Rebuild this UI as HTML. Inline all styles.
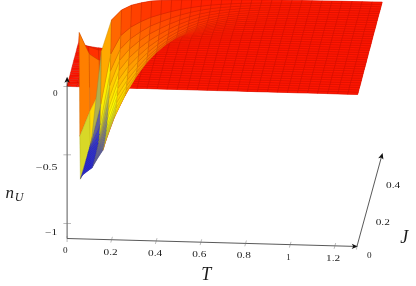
<!DOCTYPE html>
<html><head><meta charset="utf-8"><title>n_U(T,J) surface</title>
<style>
html,body{margin:0;padding:0;background:#fff;}
body{width:416px;height:286px;overflow:hidden;font-family:"Liberation Serif",serif;}
svg{display:block;}
text{font-family:"Liberation Serif",serif;}
</style></head><body>
<svg width="416" height="286" viewBox="0 0 416 286">
<rect width="416" height="286" fill="#fff"/>
<g stroke-width="0.42" stroke-linejoin="round">
<path d="M87.0 87.0L97.0 87.3L97.6 84.9L87.6 84.7ZM97.0 87.3L107.0 87.5L107.6 85.2L97.6 84.9ZM107.0 87.5L117.0 87.8L117.7 85.5L107.6 85.2ZM117.0 87.8L127.1 88.1L127.7 85.8L117.7 85.5ZM127.1 88.1L137.1 88.4L137.7 86.0L127.7 85.8ZM137.1 88.4L147.1 88.6L147.7 86.3L137.7 86.0ZM147.1 88.6L157.2 88.9L157.8 86.6L147.7 86.3ZM157.2 88.9L167.2 89.2L167.8 86.9L157.8 86.6ZM167.2 89.2L177.2 89.5L177.8 87.1L167.8 86.9ZM177.2 89.5L187.2 89.7L187.8 87.4L177.8 87.1ZM187.2 89.7L197.3 90.0L197.9 87.7L187.8 87.4ZM197.3 90.0L207.3 90.3L207.9 88.0L197.9 87.7ZM207.3 90.3L217.3 90.6L217.9 88.2L207.9 88.0ZM217.3 90.6L227.3 90.8L228.0 88.5L217.9 88.2ZM227.3 90.8L237.4 91.1L238.0 88.8L228.0 88.5ZM237.4 91.1L247.4 91.4L248.0 89.1L238.0 88.8ZM247.4 91.4L257.4 91.7L258.0 89.3L248.0 89.1ZM257.4 91.7L267.5 91.9L268.1 89.6L258.0 89.3ZM267.5 91.9L277.5 92.2L278.1 89.9L268.1 89.6ZM277.5 92.2L287.5 92.5L288.1 90.2L278.1 89.9ZM287.5 92.5L297.5 92.8L298.2 90.4L288.1 90.2ZM297.5 92.8L307.6 93.0L308.2 90.7L298.2 90.4ZM307.6 93.0L317.6 93.3L318.2 91.0L308.2 90.7ZM317.6 93.3L327.6 93.6L328.2 91.3L318.2 91.0ZM327.6 93.6L337.7 93.9L338.3 91.6L328.2 91.3ZM337.7 93.9L347.7 94.2L348.3 91.8L338.3 91.6ZM347.7 94.2L357.7 94.4L358.3 92.1L348.3 91.8ZM87.6 84.7L97.6 84.9L98.2 82.6L88.2 82.3ZM97.6 84.9L107.6 85.2L108.2 82.9L98.2 82.6ZM107.6 85.2L117.7 85.5L118.3 83.2L108.2 82.9ZM117.7 85.5L127.7 85.8L128.3 83.4L118.3 83.2ZM127.7 85.8L137.7 86.0L138.3 83.7L128.3 83.4ZM137.7 86.0L147.7 86.3L148.3 84.0L138.3 83.7ZM147.7 86.3L157.8 86.6L158.4 84.3L148.3 84.0ZM157.8 86.6L167.8 86.9L168.4 84.5L158.4 84.3ZM167.8 86.9L177.8 87.1L178.4 84.8L168.4 84.5ZM177.8 87.1L187.8 87.4L188.5 85.1L178.4 84.8ZM187.8 87.4L197.9 87.7L198.5 85.4L188.5 85.1ZM197.9 87.7L207.9 88.0L208.5 85.6L198.5 85.4ZM207.9 88.0L217.9 88.2L218.5 85.9L208.5 85.6ZM217.9 88.2L228.0 88.5L228.6 86.2L218.5 85.9ZM228.0 88.5L238.0 88.8L238.6 86.5L228.6 86.2ZM238.0 88.8L248.0 89.1L248.6 86.7L238.6 86.5ZM248.0 89.1L258.0 89.3L258.7 87.0L248.6 86.7ZM258.0 89.3L268.1 89.6L268.7 87.3L258.7 87.0ZM268.1 89.6L278.1 89.9L278.7 87.6L268.7 87.3ZM278.1 89.9L288.1 90.2L288.7 87.8L278.7 87.6ZM288.1 90.2L298.2 90.4L298.8 88.1L288.7 87.8ZM298.2 90.4L308.2 90.7L308.8 88.4L298.8 88.1ZM308.2 90.7L318.2 91.0L318.8 88.7L308.8 88.4ZM318.2 91.0L328.2 91.3L328.9 89.0L318.8 88.7ZM328.2 91.3L338.3 91.6L338.9 89.2L328.9 89.0ZM338.3 91.6L348.3 91.8L348.9 89.5L338.9 89.2ZM348.3 91.8L358.3 92.1L358.9 89.8L348.9 89.5ZM88.2 82.3L98.2 82.6L98.8 80.3L88.8 80.0ZM98.2 82.6L108.2 82.9L108.8 80.6L98.8 80.3ZM108.2 82.9L118.3 83.2L118.9 80.8L108.8 80.6ZM118.3 83.2L128.3 83.4L128.9 81.1L118.9 80.8ZM128.3 83.4L138.3 83.7L138.9 81.4L128.9 81.1ZM138.3 83.7L148.3 84.0L149.0 81.7L138.9 81.4ZM148.3 84.0L158.4 84.3L159.0 81.9L149.0 81.7ZM158.4 84.3L168.4 84.5L169.0 82.2L159.0 81.9ZM168.4 84.5L178.4 84.8L179.0 82.5L169.0 82.2ZM178.4 84.8L188.5 85.1L189.1 82.8L179.0 82.5ZM188.5 85.1L198.5 85.4L199.1 83.0L189.1 82.8ZM198.5 85.4L208.5 85.6L209.1 83.3L199.1 83.0ZM208.5 85.6L218.5 85.9L219.2 83.6L209.1 83.3ZM218.5 85.9L228.6 86.2L229.2 83.9L219.2 83.6ZM228.6 86.2L238.6 86.5L239.2 84.1L229.2 83.9ZM238.6 86.5L248.6 86.7L249.2 84.4L239.2 84.1ZM248.6 86.7L258.7 87.0L259.3 84.7L249.2 84.4ZM258.7 87.0L268.7 87.3L269.3 85.0L259.3 84.7ZM268.7 87.3L278.7 87.6L279.3 85.2L269.3 85.0ZM278.7 87.6L288.7 87.8L289.4 85.5L279.3 85.2ZM288.7 87.8L298.8 88.1L299.4 85.8L289.4 85.5ZM298.8 88.1L308.8 88.4L309.4 86.1L299.4 85.8ZM308.8 88.4L318.8 88.7L319.4 86.4L309.4 86.1ZM318.8 88.7L328.9 89.0L329.5 86.6L319.4 86.4ZM328.9 89.0L338.9 89.2L339.5 86.9L329.5 86.6ZM338.9 89.2L348.9 89.5L349.5 87.2L339.5 86.9ZM348.9 89.5L358.9 89.8L359.5 87.5L349.5 87.2ZM88.8 80.0L98.8 80.3L99.4 78.0L89.4 77.7ZM98.8 80.3L108.8 80.6L109.5 78.2L99.4 78.0ZM108.8 80.6L118.9 80.8L119.5 78.5L109.5 78.2ZM118.9 80.8L128.9 81.1L129.5 78.8L119.5 78.5ZM128.9 81.1L138.9 81.4L139.5 79.1L129.5 78.8ZM138.9 81.4L149.0 81.7L149.6 79.3L139.5 79.1ZM149.0 81.7L159.0 81.9L159.6 79.6L149.6 79.3ZM159.0 81.9L169.0 82.2L169.6 79.9L159.6 79.6ZM169.0 82.2L179.0 82.5L179.7 80.2L169.6 79.9ZM179.0 82.5L189.1 82.8L189.7 80.4L179.7 80.2ZM189.1 82.8L199.1 83.0L199.7 80.7L189.7 80.4ZM199.1 83.0L209.1 83.3L209.7 81.0L199.7 80.7ZM209.1 83.3L219.2 83.6L219.8 81.3L209.7 81.0ZM219.2 83.6L229.2 83.9L229.8 81.5L219.8 81.3ZM229.2 83.9L239.2 84.1L239.8 81.8L229.8 81.5ZM239.2 84.1L249.2 84.4L249.9 82.1L239.8 81.8ZM249.2 84.4L259.3 84.7L259.9 82.4L249.9 82.1ZM259.3 84.7L269.3 85.0L269.9 82.6L259.9 82.4ZM269.3 85.0L279.3 85.2L279.9 82.9L269.9 82.6ZM279.3 85.2L289.4 85.5L290.0 83.2L279.9 82.9ZM289.4 85.5L299.4 85.8L300.0 83.5L290.0 83.2ZM299.4 85.8L309.4 86.1L310.0 83.8L300.0 83.5ZM309.4 86.1L319.4 86.4L320.0 84.0L310.0 83.8ZM319.4 86.4L329.5 86.6L330.1 84.3L320.0 84.0ZM329.5 86.6L339.5 86.9L340.1 84.6L330.1 84.3ZM339.5 86.9L349.5 87.2L350.1 84.9L340.1 84.6ZM349.5 87.2L359.5 87.5L360.2 85.1L350.1 84.9ZM89.4 77.7L99.4 78.0L100.0 75.6L90.0 75.4ZM99.4 78.0L109.5 78.2L110.1 75.9L100.0 75.6ZM109.5 78.2L119.5 78.5L120.1 76.2L110.1 75.9ZM119.5 78.5L129.5 78.8L130.1 76.5L120.1 76.2ZM129.5 78.8L139.5 79.1L140.2 76.7L130.1 76.5ZM139.5 79.1L149.6 79.3L150.2 77.0L140.2 76.7ZM149.6 79.3L159.6 79.6L160.2 77.3L150.2 77.0ZM159.6 79.6L169.6 79.9L170.2 77.6L160.2 77.3ZM169.6 79.9L179.7 80.2L180.3 77.8L170.2 77.6ZM179.7 80.2L189.7 80.4L190.3 78.1L180.3 77.8ZM189.7 80.4L199.7 80.7L200.3 78.4L190.3 78.1ZM199.7 80.7L209.7 81.0L210.4 78.7L200.3 78.4ZM209.7 81.0L219.8 81.3L220.4 78.9L210.4 78.7ZM219.8 81.3L229.8 81.5L230.4 79.2L220.4 78.9ZM229.8 81.5L239.8 81.8L240.4 79.5L230.4 79.2ZM239.8 81.8L249.9 82.1L250.5 79.8L240.4 79.5ZM249.9 82.1L259.9 82.4L260.5 80.1L250.5 79.8ZM259.9 82.4L269.9 82.6L270.5 80.3L260.5 80.1ZM269.9 82.6L279.9 82.9L280.5 80.6L270.5 80.3ZM279.9 82.9L290.0 83.2L290.6 80.9L280.5 80.6ZM290.0 83.2L300.0 83.5L300.6 81.2L290.6 80.9ZM300.0 83.5L310.0 83.8L310.6 81.4L300.6 81.2ZM310.0 83.8L320.0 84.0L320.7 81.7L310.6 81.4ZM320.0 84.0L330.1 84.3L330.7 82.0L320.7 81.7ZM330.1 84.3L340.1 84.6L340.7 82.3L330.7 82.0ZM340.1 84.6L350.1 84.9L350.7 82.5L340.7 82.3ZM350.1 84.9L360.2 85.1L360.8 82.8L350.7 82.5ZM90.0 75.4L100.0 75.6L100.7 73.3L90.6 73.0ZM100.0 75.6L110.1 75.9L110.7 73.6L100.7 73.3ZM110.1 75.9L120.1 76.2L120.7 73.9L110.7 73.6ZM120.1 76.2L130.1 76.5L130.7 74.1L120.7 73.9ZM130.1 76.5L140.2 76.7L140.8 74.4L130.7 74.1ZM140.2 76.7L150.2 77.0L150.8 74.7L140.8 74.4ZM150.2 77.0L160.2 77.3L160.8 75.0L150.8 74.7ZM160.2 77.3L170.2 77.6L170.9 75.2L160.8 75.0ZM170.2 77.6L180.3 77.8L180.9 75.5L170.9 75.2ZM180.3 77.8L190.3 78.1L190.9 75.8L180.9 75.5ZM190.3 78.1L200.3 78.4L200.9 76.1L190.9 75.8ZM200.3 78.4L210.4 78.7L211.0 76.3L200.9 76.1ZM210.4 78.7L220.4 78.9L221.0 76.6L211.0 76.3ZM220.4 78.9L230.4 79.2L231.0 76.9L221.0 76.6ZM230.4 79.2L240.4 79.5L241.0 77.2L231.0 76.9ZM240.4 79.5L250.5 79.8L251.1 77.5L241.0 77.2ZM250.5 79.8L260.5 80.1L261.1 77.7L251.1 77.5ZM260.5 80.1L270.5 80.3L271.1 78.0L261.1 77.7ZM270.5 80.3L280.5 80.6L281.2 78.3L271.1 78.0ZM280.5 80.6L290.6 80.9L291.2 78.6L281.2 78.3ZM290.6 80.9L300.6 81.2L301.2 78.8L291.2 78.6ZM300.6 81.2L310.6 81.4L311.2 79.1L301.2 78.8ZM310.6 81.4L320.7 81.7L321.3 79.4L311.2 79.1ZM320.7 81.7L330.7 82.0L331.3 79.7L321.3 79.4ZM330.7 82.0L340.7 82.3L341.3 79.9L331.3 79.7ZM340.7 82.3L350.7 82.5L351.4 80.2L341.3 79.9ZM350.7 82.5L360.8 82.8L361.4 80.5L351.4 80.2ZM90.6 73.0L100.7 73.3L101.3 71.0L91.2 70.7ZM100.7 73.3L110.7 73.6L111.3 71.3L101.3 71.0ZM110.7 73.6L120.7 73.9L121.3 71.5L111.3 71.3ZM120.7 73.9L130.7 74.1L131.4 71.8L121.3 71.5ZM130.7 74.1L140.8 74.4L141.4 72.1L131.4 71.8ZM140.8 74.4L150.8 74.7L151.4 72.4L141.4 72.1ZM150.8 74.7L160.8 75.0L161.4 72.6L151.4 72.4ZM160.8 75.0L170.9 75.2L171.5 72.9L161.4 72.6ZM170.9 75.2L180.9 75.5L181.5 73.2L171.5 72.9ZM180.9 75.5L190.9 75.8L191.5 73.5L181.5 73.2ZM190.9 75.8L200.9 76.1L201.6 73.8L191.5 73.5ZM200.9 76.1L211.0 76.3L211.6 74.0L201.6 73.8ZM211.0 76.3L221.0 76.6L221.6 74.3L211.6 74.0ZM221.0 76.6L231.0 76.9L231.6 74.6L221.6 74.3ZM231.0 76.9L241.0 77.2L241.7 74.9L231.6 74.6ZM241.0 77.2L251.1 77.5L251.7 75.1L241.7 74.9ZM251.1 77.5L261.1 77.7L261.7 75.4L251.7 75.1ZM261.1 77.7L271.1 78.0L271.7 75.7L261.7 75.4ZM271.1 78.0L281.2 78.3L281.8 76.0L271.7 75.7ZM281.2 78.3L291.2 78.6L291.8 76.2L281.8 76.0ZM291.2 78.6L301.2 78.8L301.8 76.5L291.8 76.2ZM301.2 78.8L311.2 79.1L311.9 76.8L301.8 76.5ZM311.2 79.1L321.3 79.4L321.9 77.1L311.9 76.8ZM321.3 79.4L331.3 79.7L331.9 77.3L321.9 77.1ZM331.3 79.7L341.3 79.9L341.9 77.6L331.9 77.3ZM341.3 79.9L351.4 80.2L352.0 77.9L341.9 77.6ZM351.4 80.2L361.4 80.5L362.0 78.2L352.0 77.9ZM91.2 70.7L101.3 71.0L101.9 68.7L91.9 68.4ZM101.3 71.0L111.3 71.3L111.9 68.9L101.9 68.7ZM111.3 71.3L121.3 71.5L121.9 69.2L111.9 68.9ZM121.3 71.5L131.4 71.8L132.0 69.5L121.9 69.2ZM131.4 71.8L141.4 72.1L142.0 69.8L132.0 69.5ZM141.4 72.1L151.4 72.4L152.0 70.1L142.0 69.8ZM151.4 72.4L161.4 72.6L162.1 70.3L152.0 70.1ZM161.4 72.6L171.5 72.9L172.1 70.6L162.1 70.3ZM171.5 72.9L181.5 73.2L182.1 70.9L172.1 70.6ZM181.5 73.2L191.5 73.5L192.1 71.2L182.1 70.9ZM191.5 73.5L201.6 73.8L202.2 71.4L192.1 71.2ZM201.6 73.8L211.6 74.0L212.2 71.7L202.2 71.4ZM211.6 74.0L221.6 74.3L222.2 72.0L212.2 71.7ZM221.6 74.3L231.6 74.6L232.2 72.3L222.2 72.0ZM231.6 74.6L241.7 74.9L242.3 72.5L232.2 72.3ZM241.7 74.9L251.7 75.1L252.3 72.8L242.3 72.5ZM251.7 75.1L261.7 75.4L262.3 73.1L252.3 72.8ZM261.7 75.4L271.7 75.7L272.4 73.4L262.3 73.1ZM271.7 75.7L281.8 76.0L282.4 73.6L272.4 73.4ZM281.8 76.0L291.8 76.2L292.4 73.9L282.4 73.6ZM291.8 76.2L301.8 76.5L302.4 74.2L292.4 73.9ZM301.8 76.5L311.9 76.8L312.5 74.5L302.4 74.2ZM311.9 76.8L321.9 77.1L322.5 74.7L312.5 74.5ZM321.9 77.1L331.9 77.3L332.5 75.0L322.5 74.7ZM331.9 77.3L341.9 77.6L342.6 75.3L332.5 75.0ZM341.9 77.6L352.0 77.9L352.6 75.6L342.6 75.3ZM352.0 77.9L362.0 78.2L362.6 75.8L352.6 75.6ZM91.9 68.4L101.9 68.7L102.5 66.3L92.5 66.1ZM101.9 68.7L111.9 68.9L112.5 66.6L102.5 66.3ZM111.9 68.9L121.9 69.2L122.6 66.9L112.5 66.6ZM121.9 69.2L132.0 69.5L132.6 67.2L122.6 66.9ZM132.0 69.5L142.0 69.8L142.6 67.5L132.6 67.2ZM142.0 69.8L152.0 70.1L152.6 67.7L142.6 67.5ZM152.0 70.1L162.1 70.3L162.7 68.0L152.6 67.7ZM162.1 70.3L172.1 70.6L172.7 68.3L162.7 68.0ZM172.1 70.6L182.1 70.9L182.7 68.6L172.7 68.3ZM182.1 70.9L192.1 71.2L192.7 68.8L182.7 68.6ZM192.1 71.2L202.2 71.4L202.8 69.1L192.7 68.8ZM202.2 71.4L212.2 71.7L212.8 69.4L202.8 69.1ZM212.2 71.7L222.2 72.0L222.8 69.7L212.8 69.4ZM222.2 72.0L232.2 72.3L232.9 69.9L222.8 69.7ZM232.2 72.3L242.3 72.5L242.9 70.2L232.9 69.9ZM242.3 72.5L252.3 72.8L252.9 70.5L242.9 70.2ZM252.3 72.8L262.3 73.1L262.9 70.8L252.9 70.5ZM262.3 73.1L272.4 73.4L273.0 71.0L262.9 70.8ZM272.4 73.4L282.4 73.6L283.0 71.3L273.0 71.0ZM282.4 73.6L292.4 73.9L293.0 71.6L283.0 71.3ZM292.4 73.9L302.4 74.2L303.1 71.9L293.0 71.6ZM302.4 74.2L312.5 74.5L313.1 72.1L303.1 71.9ZM312.5 74.5L322.5 74.7L323.1 72.4L313.1 72.1ZM322.5 74.7L332.5 75.0L333.1 72.7L323.1 72.4ZM332.5 75.0L342.6 75.3L343.2 73.0L333.1 72.7ZM342.6 75.3L352.6 75.6L353.2 73.2L343.2 73.0ZM352.6 75.6L362.6 75.8L363.2 73.5L353.2 73.2ZM92.5 66.1L102.5 66.3L103.1 64.0L93.1 63.7ZM102.5 66.3L112.5 66.6L113.1 64.3L103.1 64.0ZM112.5 66.6L122.6 66.9L123.2 64.6L113.1 64.3ZM122.6 66.9L132.6 67.2L133.2 64.9L123.2 64.6ZM132.6 67.2L142.6 67.5L143.2 65.1L133.2 64.9ZM142.6 67.5L152.6 67.7L153.2 65.4L143.2 65.1ZM152.6 67.7L162.7 68.0L163.3 65.7L153.2 65.4ZM162.7 68.0L172.7 68.3L173.3 66.0L163.3 65.7ZM172.7 68.3L182.7 68.6L183.3 66.2L173.3 66.0ZM182.7 68.6L192.7 68.8L193.4 66.5L183.3 66.2ZM192.7 68.8L202.8 69.1L203.4 66.8L193.4 66.5ZM202.8 69.1L212.8 69.4L213.4 67.1L203.4 66.8ZM212.8 69.4L222.8 69.7L223.4 67.3L213.4 67.1ZM222.8 69.7L232.9 69.9L233.5 67.6L223.4 67.3ZM232.9 69.9L242.9 70.2L243.5 67.9L233.5 67.6ZM242.9 70.2L252.9 70.5L253.5 68.2L243.5 67.9ZM252.9 70.5L262.9 70.8L263.6 68.4L253.5 68.2ZM262.9 70.8L273.0 71.0L273.6 68.7L263.6 68.4ZM273.0 71.0L283.0 71.3L283.6 69.0L273.6 68.7ZM283.0 71.3L293.0 71.6L293.6 69.3L283.6 69.0ZM293.0 71.6L303.1 71.9L303.7 69.5L293.6 69.3ZM303.1 71.9L313.1 72.1L313.7 69.8L303.7 69.5ZM313.1 72.1L323.1 72.4L323.7 70.1L313.7 69.8ZM323.1 72.4L333.1 72.7L333.8 70.4L323.7 70.1ZM333.1 72.7L343.2 73.0L343.8 70.6L333.8 70.4ZM343.2 73.0L353.2 73.2L353.8 70.9L343.8 70.6ZM353.2 73.2L363.2 73.5L363.8 71.2L353.8 70.9ZM93.1 63.7L103.1 64.0L103.7 61.7L93.7 61.4ZM103.1 64.0L113.1 64.3L113.7 62.0L103.7 61.7ZM113.1 64.3L123.2 64.6L123.8 62.3L113.7 62.0ZM123.2 64.6L133.2 64.9L133.8 62.6L123.8 62.3ZM133.2 64.9L143.2 65.1L143.8 62.8L133.8 62.6ZM143.2 65.1L153.2 65.4L153.9 63.1L143.8 62.8ZM153.2 65.4L163.3 65.7L163.9 63.4L153.9 63.1ZM163.3 65.7L173.3 66.0L173.9 63.7L163.9 63.4ZM173.3 66.0L183.3 66.2L183.9 63.9L173.9 63.7ZM183.3 66.2L193.4 66.5L194.0 64.2L183.9 63.9ZM193.4 66.5L203.4 66.8L204.0 64.5L194.0 64.2ZM203.4 66.8L213.4 67.1L214.0 64.8L204.0 64.5ZM213.4 67.1L223.4 67.3L224.1 65.0L214.0 64.8ZM223.4 67.3L233.5 67.6L234.1 65.3L224.1 65.0ZM233.5 67.6L243.5 67.9L244.1 65.6L234.1 65.3ZM243.5 67.9L253.5 68.2L254.1 65.8L244.1 65.6ZM253.5 68.2L263.6 68.4L264.2 66.1L254.1 65.8ZM263.6 68.4L273.6 68.7L274.2 66.4L264.2 66.1ZM273.6 68.7L283.6 69.0L284.2 66.7L274.2 66.4ZM283.6 69.0L293.6 69.3L294.3 66.9L284.2 66.7ZM293.6 69.3L303.7 69.5L304.3 67.2L294.3 66.9ZM303.7 69.5L313.7 69.8L314.3 67.5L304.3 67.2ZM313.7 69.8L323.7 70.1L324.3 67.8L314.3 67.5ZM323.7 70.1L333.8 70.4L334.4 68.0L324.3 67.8ZM333.8 70.4L343.8 70.6L344.4 68.3L334.4 68.0ZM343.8 70.6L353.8 70.9L354.4 68.6L344.4 68.3ZM353.8 70.9L363.8 71.2L364.4 68.9L354.4 68.6ZM93.7 61.4L103.7 61.7L104.3 59.4L94.3 59.1ZM103.7 61.7L113.7 62.0L114.4 59.7L104.3 59.4ZM113.7 62.0L123.8 62.3L124.4 60.0L114.4 59.7ZM123.8 62.3L133.8 62.6L134.4 60.3L124.4 60.0ZM133.8 62.6L143.8 62.8L144.4 60.6L134.4 60.3ZM143.8 62.8L153.9 63.1L154.5 60.8L144.4 60.6ZM153.9 63.1L163.9 63.4L164.5 61.1L154.5 60.8ZM163.9 63.4L173.9 63.7L174.5 61.4L164.5 61.1ZM173.9 63.7L183.9 63.9L184.6 61.6L174.5 61.4ZM183.9 63.9L194.0 64.2L194.6 61.9L184.6 61.6ZM194.0 64.2L204.0 64.5L204.6 62.2L194.6 61.9ZM204.0 64.5L214.0 64.8L214.6 62.4L204.6 62.2ZM214.0 64.8L224.1 65.0L224.7 62.7L214.6 62.4ZM224.1 65.0L234.1 65.3L234.7 63.0L224.7 62.7ZM234.1 65.3L244.1 65.6L244.7 63.3L234.7 63.0ZM244.1 65.6L254.1 65.8L254.8 63.5L244.7 63.3ZM254.1 65.8L264.2 66.1L264.8 63.8L254.8 63.5ZM264.2 66.1L274.2 66.4L274.8 64.1L264.8 63.8ZM274.2 66.4L284.2 66.7L284.8 64.3L274.8 64.1ZM284.2 66.7L294.3 66.9L294.9 64.6L284.8 64.3ZM294.3 66.9L304.3 67.2L304.9 64.9L294.9 64.6ZM304.3 67.2L314.3 67.5L314.9 65.2L304.9 64.9ZM314.3 67.5L324.3 67.8L324.9 65.4L314.9 65.2ZM324.3 67.8L334.4 68.0L335.0 65.7L324.9 65.4ZM334.4 68.0L344.4 68.3L345.0 66.0L335.0 65.7ZM344.4 68.3L354.4 68.6L355.0 66.3L345.0 66.0ZM354.4 68.6L364.4 68.9L365.1 66.5L355.0 66.3ZM94.3 59.1L104.3 59.4L104.9 57.2L94.9 56.8ZM104.3 59.4L114.4 59.7L115.0 57.5L104.9 57.2ZM114.4 59.7L124.4 60.0L125.0 57.8L115.0 57.5ZM124.4 60.0L134.4 60.3L135.0 58.0L125.0 57.8ZM134.4 60.3L144.4 60.6L145.1 58.3L135.0 58.0ZM144.4 60.6L154.5 60.8L155.1 58.5L145.1 58.3ZM154.5 60.8L164.5 61.1L165.1 58.8L155.1 58.5ZM164.5 61.1L174.5 61.4L175.1 59.1L165.1 58.8ZM174.5 61.4L184.6 61.6L185.2 59.3L175.1 59.1ZM184.6 61.6L194.6 61.9L195.2 59.6L185.2 59.3ZM194.6 61.9L204.6 62.2L205.2 59.9L195.2 59.6ZM204.6 62.2L214.6 62.4L215.3 60.1L205.2 59.9ZM214.6 62.4L224.7 62.7L225.3 60.4L215.3 60.1ZM224.7 62.7L234.7 63.0L235.3 60.7L225.3 60.4ZM234.7 63.0L244.7 63.3L245.3 60.9L235.3 60.7ZM244.7 63.3L254.8 63.5L255.4 61.2L245.3 60.9ZM254.8 63.5L264.8 63.8L265.4 61.5L255.4 61.2ZM264.8 63.8L274.8 64.1L275.4 61.8L265.4 61.5ZM274.8 64.1L284.8 64.3L285.4 62.0L275.4 61.8ZM284.8 64.3L294.9 64.6L295.5 62.3L285.4 62.0ZM294.9 64.6L304.9 64.9L305.5 62.6L295.5 62.3ZM304.9 64.9L314.9 65.2L315.5 62.8L305.5 62.6ZM314.9 65.2L324.9 65.4L325.6 63.1L315.5 62.8ZM324.9 65.4L335.0 65.7L335.6 63.4L325.6 63.1ZM335.0 65.7L345.0 66.0L345.6 63.7L335.6 63.4ZM345.0 66.0L355.0 66.3L355.6 63.9L345.6 63.7ZM355.0 66.3L365.1 66.5L365.7 64.2L355.6 63.9ZM94.9 56.8L104.9 57.2L105.6 55.0L95.5 54.4ZM104.9 57.2L115.0 57.5L115.6 55.3L105.6 55.0ZM115.0 57.5L125.0 57.8L125.6 55.5L115.6 55.3ZM125.0 57.8L135.0 58.0L135.6 55.8L125.6 55.5ZM135.0 58.0L145.1 58.3L145.7 56.0L135.6 55.8ZM145.1 58.3L155.1 58.5L155.7 56.3L145.7 56.0ZM155.1 58.5L165.1 58.8L165.7 56.5L155.7 56.3ZM165.1 58.8L175.1 59.1L175.8 56.8L165.7 56.5ZM175.1 59.1L185.2 59.3L185.8 57.0L175.8 56.8ZM185.2 59.3L195.2 59.6L195.8 57.3L185.8 57.0ZM195.2 59.6L205.2 59.9L205.8 57.6L195.8 57.3ZM205.2 59.9L215.3 60.1L215.9 57.8L205.8 57.6ZM215.3 60.1L225.3 60.4L225.9 58.1L215.9 57.8ZM225.3 60.4L235.3 60.7L235.9 58.4L225.9 58.1ZM235.3 60.7L245.3 60.9L245.9 58.6L235.9 58.4ZM245.3 60.9L255.4 61.2L256.0 58.9L245.9 58.6ZM255.4 61.2L265.4 61.5L266.0 59.2L256.0 58.9ZM265.4 61.5L275.4 61.8L276.0 59.4L266.0 59.2ZM275.4 61.8L285.4 62.0L286.1 59.7L276.0 59.4ZM285.4 62.0L295.5 62.3L296.1 60.0L286.1 59.7ZM295.5 62.3L305.5 62.6L306.1 60.3L296.1 60.0ZM305.5 62.6L315.5 62.8L316.1 60.5L306.1 60.3ZM315.5 62.8L325.6 63.1L326.2 60.8L316.1 60.5ZM325.6 63.1L335.6 63.4L336.2 61.1L326.2 60.8ZM335.6 63.4L345.6 63.7L346.2 61.3L336.2 61.1ZM345.6 63.7L355.6 63.9L356.3 61.6L346.2 61.3ZM355.6 63.9L365.7 64.2L366.3 61.9L356.3 61.6ZM95.5 54.4L105.6 55.0L106.2 53.0L96.1 52.1ZM105.6 55.0L115.6 55.3L116.2 53.2L106.2 53.0ZM115.6 55.3L125.6 55.5L126.2 53.4L116.2 53.2ZM125.6 55.5L135.6 55.8L136.3 53.6L126.2 53.4ZM135.6 55.8L145.7 56.0L146.3 53.8L136.3 53.6ZM145.7 56.0L155.7 56.3L156.3 54.1L146.3 53.8ZM155.7 56.3L165.7 56.5L166.3 54.3L156.3 54.1ZM165.7 56.5L175.8 56.8L176.4 54.5L166.3 54.3ZM175.8 56.8L185.8 57.0L186.4 54.8L176.4 54.5ZM185.8 57.0L195.8 57.3L196.4 55.0L186.4 54.8ZM195.8 57.3L205.8 57.6L206.5 55.3L196.4 55.0ZM205.8 57.6L215.9 57.8L216.5 55.5L206.5 55.3ZM215.9 57.8L225.9 58.1L226.5 55.8L216.5 55.5ZM225.9 58.1L235.9 58.4L236.5 56.1L226.5 55.8ZM235.9 58.4L245.9 58.6L246.6 56.3L236.5 56.1ZM245.9 58.6L256.0 58.9L256.6 56.6L246.6 56.3ZM256.0 58.9L266.0 59.2L266.6 56.9L256.6 56.6ZM266.0 59.2L276.0 59.4L276.6 57.1L266.6 56.9ZM276.0 59.4L286.1 59.7L286.7 57.4L276.6 57.1ZM286.1 59.7L296.1 60.0L296.7 57.7L286.7 57.4ZM296.1 60.0L306.1 60.3L306.7 57.9L296.7 57.7ZM306.1 60.3L316.1 60.5L316.8 58.2L306.7 57.9ZM316.1 60.5L326.2 60.8L326.8 58.5L316.8 58.2ZM326.2 60.8L336.2 61.1L336.8 58.8L326.8 58.5ZM336.2 61.1L346.2 61.3L346.8 59.0L336.8 58.8ZM346.2 61.3L356.3 61.6L356.9 59.3L346.8 59.0ZM356.3 61.6L366.3 61.9L366.9 59.6L356.9 59.3ZM96.1 52.1L106.2 53.0L106.8 51.2L96.8 50.3ZM106.2 53.0L116.2 53.2L116.8 51.3L106.8 51.2ZM116.2 53.2L126.2 53.4L126.8 51.4L116.8 51.3ZM126.2 53.4L136.3 53.6L136.9 51.5L126.8 51.4ZM136.3 53.6L146.3 53.8L146.9 51.7L136.9 51.5ZM146.3 53.8L156.3 54.1L156.9 51.9L146.9 51.7ZM156.3 54.1L166.3 54.3L167.0 52.1L156.9 51.9ZM166.3 54.3L176.4 54.5L177.0 52.3L167.0 52.1ZM176.4 54.5L186.4 54.8L187.0 52.5L177.0 52.3ZM186.4 54.8L196.4 55.0L197.0 52.8L187.0 52.5ZM196.4 55.0L206.5 55.3L207.1 53.0L197.0 52.8ZM206.5 55.3L216.5 55.5L217.1 53.3L207.1 53.0ZM216.5 55.5L226.5 55.8L227.1 53.5L217.1 53.3ZM226.5 55.8L236.5 56.1L237.1 53.8L227.1 53.5ZM236.5 56.1L246.6 56.3L247.2 54.0L237.1 53.8ZM246.6 56.3L256.6 56.6L257.2 54.3L247.2 54.0ZM256.6 56.6L266.6 56.9L267.2 54.5L257.2 54.3ZM266.6 56.9L276.6 57.1L277.3 54.8L267.2 54.5ZM276.6 57.1L286.7 57.4L287.3 55.1L277.3 54.8ZM286.7 57.4L296.7 57.7L297.3 55.3L287.3 55.1ZM296.7 57.7L306.7 57.9L307.3 55.6L297.3 55.3ZM306.7 57.9L316.8 58.2L317.4 55.9L307.3 55.6ZM316.8 58.2L326.8 58.5L327.4 56.2L317.4 55.9ZM326.8 58.5L336.8 58.8L337.4 56.4L327.4 56.2ZM336.8 58.8L346.8 59.0L347.5 56.7L337.4 56.4ZM346.8 59.0L356.9 59.3L357.5 57.0L347.5 56.7ZM356.9 59.3L366.9 59.6L367.5 57.3L357.5 57.0ZM96.8 50.3L106.8 51.2L107.4 49.9L97.4 48.8ZM106.8 51.2L116.8 51.3L117.4 49.7L107.4 49.9ZM116.8 51.3L126.8 51.4L127.5 49.6L117.4 49.7ZM126.8 51.4L136.9 51.5L137.5 49.6L127.5 49.6ZM136.9 51.5L146.9 51.7L147.5 49.7L137.5 49.6ZM146.9 51.7L156.9 51.9L157.5 49.8L147.5 49.7ZM156.9 51.9L167.0 52.1L167.6 49.9L157.5 49.8ZM167.0 52.1L177.0 52.3L177.6 50.1L167.6 49.9ZM177.0 52.3L187.0 52.5L187.6 50.3L177.6 50.1ZM187.0 52.5L197.0 52.8L197.6 50.5L187.6 50.3ZM197.0 52.8L207.1 53.0L207.7 50.7L197.6 50.5ZM207.1 53.0L217.1 53.3L217.7 51.0L207.7 50.7ZM217.1 53.3L227.1 53.5L227.7 51.2L217.7 51.0ZM227.1 53.5L237.1 53.8L237.8 51.5L227.7 51.2ZM237.1 53.8L247.2 54.0L247.8 51.7L237.8 51.5ZM247.2 54.0L257.2 54.3L257.8 52.0L247.8 51.7ZM257.2 54.3L267.2 54.5L267.8 52.2L257.8 52.0ZM267.2 54.5L277.3 54.8L277.9 52.5L267.8 52.2ZM277.3 54.8L287.3 55.1L287.9 52.8L277.9 52.5ZM287.3 55.1L297.3 55.3L297.9 53.0L287.9 52.8ZM297.3 55.3L307.3 55.6L308.0 53.3L297.9 53.0ZM307.3 55.6L317.4 55.9L318.0 53.6L308.0 53.3ZM317.4 55.9L327.4 56.2L328.0 53.8L318.0 53.6ZM327.4 56.2L337.4 56.4L338.0 54.1L328.0 53.8ZM337.4 56.4L347.5 56.7L348.1 54.4L338.0 54.1ZM347.5 56.7L357.5 57.0L358.1 54.7L348.1 54.4ZM357.5 57.0L367.5 57.3L368.1 54.9L358.1 54.7ZM97.4 48.8L107.4 49.9L108.0 49.3L98.0 47.9ZM107.4 49.9L117.4 49.7L118.0 48.6L108.0 49.3ZM117.4 49.7L127.5 49.6L128.1 48.2L118.0 48.6ZM127.5 49.6L137.5 49.6L138.1 47.9L128.1 48.2ZM137.5 49.6L147.5 49.7L148.1 47.8L138.1 47.9ZM147.5 49.7L157.5 49.8L158.1 47.8L148.1 47.8ZM157.5 49.8L167.6 49.9L168.2 47.8L158.1 47.8ZM167.6 49.9L177.6 50.1L178.2 48.0L168.2 47.8ZM177.6 50.1L187.6 50.3L188.2 48.1L178.2 48.0ZM187.6 50.3L197.6 50.5L198.3 48.3L188.2 48.1ZM197.6 50.5L207.7 50.7L208.3 48.5L198.3 48.3ZM207.7 50.7L217.7 51.0L218.3 48.7L208.3 48.5ZM217.7 51.0L227.7 51.2L228.3 49.0L218.3 48.7ZM227.7 51.2L237.8 51.5L238.4 49.2L228.3 49.0ZM237.8 51.5L247.8 51.7L248.4 49.4L238.4 49.2ZM247.8 51.7L257.8 52.0L258.4 49.7L248.4 49.4ZM257.8 52.0L267.8 52.2L268.5 49.9L258.4 49.7ZM267.8 52.2L277.9 52.5L278.5 50.2L268.5 49.9ZM277.9 52.5L287.9 52.8L288.5 50.5L278.5 50.2ZM287.9 52.8L297.9 53.0L298.5 50.7L288.5 50.5ZM297.9 53.0L308.0 53.3L308.6 51.0L298.5 50.7ZM308.0 53.3L318.0 53.6L318.6 51.3L308.6 51.0ZM318.0 53.6L328.0 53.8L328.6 51.5L318.6 51.3ZM328.0 53.8L338.0 54.1L338.7 51.8L328.6 51.5ZM338.0 54.1L348.1 54.4L348.7 52.1L338.7 51.8ZM348.1 54.4L358.1 54.7L358.7 52.3L348.7 52.1ZM358.1 54.7L368.1 54.9L368.7 52.6L358.7 52.3ZM98.0 47.9L108.0 49.3L108.6 50.2L98.6 50.1ZM108.0 49.3L118.0 48.6L118.6 48.4L108.6 50.2ZM118.0 48.6L128.1 48.2L128.7 47.2L118.6 48.4ZM128.1 48.2L138.1 47.9L138.7 46.5L128.7 47.2ZM138.1 47.9L148.1 47.8L148.7 46.1L138.7 46.5ZM148.1 47.8L158.1 47.8L158.8 45.9L148.7 46.1ZM158.1 47.8L168.2 47.8L168.8 45.8L158.8 45.9ZM168.2 47.8L178.2 48.0L178.8 45.9L168.8 45.8ZM178.2 48.0L188.2 48.1L188.8 46.0L178.8 45.9ZM188.2 48.1L198.3 48.3L198.9 46.1L188.8 46.0ZM198.3 48.3L208.3 48.5L208.9 46.3L198.9 46.1ZM208.3 48.5L218.3 48.7L218.9 46.5L208.9 46.3ZM218.3 48.7L228.3 49.0L229.0 46.7L218.9 46.5ZM228.3 49.0L238.4 49.2L239.0 46.9L229.0 46.7ZM238.4 49.2L248.4 49.4L249.0 47.1L239.0 46.9ZM248.4 49.4L258.4 49.7L259.0 47.4L249.0 47.1ZM258.4 49.7L268.5 49.9L269.1 47.6L259.0 47.4ZM268.5 49.9L278.5 50.2L279.1 47.9L269.1 47.6ZM278.5 50.2L288.5 50.5L289.1 48.2L279.1 47.9ZM288.5 50.5L298.5 50.7L299.2 48.4L289.1 48.2ZM298.5 50.7L308.6 51.0L309.2 48.7L299.2 48.4ZM308.6 51.0L318.6 51.3L319.2 48.9L309.2 48.7ZM318.6 51.3L328.6 51.5L329.2 49.2L319.2 48.9ZM328.6 51.5L338.7 51.8L339.3 49.5L329.2 49.2ZM338.7 51.8L348.7 52.1L349.3 49.8L339.3 49.5ZM348.7 52.1L358.7 52.3L359.3 50.0L349.3 49.8ZM358.7 52.3L368.7 52.6L369.3 50.3L359.3 50.0ZM98.6 50.1L108.6 50.2L109.2 53.5L99.2 60.5ZM108.6 50.2L118.6 48.4L119.3 49.6L109.2 53.5ZM118.6 48.4L128.7 47.2L129.3 47.1L119.3 49.6ZM128.7 47.2L138.7 46.5L139.3 45.6L129.3 47.1ZM138.7 46.5L148.7 46.1L149.3 44.7L139.3 45.6ZM148.7 46.1L158.8 45.9L159.4 44.3L149.3 44.7ZM158.8 45.9L168.8 45.8L169.4 44.0L159.4 44.3ZM168.8 45.8L178.8 45.9L179.4 43.9L169.4 44.0ZM178.8 45.9L188.8 46.0L189.5 43.9L179.4 43.9ZM188.8 46.0L198.9 46.1L199.5 44.0L189.5 43.9ZM198.9 46.1L208.9 46.3L209.5 44.1L199.5 44.0ZM208.9 46.3L218.9 46.5L219.5 44.3L209.5 44.1ZM218.9 46.5L229.0 46.7L229.6 44.5L219.5 44.3ZM229.0 46.7L239.0 46.9L239.6 44.7L229.6 44.5ZM239.0 46.9L249.0 47.1L249.6 44.9L239.6 44.7ZM249.0 47.1L259.0 47.4L259.7 45.1L249.6 44.9ZM259.0 47.4L269.1 47.6L269.7 45.3L259.7 45.1ZM269.1 47.6L279.1 47.9L279.7 45.6L269.7 45.3ZM279.1 47.9L289.1 48.2L289.7 45.8L279.7 45.6ZM289.1 48.2L299.2 48.4L299.8 46.1L289.7 45.8ZM299.2 48.4L309.2 48.7L309.8 46.4L299.8 46.1ZM309.2 48.7L319.2 48.9L319.8 46.6L309.8 46.4ZM319.2 48.9L329.2 49.2L329.8 46.9L319.8 46.6ZM329.2 49.2L339.3 49.5L339.9 47.2L329.8 46.9ZM339.3 49.5L349.3 49.8L349.9 47.4L339.9 47.2ZM349.3 49.8L359.3 50.0L359.9 47.7L349.9 47.4ZM359.3 50.0L369.3 50.3L370.0 48.0L359.9 47.7ZM99.2 60.5L109.2 53.5L109.8 60.0L99.8 91.6ZM109.2 53.5L119.3 49.6L119.9 52.7L109.8 60.0ZM119.3 49.6L129.3 47.1L129.9 48.2L119.9 52.7ZM129.3 47.1L139.3 45.6L139.9 45.5L129.9 48.2ZM139.3 45.6L149.3 44.7L150.0 43.8L139.9 45.5ZM149.3 44.7L159.4 44.3L160.0 42.9L150.0 43.8ZM159.4 44.3L169.4 44.0L170.0 42.3L160.0 42.9ZM169.4 44.0L179.4 43.9L180.0 42.1L170.0 42.3ZM179.4 43.9L189.5 43.9L190.1 41.9L180.0 42.1ZM189.5 43.9L199.5 44.0L200.1 41.9L190.1 41.9ZM199.5 44.0L209.5 44.1L210.1 42.0L200.1 41.9ZM209.5 44.1L219.5 44.3L220.2 42.1L210.1 42.0ZM219.5 44.3L229.6 44.5L230.2 42.2L220.2 42.1ZM229.6 44.5L239.6 44.7L240.2 42.4L230.2 42.2ZM239.6 44.7L249.6 44.9L250.2 42.6L240.2 42.4ZM249.6 44.9L259.7 45.1L260.3 42.8L250.2 42.6ZM259.7 45.1L269.7 45.3L270.3 43.1L260.3 42.8ZM269.7 45.3L279.7 45.6L280.3 43.3L270.3 43.1ZM279.7 45.6L289.7 45.8L290.3 43.5L280.3 43.3ZM289.7 45.8L299.8 46.1L300.4 43.8L290.3 43.5ZM299.8 46.1L309.8 46.4L310.4 44.1L300.4 43.8ZM309.8 46.4L319.8 46.6L320.4 44.3L310.4 44.1ZM319.8 46.6L329.8 46.9L330.5 44.6L320.4 44.3ZM329.8 46.9L339.9 47.2L340.5 44.9L330.5 44.6ZM339.9 47.2L349.9 47.4L350.5 45.1L340.5 44.9ZM349.9 47.4L359.9 47.7L360.5 45.4L350.5 45.1ZM359.9 47.7L370.0 48.0L370.6 45.7L360.5 45.4ZM99.8 91.6L109.8 60.0L110.5 70.4L100.4 130.4ZM109.8 60.0L119.9 52.7L120.5 58.2L110.5 70.4ZM119.9 52.7L129.9 48.2L130.5 50.7L120.5 58.2ZM129.9 48.2L139.9 45.5L140.5 46.2L130.5 50.7ZM139.9 45.5L150.0 43.8L150.6 43.5L140.5 46.2ZM150.0 43.8L160.0 42.9L160.6 41.9L150.6 43.5ZM160.0 42.9L170.0 42.3L170.6 40.9L160.6 41.9ZM170.0 42.3L180.0 42.1L180.7 40.4L170.6 40.9ZM180.0 42.1L190.1 41.9L190.7 40.1L180.7 40.4ZM190.1 41.9L200.1 41.9L200.7 39.9L190.7 40.1ZM200.1 41.9L210.1 42.0L210.7 39.9L200.7 39.9ZM210.1 42.0L220.2 42.1L220.8 40.0L210.7 39.9ZM220.2 42.1L230.2 42.2L230.8 40.1L220.8 40.0ZM230.2 42.2L240.2 42.4L240.8 40.2L230.8 40.1ZM240.2 42.4L250.2 42.6L250.8 40.4L240.8 40.2ZM250.2 42.6L260.3 42.8L260.9 40.6L250.8 40.4ZM260.3 42.8L270.3 43.1L270.9 40.8L260.9 40.6ZM270.3 43.1L280.3 43.3L280.9 41.0L270.9 40.8ZM280.3 43.3L290.3 43.5L291.0 41.3L280.9 41.0ZM290.3 43.5L300.4 43.8L301.0 41.5L291.0 41.3ZM300.4 43.8L310.4 44.1L311.0 41.8L301.0 41.5ZM310.4 44.1L320.4 44.3L321.0 42.0L311.0 41.8ZM320.4 44.3L330.5 44.6L331.1 42.3L321.0 42.0ZM330.5 44.6L340.5 44.9L341.1 42.5L331.1 42.3ZM340.5 44.9L350.5 45.1L351.1 42.8L341.1 42.5ZM350.5 45.1L360.5 45.4L361.2 43.1L351.1 42.8ZM360.5 45.4L370.6 45.7L371.2 43.4L361.2 43.1ZM100.4 130.4L110.5 70.4L111.1 83.7L101.0 143.1ZM110.5 70.4L120.5 58.2L121.1 66.2L111.1 83.7ZM120.5 58.2L130.5 50.7L131.1 54.9L121.1 66.2ZM130.5 50.7L140.5 46.2L141.2 48.0L131.1 54.9ZM140.5 46.2L150.6 43.5L151.2 43.9L141.2 48.0ZM150.6 43.5L160.6 41.9L161.2 41.4L151.2 43.9ZM160.6 41.9L170.6 40.9L171.2 39.8L161.2 41.4ZM170.6 40.9L180.7 40.4L181.3 38.9L171.2 39.8ZM180.7 40.4L190.7 40.1L191.3 38.4L181.3 38.9ZM190.7 40.1L200.7 39.9L201.3 38.1L191.3 38.4ZM200.7 39.9L210.7 39.9L211.4 37.9L201.3 38.1ZM210.7 39.9L220.8 40.0L221.4 37.9L211.4 37.9ZM220.8 40.0L230.8 40.1L231.4 37.9L221.4 37.9ZM230.8 40.1L240.8 40.2L241.4 38.0L231.4 37.9ZM240.8 40.2L250.8 40.4L251.5 38.1L241.4 38.0ZM250.8 40.4L260.9 40.6L261.5 38.3L251.5 38.1ZM260.9 40.6L270.9 40.8L271.5 38.5L261.5 38.3ZM270.9 40.8L280.9 41.0L281.5 38.7L271.5 38.5ZM280.9 41.0L291.0 41.3L291.6 39.0L281.5 38.7ZM291.0 41.3L301.0 41.5L301.6 39.2L291.6 39.0ZM301.0 41.5L311.0 41.8L311.6 39.5L301.6 39.2ZM311.0 41.8L321.0 42.0L321.7 39.7L311.6 39.5ZM321.0 42.0L331.1 42.3L331.7 40.0L321.7 39.7ZM331.1 42.3L341.1 42.5L341.7 40.2L331.7 40.0ZM341.1 42.5L351.1 42.8L351.7 40.5L341.7 40.2ZM351.1 42.8L361.2 43.1L361.8 40.8L351.7 40.5ZM361.2 43.1L371.2 43.4L371.8 41.0L361.8 40.8ZM101.0 143.1L111.1 83.7L111.7 97.2L101.7 149.0ZM111.1 83.7L121.1 66.2L121.7 75.4L111.7 97.2ZM121.1 66.2L131.1 54.9L131.7 60.5L121.7 75.4ZM131.1 54.9L141.2 48.0L141.8 50.9L131.7 60.5ZM141.2 48.0L151.2 43.9L151.8 45.0L141.8 50.9ZM151.2 43.9L161.2 41.4L161.8 41.3L151.8 45.0ZM161.2 41.4L171.2 39.8L171.9 39.1L161.8 41.3ZM171.2 39.8L181.3 38.9L181.9 37.7L171.9 39.1ZM181.3 38.9L191.3 38.4L191.9 36.8L181.9 37.7ZM191.3 38.4L201.3 38.1L201.9 36.3L191.9 36.8ZM201.3 38.1L211.4 37.9L212.0 36.0L201.9 36.3ZM211.4 37.9L221.4 37.9L222.0 35.8L212.0 36.0ZM221.4 37.9L231.4 37.9L232.0 35.8L222.0 35.8ZM231.4 37.9L241.4 38.0L242.0 35.8L232.0 35.8ZM241.4 38.0L251.5 38.1L252.1 35.9L242.0 35.8ZM251.5 38.1L261.5 38.3L262.1 36.1L252.1 35.9ZM261.5 38.3L271.5 38.5L272.1 36.3L262.1 36.1ZM271.5 38.5L281.5 38.7L282.2 36.5L272.1 36.3ZM281.5 38.7L291.6 39.0L292.2 36.7L282.2 36.5ZM291.6 39.0L301.6 39.2L302.2 36.9L292.2 36.7ZM301.6 39.2L311.6 39.5L312.2 37.2L302.2 36.9ZM311.6 39.5L321.7 39.7L322.3 37.4L312.2 37.2ZM321.7 39.7L331.7 40.0L332.3 37.7L322.3 37.4ZM331.7 40.0L341.7 40.2L342.3 37.9L332.3 37.7ZM341.7 40.2L351.7 40.5L352.4 38.2L342.3 37.9ZM351.7 40.5L361.8 40.8L362.4 38.5L352.4 38.2ZM361.8 40.8L371.8 41.0L372.4 38.7L362.4 38.5ZM101.7 149.0L111.7 97.2L112.3 108.0L102.3 150.1ZM111.7 97.2L121.7 75.4L122.3 84.3L112.3 108.0ZM121.7 75.4L131.7 60.5L132.4 66.6L122.3 84.3ZM131.7 60.5L141.8 50.9L142.4 54.6L132.4 66.6ZM141.8 50.9L151.8 45.0L152.4 46.8L142.4 54.6ZM151.8 45.0L161.8 41.3L162.4 41.8L152.4 46.8ZM161.8 41.3L171.9 39.1L172.5 38.7L162.4 41.8ZM171.9 39.1L181.9 37.7L182.5 36.7L172.5 38.7ZM181.9 37.7L191.9 36.8L192.5 35.4L182.5 36.7ZM191.9 36.8L201.9 36.3L202.5 34.6L192.5 35.4ZM201.9 36.3L212.0 36.0L212.6 34.1L202.5 34.6ZM212.0 36.0L222.0 35.8L222.6 33.8L212.6 34.1ZM222.0 35.8L232.0 35.8L232.6 33.7L222.6 33.8ZM232.0 35.8L242.0 35.8L242.7 33.7L232.6 33.7ZM242.0 35.8L252.1 35.9L252.7 33.7L242.7 33.7ZM252.1 35.9L262.1 36.1L262.7 33.8L252.7 33.7ZM262.1 36.1L272.1 36.3L272.7 34.0L262.7 33.8ZM272.1 36.3L282.2 36.5L282.8 34.2L272.7 34.0ZM282.2 36.5L292.2 36.7L292.8 34.4L282.8 34.2ZM292.2 36.7L302.2 36.9L302.8 34.6L292.8 34.4ZM302.2 36.9L312.2 37.2L312.9 34.9L302.8 34.6ZM312.2 37.2L322.3 37.4L322.9 35.1L312.9 34.9ZM322.3 37.4L332.3 37.7L332.9 35.4L322.9 35.1ZM332.3 37.7L342.3 37.9L342.9 35.6L332.9 35.4ZM342.3 37.9L352.4 38.2L353.0 35.9L342.9 35.6ZM352.4 38.2L362.4 38.5L363.0 36.2L353.0 35.9ZM362.4 38.5L372.4 38.7L373.0 36.4L363.0 36.2ZM102.3 150.1L112.3 108.0L112.9 114.8L102.9 150.3ZM112.3 108.0L122.3 84.3L122.9 91.1L112.9 114.8ZM122.3 84.3L132.4 66.6L133.0 72.1L122.9 91.1ZM132.4 66.6L142.4 54.6L143.0 58.3L133.0 72.1ZM142.4 54.6L152.4 46.8L153.0 48.9L143.0 58.3ZM152.4 46.8L162.4 41.8L163.0 42.7L153.0 48.9ZM162.4 41.8L172.5 38.7L173.1 38.6L163.0 42.7ZM172.5 38.7L182.5 36.7L183.1 36.0L173.1 38.6ZM182.5 36.7L192.5 35.4L193.1 34.2L183.1 36.0ZM192.5 35.4L202.5 34.6L203.2 33.1L193.1 34.2ZM202.5 34.6L212.6 34.1L213.2 32.4L203.2 33.1ZM212.6 34.1L222.6 33.8L223.2 31.9L213.2 32.4ZM222.6 33.8L232.6 33.7L233.2 31.7L223.2 31.9ZM232.6 33.7L242.7 33.7L243.3 31.5L233.2 31.7ZM242.7 33.7L252.7 33.7L253.3 31.6L243.3 31.5ZM252.7 33.7L262.7 33.8L263.3 31.6L253.3 31.6ZM262.7 33.8L272.7 34.0L273.4 31.8L263.3 31.6ZM272.7 34.0L282.8 34.2L283.4 31.9L273.4 31.8ZM282.8 34.2L292.8 34.4L293.4 32.1L283.4 31.9ZM292.8 34.4L302.8 34.6L303.4 32.4L293.4 32.1ZM302.8 34.6L312.9 34.9L313.5 32.6L303.4 32.4ZM312.9 34.9L322.9 35.1L323.5 32.8L313.5 32.6ZM322.9 35.1L332.9 35.4L333.5 33.1L323.5 32.8ZM332.9 35.4L342.9 35.6L343.6 33.3L333.5 33.1ZM342.9 35.6L353.0 35.9L353.6 33.6L343.6 33.3ZM353.0 35.9L363.0 36.2L363.6 33.9L353.6 33.6ZM363.0 36.2L373.0 36.4L373.6 34.1L363.6 33.9ZM102.9 150.3L112.9 114.8L113.5 117.8L103.5 147.7ZM112.9 114.8L122.9 91.1L123.5 95.2L113.5 117.8ZM122.9 91.1L133.0 72.1L133.6 76.2L123.5 95.2ZM133.0 72.1L143.0 58.3L143.6 61.5L133.6 76.2ZM143.0 58.3L153.0 48.9L153.6 51.0L143.6 61.5ZM153.0 48.9L163.0 42.7L163.7 43.7L153.6 51.0ZM163.0 42.7L173.1 38.6L173.7 38.7L163.7 43.7ZM173.1 38.6L183.1 36.0L183.7 35.4L173.7 38.7ZM183.1 36.0L193.1 34.2L193.7 33.2L183.7 35.4ZM193.1 34.2L203.2 33.1L203.8 31.7L193.7 33.2ZM203.2 33.1L213.2 32.4L213.8 30.7L203.8 31.7ZM213.2 32.4L223.2 31.9L223.8 30.0L213.8 30.7ZM223.2 31.9L233.2 31.7L233.9 29.6L223.8 30.0ZM233.2 31.7L243.3 31.5L243.9 29.5L233.9 29.6ZM243.3 31.5L253.3 31.6L253.9 29.4L243.9 29.5ZM253.3 31.6L263.3 31.6L263.9 29.4L253.9 29.4ZM263.3 31.6L273.4 31.8L274.0 29.6L263.9 29.4ZM273.4 31.8L283.4 31.9L284.0 29.7L274.0 29.6ZM283.4 31.9L293.4 32.1L294.0 29.9L284.0 29.7ZM293.4 32.1L303.4 32.4L304.1 30.1L294.0 29.9ZM303.4 32.4L313.5 32.6L314.1 30.3L304.1 30.1ZM313.5 32.6L323.5 32.8L324.1 30.5L314.1 30.3ZM323.5 32.8L333.5 33.1L334.1 30.8L324.1 30.5ZM333.5 33.1L343.6 33.3L344.2 31.0L334.1 30.8ZM343.6 33.3L353.6 33.6L354.2 31.3L344.2 31.0ZM353.6 33.6L363.6 33.9L364.2 31.5L354.2 31.3ZM363.6 33.9L373.6 34.1L374.2 31.8L364.2 31.5ZM103.5 147.7L113.5 117.8L114.1 118.0L104.1 144.9ZM113.5 117.8L123.5 95.2L124.2 96.7L114.1 118.0ZM123.5 95.2L133.6 76.2L134.2 78.4L124.2 96.7ZM133.6 76.2L143.6 61.5L144.2 63.7L134.2 78.4ZM143.6 61.5L153.6 51.0L154.2 52.6L144.2 63.7ZM153.6 51.0L163.7 43.7L164.3 44.5L154.2 52.6ZM163.7 43.7L173.7 38.7L174.3 38.9L164.3 44.5ZM173.7 38.7L183.7 35.4L184.3 35.0L174.3 38.9ZM183.7 35.4L193.7 33.2L194.4 32.2L184.3 35.0ZM193.7 33.2L203.8 31.7L204.4 30.3L194.4 32.2ZM203.8 31.7L213.8 30.7L214.4 29.1L204.4 30.3ZM213.8 30.7L223.8 30.0L224.4 28.2L214.4 29.1ZM223.8 30.0L233.9 29.6L234.5 27.7L224.4 28.2ZM233.9 29.6L243.9 29.5L244.5 27.4L234.5 27.7ZM243.9 29.5L253.9 29.4L254.5 27.3L244.5 27.4ZM253.9 29.4L263.9 29.4L264.6 27.3L254.5 27.3ZM263.9 29.4L274.0 29.6L274.6 27.3L264.6 27.3ZM274.0 29.6L284.0 29.7L284.6 27.5L274.6 27.3ZM284.0 29.7L294.0 29.9L294.6 27.6L284.6 27.5ZM294.0 29.9L304.1 30.1L304.7 27.8L294.6 27.6ZM304.1 30.1L314.1 30.3L314.7 28.0L304.7 27.8ZM314.1 30.3L324.1 30.5L324.7 28.3L314.7 28.0ZM324.1 30.5L334.1 30.8L334.7 28.5L324.7 28.3ZM334.1 30.8L344.2 31.0L344.8 28.7L334.7 28.5ZM344.2 31.0L354.2 31.3L354.8 29.0L344.8 28.7ZM354.2 31.3L364.2 31.5L364.8 29.3L354.8 29.0ZM364.2 31.5L374.2 31.8L374.9 29.5L364.8 29.3ZM104.1 144.9L114.1 118.0L114.7 116.1L104.7 141.9ZM114.1 118.0L124.2 96.7L124.8 96.1L114.7 116.1ZM124.2 96.7L134.2 78.4L134.8 78.9L124.8 96.1ZM134.2 78.4L144.2 63.7L144.8 64.6L134.8 78.9ZM144.2 63.7L154.2 52.6L154.9 53.4L144.8 64.6ZM154.2 52.6L164.3 44.5L164.9 45.0L154.9 53.4ZM164.3 44.5L174.3 38.9L174.9 38.9L164.9 45.0ZM174.3 38.9L184.3 35.0L184.9 34.5L174.9 38.9ZM184.3 35.0L194.4 32.2L195.0 31.3L184.9 34.5ZM194.4 32.2L204.4 30.3L205.0 29.0L195.0 31.3ZM204.4 30.3L214.4 29.1L215.0 27.4L205.0 29.0ZM214.4 29.1L224.4 28.2L225.1 26.4L215.0 27.4ZM224.4 28.2L234.5 27.7L235.1 25.7L225.1 26.4ZM234.5 27.7L244.5 27.4L245.1 25.3L235.1 25.7ZM244.5 27.4L254.5 27.3L255.1 25.2L245.1 25.3ZM254.5 27.3L264.6 27.3L265.2 25.1L255.1 25.2ZM264.6 27.3L274.6 27.3L275.2 25.1L265.2 25.1ZM274.6 27.3L284.6 27.5L285.2 25.3L275.2 25.1ZM284.6 27.5L294.6 27.6L295.2 25.4L285.2 25.3ZM294.6 27.6L304.7 27.8L305.3 25.6L295.2 25.4ZM304.7 27.8L314.7 28.0L315.3 25.8L305.3 25.6ZM314.7 28.0L324.7 28.3L325.3 26.0L315.3 25.8ZM324.7 28.3L334.7 28.5L335.4 26.2L325.3 26.0ZM334.7 28.5L344.8 28.7L345.4 26.5L335.4 26.2ZM344.8 28.7L354.8 29.0L355.4 26.7L345.4 26.5ZM354.8 29.0L364.8 29.3L365.4 27.0L355.4 26.7ZM364.8 29.3L374.9 29.5L375.5 27.2L365.4 27.0ZM104.7 141.9L114.7 116.1L115.4 112.7L105.3 138.6ZM114.7 116.1L124.8 96.1L125.4 93.9L115.4 112.7ZM124.8 96.1L134.8 78.9L135.4 77.8L125.4 93.9ZM134.8 78.9L144.8 64.6L145.4 64.2L135.4 77.8ZM144.8 64.6L154.9 53.4L155.5 53.4L145.4 64.2ZM154.9 53.4L164.9 45.0L165.5 44.9L155.5 53.4ZM164.9 45.0L174.9 38.9L175.5 38.5L165.5 44.9ZM174.9 38.9L184.9 34.5L185.6 33.8L175.5 38.5ZM184.9 34.5L195.0 31.3L195.6 30.2L185.6 33.8ZM195.0 31.3L205.0 29.0L205.6 27.6L195.6 30.2ZM205.0 29.0L215.0 27.4L215.6 25.8L205.6 27.6ZM215.0 27.4L225.1 26.4L225.7 24.6L215.6 25.8ZM225.1 26.4L235.1 25.7L235.7 23.8L225.7 24.6ZM235.1 25.7L245.1 25.3L245.7 23.3L235.7 23.8ZM245.1 25.3L255.1 25.2L255.7 23.1L245.7 23.3ZM255.1 25.2L265.2 25.1L265.8 23.0L255.7 23.1ZM265.2 25.1L275.2 25.1L275.8 23.0L265.8 23.0ZM275.2 25.1L285.2 25.3L285.8 23.0L275.8 23.0ZM285.2 25.3L295.2 25.4L295.9 23.2L285.8 23.0ZM295.2 25.4L305.3 25.6L305.9 23.3L295.9 23.2ZM305.3 25.6L315.3 25.8L315.9 23.5L305.9 23.3ZM315.3 25.8L325.3 26.0L325.9 23.7L315.9 23.5ZM325.3 26.0L335.4 26.2L336.0 23.9L325.9 23.7ZM335.4 26.2L345.4 26.5L346.0 24.2L336.0 23.9ZM345.4 26.5L355.4 26.7L356.0 24.4L346.0 24.2ZM355.4 26.7L365.4 27.0L366.1 24.7L356.0 24.4ZM365.4 27.0L375.5 27.2L376.1 24.9L366.1 24.7ZM105.3 138.6L115.4 112.7L116.0 108.2L105.9 134.8ZM115.4 112.7L125.4 93.9L126.0 90.4L116.0 108.2ZM125.4 93.9L135.4 77.8L136.0 75.5L126.0 90.4ZM135.4 77.8L145.4 64.2L146.1 62.8L136.0 75.5ZM145.4 64.2L155.5 53.4L156.1 52.4L146.1 62.8ZM155.5 53.4L165.5 44.9L166.1 44.2L156.1 52.4ZM165.5 44.9L175.5 38.5L176.1 37.7L166.1 44.2ZM175.5 38.5L185.6 33.8L186.2 32.7L176.1 37.7ZM185.6 33.8L195.6 30.2L196.2 29.0L186.2 32.7ZM195.6 30.2L205.6 27.6L206.2 26.1L196.2 29.0ZM205.6 27.6L215.6 25.8L216.3 24.1L206.2 26.1ZM215.6 25.8L225.7 24.6L226.3 22.7L216.3 24.1ZM225.7 24.6L235.7 23.8L236.3 21.8L226.3 22.7ZM235.7 23.8L245.7 23.3L246.3 21.3L236.3 21.8ZM245.7 23.3L255.7 23.1L256.4 21.0L246.3 21.3ZM255.7 23.1L265.8 23.0L266.4 20.8L256.4 21.0ZM265.8 23.0L275.8 23.0L276.4 20.8L266.4 20.8ZM275.8 23.0L285.8 23.0L286.4 20.8L276.4 20.8ZM285.8 23.0L295.9 23.2L296.5 20.9L286.4 20.8ZM295.9 23.2L305.9 23.3L306.5 21.1L296.5 20.9ZM305.9 23.3L315.9 23.5L316.5 21.3L306.5 21.1ZM315.9 23.5L325.9 23.7L326.6 21.5L316.5 21.3ZM325.9 23.7L336.0 23.9L336.6 21.7L326.6 21.5ZM336.0 23.9L346.0 24.2L346.6 21.9L336.6 21.7ZM346.0 24.2L356.0 24.4L356.6 22.1L346.6 21.9ZM356.0 24.4L366.1 24.7L366.7 22.4L356.6 22.1ZM366.1 24.7L376.1 24.9L376.7 22.6L366.7 22.4ZM105.9 134.8L116.0 108.2L116.6 102.6L106.6 130.3ZM116.0 108.2L126.0 90.4L126.6 85.7L116.6 102.6ZM126.0 90.4L136.0 75.5L136.6 72.0L126.6 85.7ZM136.0 75.5L146.1 62.8L146.7 60.3L136.6 72.0ZM146.1 62.8L156.1 52.4L156.7 50.6L146.7 60.3ZM156.1 52.4L166.1 44.2L166.7 42.7L156.7 50.6ZM166.1 44.2L176.1 37.7L176.8 36.3L166.7 42.7ZM176.1 37.7L186.2 32.7L186.8 31.3L176.8 36.3ZM186.2 32.7L196.2 29.0L196.8 27.4L186.8 31.3ZM196.2 29.0L206.2 26.1L206.8 24.4L196.8 27.4ZM206.2 26.1L216.3 24.1L216.9 22.3L206.8 24.4ZM216.3 24.1L226.3 22.7L226.9 20.8L216.9 22.3ZM226.3 22.7L236.3 21.8L236.9 19.8L226.9 20.8ZM236.3 21.8L246.3 21.3L246.9 19.2L236.9 19.8ZM246.3 21.3L256.4 21.0L257.0 18.9L246.9 19.2ZM256.4 21.0L266.4 20.8L267.0 18.7L257.0 18.9ZM266.4 20.8L276.4 20.8L277.0 18.6L267.0 18.7ZM276.4 20.8L286.4 20.8L287.1 18.6L277.0 18.6ZM286.4 20.8L296.5 20.9L297.1 18.7L287.1 18.6ZM296.5 20.9L306.5 21.1L307.1 18.9L297.1 18.7ZM306.5 21.1L316.5 21.3L317.1 19.0L307.1 18.9ZM316.5 21.3L326.6 21.5L327.2 19.2L317.1 19.0ZM326.6 21.5L336.6 21.7L337.2 19.4L327.2 19.2ZM336.6 21.7L346.6 21.9L347.2 19.6L337.2 19.4ZM346.6 21.9L356.6 22.1L357.3 19.9L347.2 19.6ZM356.6 22.1L366.7 22.4L367.3 20.1L357.3 19.9ZM366.7 22.4L376.7 22.6L377.3 20.3L367.3 20.1ZM106.6 130.3L116.6 102.6L117.2 95.9L107.2 124.7ZM116.6 102.6L126.6 85.7L127.2 80.0L117.2 95.9ZM126.6 85.7L136.6 72.0L137.3 67.5L127.2 80.0ZM136.6 72.0L146.7 60.3L147.3 56.7L137.3 67.5ZM146.7 60.3L156.7 50.6L157.3 47.9L147.3 56.7ZM156.7 50.6L166.7 42.7L167.3 40.4L157.3 47.9ZM166.7 42.7L176.8 36.3L177.4 34.2L167.3 40.4ZM176.8 36.3L186.8 31.3L187.4 29.3L177.4 34.2ZM186.8 31.3L196.8 27.4L197.4 25.4L187.4 29.3ZM196.8 27.4L206.8 24.4L207.4 22.4L197.4 25.4ZM206.8 24.4L216.9 22.3L217.5 20.3L207.4 22.4ZM216.9 22.3L226.9 20.8L227.5 18.8L217.5 20.3ZM226.9 20.8L236.9 19.8L237.5 17.8L227.5 18.8ZM236.9 19.8L246.9 19.2L247.6 17.1L237.5 17.8ZM246.9 19.2L257.0 18.9L257.6 16.7L247.6 17.1ZM257.0 18.9L267.0 18.7L267.6 16.5L257.6 16.7ZM267.0 18.7L277.0 18.6L277.6 16.4L267.6 16.5ZM277.0 18.6L287.1 18.6L287.7 16.4L277.6 16.4ZM287.1 18.6L297.1 18.7L297.7 16.5L287.7 16.4ZM297.1 18.7L307.1 18.9L307.7 16.6L297.7 16.5ZM307.1 18.9L317.1 19.0L317.8 16.8L307.7 16.6ZM317.1 19.0L327.2 19.2L327.8 17.0L317.8 16.8ZM327.2 19.2L337.2 19.4L337.8 17.1L327.8 17.0ZM337.2 19.4L347.2 19.6L347.8 17.4L337.8 17.1ZM347.2 19.6L357.3 19.9L357.9 17.6L347.8 17.4ZM357.3 19.9L367.3 20.1L367.9 17.8L357.9 17.6ZM367.3 20.1L377.3 20.3L377.9 18.0L367.9 17.8ZM107.2 124.7L117.2 95.9L117.8 88.3L107.8 117.6ZM117.2 95.9L127.2 80.0L127.8 73.4L117.8 88.3ZM127.2 80.0L137.3 67.5L137.9 62.0L127.8 73.4ZM137.3 67.5L147.3 56.7L147.9 52.3L137.9 62.0ZM147.3 56.7L157.3 47.9L157.9 44.3L147.9 52.3ZM157.3 47.9L167.3 40.4L167.9 37.3L157.9 44.3ZM167.3 40.4L177.4 34.2L178.0 31.5L167.9 37.3ZM177.4 34.2L187.4 29.3L188.0 26.8L178.0 31.5ZM187.4 29.3L197.4 25.4L198.0 23.0L188.0 26.8ZM197.4 25.4L207.4 22.4L208.1 20.2L198.0 23.0ZM207.4 22.4L217.5 20.3L218.1 18.1L208.1 20.2ZM217.5 20.3L227.5 18.8L228.1 16.6L218.1 18.1ZM227.5 18.8L237.5 17.8L238.1 15.6L228.1 16.6ZM237.5 17.8L247.6 17.1L248.2 15.0L238.1 15.6ZM247.6 17.1L257.6 16.7L258.2 14.6L248.2 15.0ZM257.6 16.7L267.6 16.5L268.2 14.4L258.2 14.6ZM267.6 16.5L277.6 16.4L278.3 14.3L268.2 14.4ZM277.6 16.4L287.7 16.4L288.3 14.2L278.3 14.3ZM287.7 16.4L297.7 16.5L298.3 14.3L288.3 14.2ZM297.7 16.5L307.7 16.6L308.3 14.4L298.3 14.3ZM307.7 16.6L317.8 16.8L318.4 14.5L308.3 14.4ZM317.8 16.8L327.8 17.0L328.4 14.7L318.4 14.5ZM327.8 17.0L337.8 17.1L338.4 14.9L328.4 14.7ZM337.8 17.1L347.8 17.4L348.5 15.1L338.4 14.9ZM347.8 17.4L357.9 17.6L358.5 15.3L348.5 15.1ZM357.9 17.6L367.9 17.8L368.5 15.5L358.5 15.3ZM367.9 17.8L377.9 18.0L378.5 15.8L368.5 15.5ZM107.8 117.6L117.8 88.3L118.4 79.8L108.4 108.9ZM117.8 88.3L127.8 73.4L128.4 66.0L118.4 79.8ZM127.8 73.4L137.9 62.0L138.5 55.7L128.4 66.0ZM137.9 62.0L147.9 52.3L148.5 46.9L138.5 55.7ZM147.9 52.3L157.9 44.3L158.5 39.8L148.5 46.9ZM157.9 44.3L167.9 37.3L168.6 33.5L158.5 39.8ZM167.9 37.3L178.0 31.5L178.6 28.2L168.6 33.5ZM178.0 31.5L188.0 26.8L188.6 23.8L178.6 28.2ZM188.0 26.8L198.0 23.0L198.6 20.3L188.6 23.8ZM198.0 23.0L208.1 20.2L208.7 17.7L198.6 20.3ZM208.1 20.2L218.1 18.1L218.7 15.7L208.7 17.7ZM218.1 18.1L228.1 16.6L228.7 14.4L218.7 15.7ZM228.1 16.6L238.1 15.6L238.8 13.4L228.7 14.4ZM238.1 15.6L248.2 15.0L248.8 12.8L238.8 13.4ZM248.2 15.0L258.2 14.6L258.8 12.4L248.8 12.8ZM258.2 14.6L268.2 14.4L268.8 12.2L258.8 12.4ZM268.2 14.4L278.3 14.3L278.9 12.1L268.8 12.2ZM278.3 14.3L288.3 14.2L288.9 12.0L278.9 12.1ZM288.3 14.2L298.3 14.3L298.9 12.1L288.9 12.0ZM298.3 14.3L308.3 14.4L309.0 12.2L298.9 12.1ZM308.3 14.4L318.4 14.5L319.0 12.3L309.0 12.2ZM318.4 14.5L328.4 14.7L329.0 12.5L319.0 12.3ZM328.4 14.7L338.4 14.9L339.0 12.6L329.0 12.5ZM338.4 14.9L348.5 15.1L349.1 12.8L339.0 12.6ZM348.5 15.1L358.5 15.3L359.1 13.0L349.1 12.8ZM358.5 15.3L368.5 15.5L369.1 13.3L359.1 13.0ZM368.5 15.5L378.5 15.8L379.1 13.5L369.1 13.3ZM108.4 108.9L118.4 79.8L119.0 70.5L109.0 98.3ZM118.4 79.8L128.4 66.0L129.1 57.8L119.0 70.5ZM128.4 66.0L138.5 55.7L139.1 48.5L129.1 57.8ZM138.5 55.7L148.5 46.9L149.1 40.7L139.1 48.5ZM148.5 46.9L158.5 39.8L159.1 34.5L149.1 40.7ZM158.5 39.8L168.6 33.5L169.2 29.0L159.1 34.5ZM168.6 33.5L178.6 28.2L179.2 24.3L169.2 29.0ZM178.6 28.2L188.6 23.8L189.2 20.4L179.2 24.3ZM188.6 23.8L198.6 20.3L199.3 17.3L189.2 20.4ZM198.6 20.3L208.7 17.7L209.3 14.9L199.3 17.3ZM208.7 17.7L218.7 15.7L219.3 13.2L209.3 14.9ZM218.7 15.7L228.7 14.4L229.3 11.9L219.3 13.2ZM228.7 14.4L238.8 13.4L239.4 11.1L229.3 11.9ZM238.8 13.4L248.8 12.8L249.4 10.5L239.4 11.1ZM248.8 12.8L258.8 12.4L259.4 10.1L249.4 10.5ZM258.8 12.4L268.8 12.2L269.5 9.9L259.4 10.1ZM268.8 12.2L278.9 12.1L279.5 9.8L269.5 9.9ZM278.9 12.1L288.9 12.0L289.5 9.8L279.5 9.8ZM288.9 12.0L298.9 12.1L299.5 9.8L289.5 9.8ZM298.9 12.1L309.0 12.2L309.6 9.9L299.5 9.8ZM309.0 12.2L319.0 12.3L319.6 10.1L309.6 9.9ZM319.0 12.3L329.0 12.5L329.6 10.2L319.6 10.1ZM329.0 12.5L339.0 12.6L339.6 10.4L329.6 10.2ZM339.0 12.6L349.1 12.8L349.7 10.6L339.6 10.4ZM349.1 12.8L359.1 13.0L359.7 10.8L349.7 10.6ZM359.1 13.0L369.1 13.3L369.7 11.0L359.7 10.8ZM369.1 13.3L379.1 13.5L379.8 11.2L369.7 11.0ZM109.0 98.3L119.0 70.5L119.6 60.3L109.6 85.8ZM119.0 70.5L129.1 57.8L129.7 48.8L119.6 60.3ZM129.1 57.8L139.1 48.5L139.7 40.6L129.7 48.8ZM139.1 48.5L149.1 40.7L149.7 33.8L139.7 40.6ZM149.1 40.7L159.1 34.5L159.8 28.6L149.7 33.8ZM159.1 34.5L169.2 29.0L169.8 23.9L159.8 28.6ZM169.2 29.0L179.2 24.3L179.8 19.9L169.8 23.9ZM179.2 24.3L189.2 20.4L189.8 16.6L179.8 19.9ZM189.2 20.4L199.3 17.3L199.9 13.9L189.8 16.6ZM199.3 17.3L209.3 14.9L209.9 11.9L199.9 13.9ZM209.3 14.9L219.3 13.2L219.9 10.4L209.9 11.9ZM219.3 13.2L229.3 11.9L230.0 9.4L219.9 10.4ZM229.3 11.9L239.4 11.1L240.0 8.6L230.0 9.4ZM239.4 11.1L249.4 10.5L250.0 8.2L240.0 8.6ZM249.4 10.5L259.4 10.1L260.0 7.8L250.0 8.2ZM259.4 10.1L269.5 9.9L270.1 7.7L260.0 7.8ZM269.5 9.9L279.5 9.8L280.1 7.6L270.1 7.7ZM279.5 9.8L289.5 9.8L290.1 7.6L280.1 7.6ZM289.5 9.8L299.5 9.8L300.1 7.6L290.1 7.6ZM299.5 9.8L309.6 9.9L310.2 7.7L300.1 7.6ZM309.6 9.9L319.6 10.1L320.2 7.8L310.2 7.7ZM319.6 10.1L329.6 10.2L330.2 8.0L320.2 7.8ZM329.6 10.2L339.6 10.4L340.3 8.1L330.2 8.0ZM339.6 10.4L349.7 10.6L350.3 8.3L340.3 8.1ZM349.7 10.6L359.7 10.8L360.3 8.5L350.3 8.3ZM359.7 10.8L369.7 11.0L370.3 8.7L360.3 8.5ZM369.7 11.0L379.8 11.2L380.4 8.9L370.3 8.7ZM109.6 85.8L119.6 60.3L120.3 48.9L110.2 71.4ZM119.6 60.3L129.7 48.8L130.3 38.8L120.3 48.9ZM129.7 48.8L139.7 40.6L140.3 31.9L130.3 38.8ZM139.7 40.6L149.7 33.8L150.3 26.1L140.3 31.9ZM149.7 33.8L159.8 28.6L160.4 21.9L150.3 26.1ZM159.8 28.6L169.8 23.9L170.4 18.2L160.4 21.9ZM169.8 23.9L179.8 19.9L180.4 15.0L170.4 18.2ZM179.8 19.9L189.8 16.6L190.5 12.3L180.4 15.0ZM189.8 16.6L199.9 13.9L200.5 10.2L190.5 12.3ZM199.9 13.9L209.9 11.9L210.5 8.6L200.5 10.2ZM209.9 11.9L219.9 10.4L220.5 7.5L210.5 8.6ZM219.9 10.4L230.0 9.4L230.6 6.7L220.5 7.5ZM230.0 9.4L240.0 8.6L240.6 6.1L230.6 6.7ZM240.0 8.6L250.0 8.2L250.6 5.7L240.6 6.1ZM250.0 8.2L260.0 7.8L260.6 5.5L250.6 5.7ZM260.0 7.8L270.1 7.7L270.7 5.3L260.6 5.5ZM270.1 7.7L280.1 7.6L280.7 5.3L270.7 5.3ZM280.1 7.6L290.1 7.6L290.7 5.3L280.7 5.3ZM290.1 7.6L300.1 7.6L300.8 5.3L290.7 5.3ZM300.1 7.6L310.2 7.7L310.8 5.4L300.8 5.3ZM310.2 7.7L320.2 7.8L320.8 5.6L310.8 5.4ZM320.2 7.8L330.2 8.0L330.8 5.7L320.8 5.6ZM330.2 8.0L340.3 8.1L340.9 5.9L330.8 5.7ZM340.3 8.1L350.3 8.3L350.9 6.0L340.9 5.9ZM350.3 8.3L360.3 8.5L360.9 6.2L350.9 6.0ZM360.3 8.5L370.3 8.7L371.0 6.4L360.9 6.2ZM370.3 8.7L380.4 8.9L381.0 6.7L371.0 6.4ZM110.2 71.4L120.3 48.9L120.9 35.4L110.8 53.9ZM120.3 48.9L130.3 38.8L130.9 27.0L120.9 35.4ZM130.3 38.8L140.3 31.9L140.9 21.6L130.9 27.0ZM140.3 31.9L150.3 26.1L151.0 17.2L140.9 21.6ZM150.3 26.1L160.4 21.9L161.0 14.2L151.0 17.2ZM160.4 21.9L170.4 18.2L171.0 11.5L161.0 14.2ZM170.4 18.2L180.4 15.0L181.0 9.3L171.0 11.5ZM180.4 15.0L190.5 12.3L191.1 7.5L181.0 9.3ZM190.5 12.3L200.5 10.2L201.1 6.1L191.1 7.5ZM200.5 10.2L210.5 8.6L211.1 5.0L201.1 6.1ZM210.5 8.6L220.5 7.5L221.2 4.3L211.1 5.0ZM220.5 7.5L230.6 6.7L231.2 3.7L221.2 4.3ZM230.6 6.7L240.6 6.1L241.2 3.4L231.2 3.7ZM240.6 6.1L250.6 5.7L251.2 3.1L241.2 3.4ZM250.6 5.7L260.6 5.5L261.3 3.0L251.2 3.1ZM260.6 5.5L270.7 5.3L271.3 2.9L261.3 3.0ZM270.7 5.3L280.7 5.3L281.3 2.9L271.3 2.9ZM280.7 5.3L290.7 5.3L291.3 3.0L281.3 2.9ZM290.7 5.3L300.8 5.3L301.4 3.0L291.3 3.0ZM300.8 5.3L310.8 5.4L311.4 3.1L301.4 3.0ZM310.8 5.4L320.8 5.6L321.4 3.3L311.4 3.1ZM320.8 5.6L330.8 5.7L331.5 3.4L321.4 3.3ZM330.8 5.7L340.9 5.9L341.5 3.6L331.5 3.4ZM340.9 5.9L350.9 6.0L351.5 3.8L341.5 3.6ZM350.9 6.0L360.9 6.2L361.5 4.0L351.5 3.8ZM360.9 6.2L371.0 6.4L371.6 4.2L361.5 4.0ZM371.0 6.4L381.0 6.7L381.6 4.4L371.6 4.2ZM110.8 53.9L120.9 35.4L121.5 10.0L111.5 20.0ZM120.9 35.4L130.9 27.0L131.5 5.2L121.5 10.0ZM130.9 27.0L140.9 21.6L141.5 2.8L131.5 5.2ZM140.9 21.6L151.0 17.2L151.6 1.0L141.5 2.8ZM151.0 17.2L161.0 14.2L161.6 0.5L151.6 1.0ZM161.0 14.2L171.0 11.5L171.6 0.2L161.6 0.5ZM171.0 11.5L181.0 9.3L181.7 -0.0L171.6 0.2ZM181.0 9.3L191.1 7.5L191.7 -0.1L181.7 -0.0ZM191.1 7.5L201.1 6.1L201.7 -0.2L191.7 -0.1ZM201.1 6.1L211.1 5.0L211.7 -0.2L201.7 -0.2ZM211.1 5.0L221.2 4.3L221.8 -0.2L211.7 -0.2ZM221.2 4.3L231.2 3.7L231.8 -0.1L221.8 -0.2ZM231.2 3.7L241.2 3.4L241.8 -0.1L231.8 -0.1ZM241.2 3.4L251.2 3.1L251.8 0.0L241.8 -0.1ZM251.2 3.1L261.3 3.0L261.9 0.1L251.8 0.0ZM261.3 3.0L271.3 2.9L271.9 0.2L261.9 0.1ZM271.3 2.9L281.3 2.9L281.9 0.3L271.9 0.2ZM281.3 2.9L291.3 3.0L292.0 0.5L281.9 0.3ZM291.3 3.0L301.4 3.0L302.0 0.6L292.0 0.5ZM301.4 3.0L311.4 3.1L312.0 0.8L302.0 0.6ZM311.4 3.1L321.4 3.3L322.0 0.9L312.0 0.8ZM321.4 3.3L331.5 3.4L332.1 1.1L322.0 0.9ZM331.5 3.4L341.5 3.6L342.1 1.3L332.1 1.1ZM341.5 3.6L351.5 3.8L352.1 1.5L342.1 1.3ZM351.5 3.8L361.5 4.0L362.2 1.7L352.1 1.5ZM361.5 4.0L371.6 4.2L372.2 1.9L362.2 1.7ZM371.6 4.2L381.6 4.4L382.2 2.1L372.2 1.9Z" fill="#ff1500" stroke="#ff1500" stroke-width="0.3"/>
<path d="M66.9 86.4L76.9 86.7L77.5 84.4L67.5 84.1Z" fill="#ff1500" stroke="#c71100"/>
<path d="M76.9 86.7L87.0 87.0L87.6 84.7L77.5 84.4Z" fill="#ff1500" stroke="#c71100"/>
<path d="M87.0 87.0L97.0 87.3L97.6 84.9L87.6 84.7Z" fill="#ff1500" stroke="#c71100"/>
<path d="M97.0 87.3L107.0 87.5L107.6 85.2L97.6 84.9Z" fill="#ff1500" stroke="#c71100"/>
<path d="M107.0 87.5L117.0 87.8L117.7 85.5L107.6 85.2Z" fill="#ff1500" stroke="#c71100"/>
<path d="M117.0 87.8L127.1 88.1L127.7 85.8L117.7 85.5Z" fill="#ff1500" stroke="#c71100"/>
<path d="M127.1 88.1L137.1 88.4L137.7 86.0L127.7 85.8Z" fill="#ff1500" stroke="#c71100"/>
<path d="M137.1 88.4L147.1 88.6L147.7 86.3L137.7 86.0Z" fill="#ff1500" stroke="#c71100"/>
<path d="M147.1 88.6L157.2 88.9L157.8 86.6L147.7 86.3Z" fill="#ff1500" stroke="#c71100"/>
<path d="M157.2 88.9L167.2 89.2L167.8 86.9L157.8 86.6Z" fill="#ff1500" stroke="#c71100"/>
<path d="M167.2 89.2L177.2 89.5L177.8 87.1L167.8 86.9Z" fill="#ff1500" stroke="#c71100"/>
<path d="M177.2 89.5L187.2 89.7L187.8 87.4L177.8 87.1Z" fill="#ff1500" stroke="#c71100"/>
<path d="M187.2 89.7L197.3 90.0L197.9 87.7L187.8 87.4Z" fill="#ff1500" stroke="#c71100"/>
<path d="M197.3 90.0L207.3 90.3L207.9 88.0L197.9 87.7Z" fill="#ff1500" stroke="#c71100"/>
<path d="M207.3 90.3L217.3 90.6L217.9 88.2L207.9 88.0Z" fill="#ff1500" stroke="#c71100"/>
<path d="M217.3 90.6L227.3 90.8L228.0 88.5L217.9 88.2Z" fill="#ff1500" stroke="#c71100"/>
<path d="M227.3 90.8L237.4 91.1L238.0 88.8L228.0 88.5Z" fill="#ff1500" stroke="#c71100"/>
<path d="M237.4 91.1L247.4 91.4L248.0 89.1L238.0 88.8Z" fill="#ff1500" stroke="#c71100"/>
<path d="M247.4 91.4L257.4 91.7L258.0 89.3L248.0 89.1Z" fill="#ff1500" stroke="#c71100"/>
<path d="M257.4 91.7L267.5 91.9L268.1 89.6L258.0 89.3Z" fill="#ff1500" stroke="#c71100"/>
<path d="M267.5 91.9L277.5 92.2L278.1 89.9L268.1 89.6Z" fill="#ff1500" stroke="#c71100"/>
<path d="M277.5 92.2L287.5 92.5L288.1 90.2L278.1 89.9Z" fill="#ff1500" stroke="#c71100"/>
<path d="M287.5 92.5L297.5 92.8L298.2 90.4L288.1 90.2Z" fill="#ff1500" stroke="#c71100"/>
<path d="M297.5 92.8L307.6 93.0L308.2 90.7L298.2 90.4Z" fill="#ff1500" stroke="#c71100"/>
<path d="M307.6 93.0L317.6 93.3L318.2 91.0L308.2 90.7Z" fill="#ff1500" stroke="#c71100"/>
<path d="M317.6 93.3L327.6 93.6L328.2 91.3L318.2 91.0Z" fill="#ff1500" stroke="#c71100"/>
<path d="M327.6 93.6L337.7 93.9L338.3 91.6L328.2 91.3Z" fill="#ff1500" stroke="#c71100"/>
<path d="M337.7 93.9L347.7 94.2L348.3 91.8L338.3 91.6Z" fill="#ff1500" stroke="#c71100"/>
<path d="M347.7 94.2L357.7 94.4L358.3 92.1L348.3 91.8Z" fill="#ff1500" stroke="#c71100"/>
<path d="M67.5 84.1L77.5 84.4L78.2 82.1L68.1 81.8Z" fill="#ff1500" stroke="#c71100"/>
<path d="M77.5 84.4L87.6 84.7L88.2 82.3L78.2 82.1Z" fill="#ff1500" stroke="#c71100"/>
<path d="M87.6 84.7L97.6 84.9L98.2 82.6L88.2 82.3Z" fill="#ff1500" stroke="#c71100"/>
<path d="M97.6 84.9L107.6 85.2L108.2 82.9L98.2 82.6Z" fill="#ff1500" stroke="#c71100"/>
<path d="M107.6 85.2L117.7 85.5L118.3 83.2L108.2 82.9Z" fill="#ff1500" stroke="#c71100"/>
<path d="M117.7 85.5L127.7 85.8L128.3 83.4L118.3 83.2Z" fill="#ff1500" stroke="#c71100"/>
<path d="M127.7 85.8L137.7 86.0L138.3 83.7L128.3 83.4Z" fill="#ff1500" stroke="#c71100"/>
<path d="M137.7 86.0L147.7 86.3L148.3 84.0L138.3 83.7Z" fill="#ff1500" stroke="#c71100"/>
<path d="M147.7 86.3L157.8 86.6L158.4 84.3L148.3 84.0Z" fill="#ff1500" stroke="#c71100"/>
<path d="M157.8 86.6L167.8 86.9L168.4 84.5L158.4 84.3Z" fill="#ff1500" stroke="#c71100"/>
<path d="M167.8 86.9L177.8 87.1L178.4 84.8L168.4 84.5Z" fill="#ff1500" stroke="#c71100"/>
<path d="M177.8 87.1L187.8 87.4L188.5 85.1L178.4 84.8Z" fill="#ff1500" stroke="#c71100"/>
<path d="M187.8 87.4L197.9 87.7L198.5 85.4L188.5 85.1Z" fill="#ff1500" stroke="#c71100"/>
<path d="M197.9 87.7L207.9 88.0L208.5 85.6L198.5 85.4Z" fill="#ff1500" stroke="#c71100"/>
<path d="M207.9 88.0L217.9 88.2L218.5 85.9L208.5 85.6Z" fill="#ff1500" stroke="#c71100"/>
<path d="M217.9 88.2L228.0 88.5L228.6 86.2L218.5 85.9Z" fill="#ff1500" stroke="#c71100"/>
<path d="M228.0 88.5L238.0 88.8L238.6 86.5L228.6 86.2Z" fill="#ff1500" stroke="#c71100"/>
<path d="M238.0 88.8L248.0 89.1L248.6 86.7L238.6 86.5Z" fill="#ff1500" stroke="#c71100"/>
<path d="M248.0 89.1L258.0 89.3L258.7 87.0L248.6 86.7Z" fill="#ff1500" stroke="#c71100"/>
<path d="M258.0 89.3L268.1 89.6L268.7 87.3L258.7 87.0Z" fill="#ff1500" stroke="#c71100"/>
<path d="M268.1 89.6L278.1 89.9L278.7 87.6L268.7 87.3Z" fill="#ff1500" stroke="#c71100"/>
<path d="M278.1 89.9L288.1 90.2L288.7 87.8L278.7 87.6Z" fill="#ff1500" stroke="#c71100"/>
<path d="M288.1 90.2L298.2 90.4L298.8 88.1L288.7 87.8Z" fill="#ff1500" stroke="#c71100"/>
<path d="M298.2 90.4L308.2 90.7L308.8 88.4L298.8 88.1Z" fill="#ff1500" stroke="#c71100"/>
<path d="M308.2 90.7L318.2 91.0L318.8 88.7L308.8 88.4Z" fill="#ff1500" stroke="#c71100"/>
<path d="M318.2 91.0L328.2 91.3L328.9 89.0L318.8 88.7Z" fill="#ff1500" stroke="#c71100"/>
<path d="M328.2 91.3L338.3 91.6L338.9 89.2L328.9 89.0Z" fill="#ff1500" stroke="#c71100"/>
<path d="M338.3 91.6L348.3 91.8L348.9 89.5L338.9 89.2Z" fill="#ff1500" stroke="#c71100"/>
<path d="M348.3 91.8L358.3 92.1L358.9 89.8L348.9 89.5Z" fill="#ff1500" stroke="#c71100"/>
<path d="M68.1 81.8L78.2 82.1L78.8 79.7L68.7 79.5Z" fill="#ff1500" stroke="#c71100"/>
<path d="M78.2 82.1L88.2 82.3L88.8 80.0L78.8 79.7Z" fill="#ff1500" stroke="#c71100"/>
<path d="M88.2 82.3L98.2 82.6L98.8 80.3L88.8 80.0Z" fill="#ff1500" stroke="#c71100"/>
<path d="M98.2 82.6L108.2 82.9L108.8 80.6L98.8 80.3Z" fill="#ff1500" stroke="#c71100"/>
<path d="M108.2 82.9L118.3 83.2L118.9 80.8L108.8 80.6Z" fill="#ff1500" stroke="#c71100"/>
<path d="M118.3 83.2L128.3 83.4L128.9 81.1L118.9 80.8Z" fill="#ff1500" stroke="#c71100"/>
<path d="M128.3 83.4L138.3 83.7L138.9 81.4L128.9 81.1Z" fill="#ff1500" stroke="#c71100"/>
<path d="M138.3 83.7L148.3 84.0L149.0 81.7L138.9 81.4Z" fill="#ff1500" stroke="#c71100"/>
<path d="M148.3 84.0L158.4 84.3L159.0 81.9L149.0 81.7Z" fill="#ff1500" stroke="#c71100"/>
<path d="M158.4 84.3L168.4 84.5L169.0 82.2L159.0 81.9Z" fill="#ff1500" stroke="#c71100"/>
<path d="M168.4 84.5L178.4 84.8L179.0 82.5L169.0 82.2Z" fill="#ff1500" stroke="#c71100"/>
<path d="M178.4 84.8L188.5 85.1L189.1 82.8L179.0 82.5Z" fill="#ff1500" stroke="#c71100"/>
<path d="M188.5 85.1L198.5 85.4L199.1 83.0L189.1 82.8Z" fill="#ff1500" stroke="#c71100"/>
<path d="M198.5 85.4L208.5 85.6L209.1 83.3L199.1 83.0Z" fill="#ff1500" stroke="#c71100"/>
<path d="M208.5 85.6L218.5 85.9L219.2 83.6L209.1 83.3Z" fill="#ff1500" stroke="#c71100"/>
<path d="M218.5 85.9L228.6 86.2L229.2 83.9L219.2 83.6Z" fill="#ff1500" stroke="#c71100"/>
<path d="M228.6 86.2L238.6 86.5L239.2 84.1L229.2 83.9Z" fill="#ff1500" stroke="#c71100"/>
<path d="M238.6 86.5L248.6 86.7L249.2 84.4L239.2 84.1Z" fill="#ff1500" stroke="#c71100"/>
<path d="M248.6 86.7L258.7 87.0L259.3 84.7L249.2 84.4Z" fill="#ff1500" stroke="#c71100"/>
<path d="M258.7 87.0L268.7 87.3L269.3 85.0L259.3 84.7Z" fill="#ff1500" stroke="#c71100"/>
<path d="M268.7 87.3L278.7 87.6L279.3 85.2L269.3 85.0Z" fill="#ff1500" stroke="#c71100"/>
<path d="M278.7 87.6L288.7 87.8L289.4 85.5L279.3 85.2Z" fill="#ff1500" stroke="#c71100"/>
<path d="M288.7 87.8L298.8 88.1L299.4 85.8L289.4 85.5Z" fill="#ff1500" stroke="#c71100"/>
<path d="M298.8 88.1L308.8 88.4L309.4 86.1L299.4 85.8Z" fill="#ff1500" stroke="#c71100"/>
<path d="M308.8 88.4L318.8 88.7L319.4 86.4L309.4 86.1Z" fill="#ff1500" stroke="#c71100"/>
<path d="M318.8 88.7L328.9 89.0L329.5 86.6L319.4 86.4Z" fill="#ff1500" stroke="#c71100"/>
<path d="M328.9 89.0L338.9 89.2L339.5 86.9L329.5 86.6Z" fill="#ff1500" stroke="#c71100"/>
<path d="M338.9 89.2L348.9 89.5L349.5 87.2L339.5 86.9Z" fill="#ff1500" stroke="#c71100"/>
<path d="M348.9 89.5L358.9 89.8L359.5 87.5L349.5 87.2Z" fill="#ff1500" stroke="#c71100"/>
<path d="M68.7 79.5L78.8 79.7L79.4 77.4L69.4 77.1Z" fill="#ff1500" stroke="#c71100"/>
<path d="M78.8 79.7L88.8 80.0L89.4 77.7L79.4 77.4Z" fill="#ff1500" stroke="#c71100"/>
<path d="M88.8 80.0L98.8 80.3L99.4 78.0L89.4 77.7Z" fill="#ff1500" stroke="#c71100"/>
<path d="M98.8 80.3L108.8 80.6L109.5 78.2L99.4 78.0Z" fill="#ff1500" stroke="#c71100"/>
<path d="M108.8 80.6L118.9 80.8L119.5 78.5L109.5 78.2Z" fill="#ff1500" stroke="#c71100"/>
<path d="M118.9 80.8L128.9 81.1L129.5 78.8L119.5 78.5Z" fill="#ff1500" stroke="#c71100"/>
<path d="M128.9 81.1L138.9 81.4L139.5 79.1L129.5 78.8Z" fill="#ff1500" stroke="#c71100"/>
<path d="M138.9 81.4L149.0 81.7L149.6 79.3L139.5 79.1Z" fill="#ff1500" stroke="#c71100"/>
<path d="M149.0 81.7L159.0 81.9L159.6 79.6L149.6 79.3Z" fill="#ff1500" stroke="#c71100"/>
<path d="M159.0 81.9L169.0 82.2L169.6 79.9L159.6 79.6Z" fill="#ff1500" stroke="#c71100"/>
<path d="M169.0 82.2L179.0 82.5L179.7 80.2L169.6 79.9Z" fill="#ff1500" stroke="#c71100"/>
<path d="M179.0 82.5L189.1 82.8L189.7 80.4L179.7 80.2Z" fill="#ff1500" stroke="#c71100"/>
<path d="M189.1 82.8L199.1 83.0L199.7 80.7L189.7 80.4Z" fill="#ff1500" stroke="#c71100"/>
<path d="M199.1 83.0L209.1 83.3L209.7 81.0L199.7 80.7Z" fill="#ff1500" stroke="#c71100"/>
<path d="M209.1 83.3L219.2 83.6L219.8 81.3L209.7 81.0Z" fill="#ff1500" stroke="#c71100"/>
<path d="M219.2 83.6L229.2 83.9L229.8 81.5L219.8 81.3Z" fill="#ff1500" stroke="#c71100"/>
<path d="M229.2 83.9L239.2 84.1L239.8 81.8L229.8 81.5Z" fill="#ff1500" stroke="#c71100"/>
<path d="M239.2 84.1L249.2 84.4L249.9 82.1L239.8 81.8Z" fill="#ff1500" stroke="#c71100"/>
<path d="M249.2 84.4L259.3 84.7L259.9 82.4L249.9 82.1Z" fill="#ff1500" stroke="#c71100"/>
<path d="M259.3 84.7L269.3 85.0L269.9 82.6L259.9 82.4Z" fill="#ff1500" stroke="#c71100"/>
<path d="M269.3 85.0L279.3 85.2L279.9 82.9L269.9 82.6Z" fill="#ff1500" stroke="#c71100"/>
<path d="M279.3 85.2L289.4 85.5L290.0 83.2L279.9 82.9Z" fill="#ff1500" stroke="#c71100"/>
<path d="M289.4 85.5L299.4 85.8L300.0 83.5L290.0 83.2Z" fill="#ff1500" stroke="#c71100"/>
<path d="M299.4 85.8L309.4 86.1L310.0 83.8L300.0 83.5Z" fill="#ff1500" stroke="#c71100"/>
<path d="M309.4 86.1L319.4 86.4L320.0 84.0L310.0 83.8Z" fill="#ff1500" stroke="#c71100"/>
<path d="M319.4 86.4L329.5 86.6L330.1 84.3L320.0 84.0Z" fill="#ff1500" stroke="#c71100"/>
<path d="M329.5 86.6L339.5 86.9L340.1 84.6L330.1 84.3Z" fill="#ff1500" stroke="#c71100"/>
<path d="M339.5 86.9L349.5 87.2L350.1 84.9L340.1 84.6Z" fill="#ff1500" stroke="#c71100"/>
<path d="M349.5 87.2L359.5 87.5L360.2 85.1L350.1 84.9Z" fill="#ff1500" stroke="#c71100"/>
<path d="M69.4 77.1L79.4 77.4L80.0 75.1L70.0 74.8Z" fill="#ff1500" stroke="#c71100"/>
<path d="M79.4 77.4L89.4 77.7L90.0 75.4L80.0 75.1Z" fill="#ff1500" stroke="#c71100"/>
<path d="M89.4 77.7L99.4 78.0L100.0 75.6L90.0 75.4Z" fill="#ff1500" stroke="#c71100"/>
<path d="M99.4 78.0L109.5 78.2L110.1 75.9L100.0 75.6Z" fill="#ff1500" stroke="#c71100"/>
<path d="M109.5 78.2L119.5 78.5L120.1 76.2L110.1 75.9Z" fill="#ff1500" stroke="#c71100"/>
<path d="M119.5 78.5L129.5 78.8L130.1 76.5L120.1 76.2Z" fill="#ff1500" stroke="#c71100"/>
<path d="M129.5 78.8L139.5 79.1L140.2 76.7L130.1 76.5Z" fill="#ff1500" stroke="#c71100"/>
<path d="M139.5 79.1L149.6 79.3L150.2 77.0L140.2 76.7Z" fill="#ff1500" stroke="#c71100"/>
<path d="M149.6 79.3L159.6 79.6L160.2 77.3L150.2 77.0Z" fill="#ff1500" stroke="#c71100"/>
<path d="M159.6 79.6L169.6 79.9L170.2 77.6L160.2 77.3Z" fill="#ff1500" stroke="#c71100"/>
<path d="M169.6 79.9L179.7 80.2L180.3 77.8L170.2 77.6Z" fill="#ff1500" stroke="#c71100"/>
<path d="M179.7 80.2L189.7 80.4L190.3 78.1L180.3 77.8Z" fill="#ff1500" stroke="#c71100"/>
<path d="M189.7 80.4L199.7 80.7L200.3 78.4L190.3 78.1Z" fill="#ff1500" stroke="#c71100"/>
<path d="M199.7 80.7L209.7 81.0L210.4 78.7L200.3 78.4Z" fill="#ff1500" stroke="#c71100"/>
<path d="M209.7 81.0L219.8 81.3L220.4 78.9L210.4 78.7Z" fill="#ff1500" stroke="#c71100"/>
<path d="M219.8 81.3L229.8 81.5L230.4 79.2L220.4 78.9Z" fill="#ff1500" stroke="#c71100"/>
<path d="M229.8 81.5L239.8 81.8L240.4 79.5L230.4 79.2Z" fill="#ff1500" stroke="#c71100"/>
<path d="M239.8 81.8L249.9 82.1L250.5 79.8L240.4 79.5Z" fill="#ff1500" stroke="#c71100"/>
<path d="M249.9 82.1L259.9 82.4L260.5 80.1L250.5 79.8Z" fill="#ff1500" stroke="#c71100"/>
<path d="M259.9 82.4L269.9 82.6L270.5 80.3L260.5 80.1Z" fill="#ff1500" stroke="#c71100"/>
<path d="M269.9 82.6L279.9 82.9L280.5 80.6L270.5 80.3Z" fill="#ff1500" stroke="#c71100"/>
<path d="M279.9 82.9L290.0 83.2L290.6 80.9L280.5 80.6Z" fill="#ff1500" stroke="#c71100"/>
<path d="M290.0 83.2L300.0 83.5L300.6 81.2L290.6 80.9Z" fill="#ff1500" stroke="#c71100"/>
<path d="M300.0 83.5L310.0 83.8L310.6 81.4L300.6 81.2Z" fill="#ff1500" stroke="#c71100"/>
<path d="M310.0 83.8L320.0 84.0L320.7 81.7L310.6 81.4Z" fill="#ff1500" stroke="#c71100"/>
<path d="M320.0 84.0L330.1 84.3L330.7 82.0L320.7 81.7Z" fill="#ff1500" stroke="#c71100"/>
<path d="M330.1 84.3L340.1 84.6L340.7 82.3L330.7 82.0Z" fill="#ff1500" stroke="#c71100"/>
<path d="M340.1 84.6L350.1 84.9L350.7 82.5L340.7 82.3Z" fill="#ff1500" stroke="#c71100"/>
<path d="M350.1 84.9L360.2 85.1L360.8 82.8L350.7 82.5Z" fill="#ff1500" stroke="#c71100"/>
<path d="M70.0 74.8L80.0 75.1L80.6 72.8L70.6 72.5Z" fill="#ff1500" stroke="#c71100"/>
<path d="M80.0 75.1L90.0 75.4L90.6 73.0L80.6 72.8Z" fill="#ff1500" stroke="#c71100"/>
<path d="M90.0 75.4L100.0 75.6L100.7 73.3L90.6 73.0Z" fill="#ff1500" stroke="#c71100"/>
<path d="M100.0 75.6L110.1 75.9L110.7 73.6L100.7 73.3Z" fill="#ff1500" stroke="#c71100"/>
<path d="M110.1 75.9L120.1 76.2L120.7 73.9L110.7 73.6Z" fill="#ff1500" stroke="#c71100"/>
<path d="M120.1 76.2L130.1 76.5L130.7 74.1L120.7 73.9Z" fill="#ff1500" stroke="#c71100"/>
<path d="M130.1 76.5L140.2 76.7L140.8 74.4L130.7 74.1Z" fill="#ff1500" stroke="#c71100"/>
<path d="M140.2 76.7L150.2 77.0L150.8 74.7L140.8 74.4Z" fill="#ff1500" stroke="#c71100"/>
<path d="M150.2 77.0L160.2 77.3L160.8 75.0L150.8 74.7Z" fill="#ff1500" stroke="#c71100"/>
<path d="M160.2 77.3L170.2 77.6L170.9 75.2L160.8 75.0Z" fill="#ff1500" stroke="#c71100"/>
<path d="M170.2 77.6L180.3 77.8L180.9 75.5L170.9 75.2Z" fill="#ff1500" stroke="#c71100"/>
<path d="M180.3 77.8L190.3 78.1L190.9 75.8L180.9 75.5Z" fill="#ff1500" stroke="#c71100"/>
<path d="M190.3 78.1L200.3 78.4L200.9 76.1L190.9 75.8Z" fill="#ff1500" stroke="#c71100"/>
<path d="M200.3 78.4L210.4 78.7L211.0 76.3L200.9 76.1Z" fill="#ff1500" stroke="#c71100"/>
<path d="M210.4 78.7L220.4 78.9L221.0 76.6L211.0 76.3Z" fill="#ff1500" stroke="#c71100"/>
<path d="M220.4 78.9L230.4 79.2L231.0 76.9L221.0 76.6Z" fill="#ff1500" stroke="#c71100"/>
<path d="M230.4 79.2L240.4 79.5L241.0 77.2L231.0 76.9Z" fill="#ff1500" stroke="#c71100"/>
<path d="M240.4 79.5L250.5 79.8L251.1 77.5L241.0 77.2Z" fill="#ff1500" stroke="#c71100"/>
<path d="M250.5 79.8L260.5 80.1L261.1 77.7L251.1 77.5Z" fill="#ff1500" stroke="#c71100"/>
<path d="M260.5 80.1L270.5 80.3L271.1 78.0L261.1 77.7Z" fill="#ff1500" stroke="#c71100"/>
<path d="M270.5 80.3L280.5 80.6L281.2 78.3L271.1 78.0Z" fill="#ff1500" stroke="#c71100"/>
<path d="M280.5 80.6L290.6 80.9L291.2 78.6L281.2 78.3Z" fill="#ff1500" stroke="#c71100"/>
<path d="M290.6 80.9L300.6 81.2L301.2 78.8L291.2 78.6Z" fill="#ff1500" stroke="#c71100"/>
<path d="M300.6 81.2L310.6 81.4L311.2 79.1L301.2 78.8Z" fill="#ff1500" stroke="#c71100"/>
<path d="M310.6 81.4L320.7 81.7L321.3 79.4L311.2 79.1Z" fill="#ff1500" stroke="#c71100"/>
<path d="M320.7 81.7L330.7 82.0L331.3 79.7L321.3 79.4Z" fill="#ff1500" stroke="#c71100"/>
<path d="M330.7 82.0L340.7 82.3L341.3 79.9L331.3 79.7Z" fill="#ff1500" stroke="#c71100"/>
<path d="M340.7 82.3L350.7 82.5L351.4 80.2L341.3 79.9Z" fill="#ff1500" stroke="#c71100"/>
<path d="M350.7 82.5L360.8 82.8L361.4 80.5L351.4 80.2Z" fill="#ff1500" stroke="#c71100"/>
<path d="M70.6 72.5L80.6 72.8L81.2 70.4L71.2 70.2Z" fill="#ff1500" stroke="#c71100"/>
<path d="M80.6 72.8L90.6 73.0L91.2 70.7L81.2 70.4Z" fill="#ff1500" stroke="#c71100"/>
<path d="M90.6 73.0L100.7 73.3L101.3 71.0L91.2 70.7Z" fill="#ff1500" stroke="#c71100"/>
<path d="M100.7 73.3L110.7 73.6L111.3 71.3L101.3 71.0Z" fill="#ff1500" stroke="#c71100"/>
<path d="M110.7 73.6L120.7 73.9L121.3 71.5L111.3 71.3Z" fill="#ff1500" stroke="#c71100"/>
<path d="M120.7 73.9L130.7 74.1L131.4 71.8L121.3 71.5Z" fill="#ff1500" stroke="#c71100"/>
<path d="M130.7 74.1L140.8 74.4L141.4 72.1L131.4 71.8Z" fill="#ff1500" stroke="#c71100"/>
<path d="M140.8 74.4L150.8 74.7L151.4 72.4L141.4 72.1Z" fill="#ff1500" stroke="#c71100"/>
<path d="M150.8 74.7L160.8 75.0L161.4 72.6L151.4 72.4Z" fill="#ff1500" stroke="#c71100"/>
<path d="M160.8 75.0L170.9 75.2L171.5 72.9L161.4 72.6Z" fill="#ff1500" stroke="#c71100"/>
<path d="M170.9 75.2L180.9 75.5L181.5 73.2L171.5 72.9Z" fill="#ff1500" stroke="#c71100"/>
<path d="M180.9 75.5L190.9 75.8L191.5 73.5L181.5 73.2Z" fill="#ff1500" stroke="#c71100"/>
<path d="M190.9 75.8L200.9 76.1L201.6 73.8L191.5 73.5Z" fill="#ff1500" stroke="#c71100"/>
<path d="M200.9 76.1L211.0 76.3L211.6 74.0L201.6 73.8Z" fill="#ff1500" stroke="#c71100"/>
<path d="M211.0 76.3L221.0 76.6L221.6 74.3L211.6 74.0Z" fill="#ff1500" stroke="#c71100"/>
<path d="M221.0 76.6L231.0 76.9L231.6 74.6L221.6 74.3Z" fill="#ff1500" stroke="#c71100"/>
<path d="M231.0 76.9L241.0 77.2L241.7 74.9L231.6 74.6Z" fill="#ff1500" stroke="#c71100"/>
<path d="M241.0 77.2L251.1 77.5L251.7 75.1L241.7 74.9Z" fill="#ff1500" stroke="#c71100"/>
<path d="M251.1 77.5L261.1 77.7L261.7 75.4L251.7 75.1Z" fill="#ff1500" stroke="#c71100"/>
<path d="M261.1 77.7L271.1 78.0L271.7 75.7L261.7 75.4Z" fill="#ff1500" stroke="#c71100"/>
<path d="M271.1 78.0L281.2 78.3L281.8 76.0L271.7 75.7Z" fill="#ff1500" stroke="#c71100"/>
<path d="M281.2 78.3L291.2 78.6L291.8 76.2L281.8 76.0Z" fill="#ff1500" stroke="#c71100"/>
<path d="M291.2 78.6L301.2 78.8L301.8 76.5L291.8 76.2Z" fill="#ff1500" stroke="#c71100"/>
<path d="M301.2 78.8L311.2 79.1L311.9 76.8L301.8 76.5Z" fill="#ff1500" stroke="#c71100"/>
<path d="M311.2 79.1L321.3 79.4L321.9 77.1L311.9 76.8Z" fill="#ff1500" stroke="#c71100"/>
<path d="M321.3 79.4L331.3 79.7L331.9 77.3L321.9 77.1Z" fill="#ff1500" stroke="#c71100"/>
<path d="M331.3 79.7L341.3 79.9L341.9 77.6L331.9 77.3Z" fill="#ff1500" stroke="#c71100"/>
<path d="M341.3 79.9L351.4 80.2L352.0 77.9L341.9 77.6Z" fill="#ff1500" stroke="#c71100"/>
<path d="M351.4 80.2L361.4 80.5L362.0 78.2L352.0 77.9Z" fill="#ff1500" stroke="#c71100"/>
<path d="M71.2 70.2L81.2 70.4L81.8 68.1L71.8 67.8Z" fill="#ff1500" stroke="#c71100"/>
<path d="M81.2 70.4L91.2 70.7L91.9 68.4L81.8 68.1Z" fill="#ff1500" stroke="#c71100"/>
<path d="M91.2 70.7L101.3 71.0L101.9 68.7L91.9 68.4Z" fill="#ff1500" stroke="#c71100"/>
<path d="M101.3 71.0L111.3 71.3L111.9 68.9L101.9 68.7Z" fill="#ff1500" stroke="#c71100"/>
<path d="M111.3 71.3L121.3 71.5L121.9 69.2L111.9 68.9Z" fill="#ff1500" stroke="#c71100"/>
<path d="M121.3 71.5L131.4 71.8L132.0 69.5L121.9 69.2Z" fill="#ff1500" stroke="#c71100"/>
<path d="M131.4 71.8L141.4 72.1L142.0 69.8L132.0 69.5Z" fill="#ff1500" stroke="#c71100"/>
<path d="M141.4 72.1L151.4 72.4L152.0 70.1L142.0 69.8Z" fill="#ff1500" stroke="#c71100"/>
<path d="M151.4 72.4L161.4 72.6L162.1 70.3L152.0 70.1Z" fill="#ff1500" stroke="#c71100"/>
<path d="M161.4 72.6L171.5 72.9L172.1 70.6L162.1 70.3Z" fill="#ff1500" stroke="#c71100"/>
<path d="M171.5 72.9L181.5 73.2L182.1 70.9L172.1 70.6Z" fill="#ff1500" stroke="#c71100"/>
<path d="M181.5 73.2L191.5 73.5L192.1 71.2L182.1 70.9Z" fill="#ff1500" stroke="#c71100"/>
<path d="M191.5 73.5L201.6 73.8L202.2 71.4L192.1 71.2Z" fill="#ff1500" stroke="#c71100"/>
<path d="M201.6 73.8L211.6 74.0L212.2 71.7L202.2 71.4Z" fill="#ff1500" stroke="#c71100"/>
<path d="M211.6 74.0L221.6 74.3L222.2 72.0L212.2 71.7Z" fill="#ff1500" stroke="#c71100"/>
<path d="M221.6 74.3L231.6 74.6L232.2 72.3L222.2 72.0Z" fill="#ff1500" stroke="#c71100"/>
<path d="M231.6 74.6L241.7 74.9L242.3 72.5L232.2 72.3Z" fill="#ff1500" stroke="#c71100"/>
<path d="M241.7 74.9L251.7 75.1L252.3 72.8L242.3 72.5Z" fill="#ff1500" stroke="#c71100"/>
<path d="M251.7 75.1L261.7 75.4L262.3 73.1L252.3 72.8Z" fill="#ff1500" stroke="#c71100"/>
<path d="M261.7 75.4L271.7 75.7L272.4 73.4L262.3 73.1Z" fill="#ff1500" stroke="#c71100"/>
<path d="M271.7 75.7L281.8 76.0L282.4 73.6L272.4 73.4Z" fill="#ff1500" stroke="#c71100"/>
<path d="M281.8 76.0L291.8 76.2L292.4 73.9L282.4 73.6Z" fill="#ff1500" stroke="#c71100"/>
<path d="M291.8 76.2L301.8 76.5L302.4 74.2L292.4 73.9Z" fill="#ff1500" stroke="#c71100"/>
<path d="M301.8 76.5L311.9 76.8L312.5 74.5L302.4 74.2Z" fill="#ff1500" stroke="#c71100"/>
<path d="M311.9 76.8L321.9 77.1L322.5 74.7L312.5 74.5Z" fill="#ff1500" stroke="#c71100"/>
<path d="M321.9 77.1L331.9 77.3L332.5 75.0L322.5 74.7Z" fill="#ff1500" stroke="#c71100"/>
<path d="M331.9 77.3L341.9 77.6L342.6 75.3L332.5 75.0Z" fill="#ff1500" stroke="#c71100"/>
<path d="M341.9 77.6L352.0 77.9L352.6 75.6L342.6 75.3Z" fill="#ff1500" stroke="#c71100"/>
<path d="M352.0 77.9L362.0 78.2L362.6 75.8L352.6 75.6Z" fill="#ff1500" stroke="#c71100"/>
<path d="M71.8 67.8L81.8 68.1L82.4 65.8L72.4 65.5Z" fill="#ff1500" stroke="#c71100"/>
<path d="M81.8 68.1L91.9 68.4L92.5 66.1L82.4 65.8Z" fill="#ff1500" stroke="#c71100"/>
<path d="M91.9 68.4L101.9 68.7L102.5 66.3L92.5 66.1Z" fill="#ff1500" stroke="#c71100"/>
<path d="M101.9 68.7L111.9 68.9L112.5 66.6L102.5 66.3Z" fill="#ff1500" stroke="#c71100"/>
<path d="M111.9 68.9L121.9 69.2L122.6 66.9L112.5 66.6Z" fill="#ff1500" stroke="#c71100"/>
<path d="M121.9 69.2L132.0 69.5L132.6 67.2L122.6 66.9Z" fill="#ff1500" stroke="#c71100"/>
<path d="M132.0 69.5L142.0 69.8L142.6 67.5L132.6 67.2Z" fill="#ff1500" stroke="#c71100"/>
<path d="M142.0 69.8L152.0 70.1L152.6 67.7L142.6 67.5Z" fill="#ff1500" stroke="#c71100"/>
<path d="M152.0 70.1L162.1 70.3L162.7 68.0L152.6 67.7Z" fill="#ff1500" stroke="#c71100"/>
<path d="M162.1 70.3L172.1 70.6L172.7 68.3L162.7 68.0Z" fill="#ff1500" stroke="#c71100"/>
<path d="M172.1 70.6L182.1 70.9L182.7 68.6L172.7 68.3Z" fill="#ff1500" stroke="#c71100"/>
<path d="M182.1 70.9L192.1 71.2L192.7 68.8L182.7 68.6Z" fill="#ff1500" stroke="#c71100"/>
<path d="M192.1 71.2L202.2 71.4L202.8 69.1L192.7 68.8Z" fill="#ff1500" stroke="#c71100"/>
<path d="M202.2 71.4L212.2 71.7L212.8 69.4L202.8 69.1Z" fill="#ff1500" stroke="#c71100"/>
<path d="M212.2 71.7L222.2 72.0L222.8 69.7L212.8 69.4Z" fill="#ff1500" stroke="#c71100"/>
<path d="M222.2 72.0L232.2 72.3L232.9 69.9L222.8 69.7Z" fill="#ff1500" stroke="#c71100"/>
<path d="M232.2 72.3L242.3 72.5L242.9 70.2L232.9 69.9Z" fill="#ff1500" stroke="#c71100"/>
<path d="M242.3 72.5L252.3 72.8L252.9 70.5L242.9 70.2Z" fill="#ff1500" stroke="#c71100"/>
<path d="M252.3 72.8L262.3 73.1L262.9 70.8L252.9 70.5Z" fill="#ff1500" stroke="#c71100"/>
<path d="M262.3 73.1L272.4 73.4L273.0 71.0L262.9 70.8Z" fill="#ff1500" stroke="#c71100"/>
<path d="M272.4 73.4L282.4 73.6L283.0 71.3L273.0 71.0Z" fill="#ff1500" stroke="#c71100"/>
<path d="M282.4 73.6L292.4 73.9L293.0 71.6L283.0 71.3Z" fill="#ff1500" stroke="#c71100"/>
<path d="M292.4 73.9L302.4 74.2L303.1 71.9L293.0 71.6Z" fill="#ff1500" stroke="#c71100"/>
<path d="M302.4 74.2L312.5 74.5L313.1 72.1L303.1 71.9Z" fill="#ff1500" stroke="#c71100"/>
<path d="M312.5 74.5L322.5 74.7L323.1 72.4L313.1 72.1Z" fill="#ff1500" stroke="#c71100"/>
<path d="M322.5 74.7L332.5 75.0L333.1 72.7L323.1 72.4Z" fill="#ff1500" stroke="#c71100"/>
<path d="M332.5 75.0L342.6 75.3L343.2 73.0L333.1 72.7Z" fill="#ff1500" stroke="#c71100"/>
<path d="M342.6 75.3L352.6 75.6L353.2 73.2L343.2 73.0Z" fill="#ff1500" stroke="#c71100"/>
<path d="M352.6 75.6L362.6 75.8L363.2 73.5L353.2 73.2Z" fill="#ff1500" stroke="#c71100"/>
<path d="M72.4 65.5L82.4 65.8L83.1 63.5L73.0 63.2Z" fill="#ff1500" stroke="#c71100"/>
<path d="M82.4 65.8L92.5 66.1L93.1 63.7L83.1 63.5Z" fill="#ff1500" stroke="#c71100"/>
<path d="M92.5 66.1L102.5 66.3L103.1 64.0L93.1 63.7Z" fill="#ff1500" stroke="#c71100"/>
<path d="M102.5 66.3L112.5 66.6L113.1 64.3L103.1 64.0Z" fill="#ff1500" stroke="#c71100"/>
<path d="M112.5 66.6L122.6 66.9L123.2 64.6L113.1 64.3Z" fill="#ff1500" stroke="#c71100"/>
<path d="M122.6 66.9L132.6 67.2L133.2 64.9L123.2 64.6Z" fill="#ff1500" stroke="#c71100"/>
<path d="M132.6 67.2L142.6 67.5L143.2 65.1L133.2 64.9Z" fill="#ff1500" stroke="#c71100"/>
<path d="M142.6 67.5L152.6 67.7L153.2 65.4L143.2 65.1Z" fill="#ff1500" stroke="#c71100"/>
<path d="M152.6 67.7L162.7 68.0L163.3 65.7L153.2 65.4Z" fill="#ff1500" stroke="#c71100"/>
<path d="M162.7 68.0L172.7 68.3L173.3 66.0L163.3 65.7Z" fill="#ff1500" stroke="#c71100"/>
<path d="M172.7 68.3L182.7 68.6L183.3 66.2L173.3 66.0Z" fill="#ff1500" stroke="#c71100"/>
<path d="M182.7 68.6L192.7 68.8L193.4 66.5L183.3 66.2Z" fill="#ff1500" stroke="#c71100"/>
<path d="M192.7 68.8L202.8 69.1L203.4 66.8L193.4 66.5Z" fill="#ff1500" stroke="#c71100"/>
<path d="M202.8 69.1L212.8 69.4L213.4 67.1L203.4 66.8Z" fill="#ff1500" stroke="#c71100"/>
<path d="M212.8 69.4L222.8 69.7L223.4 67.3L213.4 67.1Z" fill="#ff1500" stroke="#c71100"/>
<path d="M222.8 69.7L232.9 69.9L233.5 67.6L223.4 67.3Z" fill="#ff1500" stroke="#c71100"/>
<path d="M232.9 69.9L242.9 70.2L243.5 67.9L233.5 67.6Z" fill="#ff1500" stroke="#c71100"/>
<path d="M242.9 70.2L252.9 70.5L253.5 68.2L243.5 67.9Z" fill="#ff1500" stroke="#c71100"/>
<path d="M252.9 70.5L262.9 70.8L263.6 68.4L253.5 68.2Z" fill="#ff1500" stroke="#c71100"/>
<path d="M262.9 70.8L273.0 71.0L273.6 68.7L263.6 68.4Z" fill="#ff1500" stroke="#c71100"/>
<path d="M273.0 71.0L283.0 71.3L283.6 69.0L273.6 68.7Z" fill="#ff1500" stroke="#c71100"/>
<path d="M283.0 71.3L293.0 71.6L293.6 69.3L283.6 69.0Z" fill="#ff1500" stroke="#c71100"/>
<path d="M293.0 71.6L303.1 71.9L303.7 69.5L293.6 69.3Z" fill="#ff1500" stroke="#c71100"/>
<path d="M303.1 71.9L313.1 72.1L313.7 69.8L303.7 69.5Z" fill="#ff1500" stroke="#c71100"/>
<path d="M313.1 72.1L323.1 72.4L323.7 70.1L313.7 69.8Z" fill="#ff1500" stroke="#c71100"/>
<path d="M323.1 72.4L333.1 72.7L333.8 70.4L323.7 70.1Z" fill="#ff1500" stroke="#c71100"/>
<path d="M333.1 72.7L343.2 73.0L343.8 70.6L333.8 70.4Z" fill="#ff1500" stroke="#c71100"/>
<path d="M343.2 73.0L353.2 73.2L353.8 70.9L343.8 70.6Z" fill="#ff1500" stroke="#c71100"/>
<path d="M353.2 73.2L363.2 73.5L363.8 71.2L353.8 70.9Z" fill="#ff1500" stroke="#c71100"/>
<path d="M73.0 63.2L83.1 63.5L83.7 61.1L73.6 60.9Z" fill="#ff1500" stroke="#c71100"/>
<path d="M83.1 63.5L93.1 63.7L93.7 61.4L83.7 61.1Z" fill="#ff1500" stroke="#c71100"/>
<path d="M93.1 63.7L103.1 64.0L103.7 61.7L93.7 61.4Z" fill="#ff1500" stroke="#c71100"/>
<path d="M103.1 64.0L113.1 64.3L113.7 62.0L103.7 61.7Z" fill="#ff1500" stroke="#c71100"/>
<path d="M113.1 64.3L123.2 64.6L123.8 62.3L113.7 62.0Z" fill="#ff1500" stroke="#c71100"/>
<path d="M123.2 64.6L133.2 64.9L133.8 62.6L123.8 62.3Z" fill="#ff1500" stroke="#c71100"/>
<path d="M133.2 64.9L143.2 65.1L143.8 62.8L133.8 62.6Z" fill="#ff1500" stroke="#c71100"/>
<path d="M143.2 65.1L153.2 65.4L153.9 63.1L143.8 62.8Z" fill="#ff1500" stroke="#c71100"/>
<path d="M153.2 65.4L163.3 65.7L163.9 63.4L153.9 63.1Z" fill="#ff1500" stroke="#c71100"/>
<path d="M163.3 65.7L173.3 66.0L173.9 63.7L163.9 63.4Z" fill="#ff1500" stroke="#c71100"/>
<path d="M173.3 66.0L183.3 66.2L183.9 63.9L173.9 63.7Z" fill="#ff1500" stroke="#c71100"/>
<path d="M183.3 66.2L193.4 66.5L194.0 64.2L183.9 63.9Z" fill="#ff1500" stroke="#c71100"/>
<path d="M193.4 66.5L203.4 66.8L204.0 64.5L194.0 64.2Z" fill="#ff1500" stroke="#c71100"/>
<path d="M203.4 66.8L213.4 67.1L214.0 64.8L204.0 64.5Z" fill="#ff1500" stroke="#c71100"/>
<path d="M213.4 67.1L223.4 67.3L224.1 65.0L214.0 64.8Z" fill="#ff1500" stroke="#c71100"/>
<path d="M223.4 67.3L233.5 67.6L234.1 65.3L224.1 65.0Z" fill="#ff1500" stroke="#c71100"/>
<path d="M233.5 67.6L243.5 67.9L244.1 65.6L234.1 65.3Z" fill="#ff1500" stroke="#c71100"/>
<path d="M243.5 67.9L253.5 68.2L254.1 65.8L244.1 65.6Z" fill="#ff1500" stroke="#c71100"/>
<path d="M253.5 68.2L263.6 68.4L264.2 66.1L254.1 65.8Z" fill="#ff1500" stroke="#c71100"/>
<path d="M263.6 68.4L273.6 68.7L274.2 66.4L264.2 66.1Z" fill="#ff1500" stroke="#c71100"/>
<path d="M273.6 68.7L283.6 69.0L284.2 66.7L274.2 66.4Z" fill="#ff1500" stroke="#c71100"/>
<path d="M283.6 69.0L293.6 69.3L294.3 66.9L284.2 66.7Z" fill="#ff1500" stroke="#c71100"/>
<path d="M293.6 69.3L303.7 69.5L304.3 67.2L294.3 66.9Z" fill="#ff1500" stroke="#c71100"/>
<path d="M303.7 69.5L313.7 69.8L314.3 67.5L304.3 67.2Z" fill="#ff1500" stroke="#c71100"/>
<path d="M313.7 69.8L323.7 70.1L324.3 67.8L314.3 67.5Z" fill="#ff1500" stroke="#c71100"/>
<path d="M323.7 70.1L333.8 70.4L334.4 68.0L324.3 67.8Z" fill="#ff1500" stroke="#c71100"/>
<path d="M333.8 70.4L343.8 70.6L344.4 68.3L334.4 68.0Z" fill="#ff1500" stroke="#c71100"/>
<path d="M343.8 70.6L353.8 70.9L354.4 68.6L344.4 68.3Z" fill="#ff1500" stroke="#c71100"/>
<path d="M353.8 70.9L363.8 71.2L364.4 68.9L354.4 68.6Z" fill="#ff1500" stroke="#c71100"/>
<path d="M73.6 60.9L83.7 61.1L84.3 58.8L74.2 58.5Z" fill="#ff1500" stroke="#c71100"/>
<path d="M83.7 61.1L93.7 61.4L94.3 59.1L84.3 58.8Z" fill="#ff1500" stroke="#c71100"/>
<path d="M93.7 61.4L103.7 61.7L104.3 59.4L94.3 59.1Z" fill="#ff1500" stroke="#c71100"/>
<path d="M103.7 61.7L113.7 62.0L114.4 59.7L104.3 59.4Z" fill="#ff1500" stroke="#c71100"/>
<path d="M113.7 62.0L123.8 62.3L124.4 60.0L114.4 59.7Z" fill="#ff1500" stroke="#c71100"/>
<path d="M123.8 62.3L133.8 62.6L134.4 60.3L124.4 60.0Z" fill="#ff1500" stroke="#c71100"/>
<path d="M133.8 62.6L143.8 62.8L144.4 60.6L134.4 60.3Z" fill="#ff1500" stroke="#c71100"/>
<path d="M143.8 62.8L153.9 63.1L154.5 60.8L144.4 60.6Z" fill="#ff1500" stroke="#c71100"/>
<path d="M153.9 63.1L163.9 63.4L164.5 61.1L154.5 60.8Z" fill="#ff1500" stroke="#c71100"/>
<path d="M163.9 63.4L173.9 63.7L174.5 61.4L164.5 61.1Z" fill="#ff1500" stroke="#c71100"/>
<path d="M173.9 63.7L183.9 63.9L184.6 61.6L174.5 61.4Z" fill="#ff1500" stroke="#c71100"/>
<path d="M183.9 63.9L194.0 64.2L194.6 61.9L184.6 61.6Z" fill="#ff1500" stroke="#c71100"/>
<path d="M194.0 64.2L204.0 64.5L204.6 62.2L194.6 61.9Z" fill="#ff1500" stroke="#c71100"/>
<path d="M204.0 64.5L214.0 64.8L214.6 62.4L204.6 62.2Z" fill="#ff1500" stroke="#c71100"/>
<path d="M214.0 64.8L224.1 65.0L224.7 62.7L214.6 62.4Z" fill="#ff1500" stroke="#c71100"/>
<path d="M224.1 65.0L234.1 65.3L234.7 63.0L224.7 62.7Z" fill="#ff1500" stroke="#c71100"/>
<path d="M234.1 65.3L244.1 65.6L244.7 63.3L234.7 63.0Z" fill="#ff1500" stroke="#c71100"/>
<path d="M244.1 65.6L254.1 65.8L254.8 63.5L244.7 63.3Z" fill="#ff1500" stroke="#c71100"/>
<path d="M254.1 65.8L264.2 66.1L264.8 63.8L254.8 63.5Z" fill="#ff1500" stroke="#c71100"/>
<path d="M264.2 66.1L274.2 66.4L274.8 64.1L264.8 63.8Z" fill="#ff1500" stroke="#c71100"/>
<path d="M274.2 66.4L284.2 66.7L284.8 64.3L274.8 64.1Z" fill="#ff1500" stroke="#c71100"/>
<path d="M284.2 66.7L294.3 66.9L294.9 64.6L284.8 64.3Z" fill="#ff1500" stroke="#c71100"/>
<path d="M294.3 66.9L304.3 67.2L304.9 64.9L294.9 64.6Z" fill="#ff1500" stroke="#c71100"/>
<path d="M304.3 67.2L314.3 67.5L314.9 65.2L304.9 64.9Z" fill="#ff1500" stroke="#c71100"/>
<path d="M314.3 67.5L324.3 67.8L324.9 65.4L314.9 65.2Z" fill="#ff1500" stroke="#c71100"/>
<path d="M324.3 67.8L334.4 68.0L335.0 65.7L324.9 65.4Z" fill="#ff1500" stroke="#c71100"/>
<path d="M334.4 68.0L344.4 68.3L345.0 66.0L335.0 65.7Z" fill="#ff1500" stroke="#c71100"/>
<path d="M344.4 68.3L354.4 68.6L355.0 66.3L345.0 66.0Z" fill="#ff1500" stroke="#c71100"/>
<path d="M354.4 68.6L364.4 68.9L365.1 66.5L355.0 66.3Z" fill="#ff1500" stroke="#c71100"/>
<path d="M74.2 58.5L84.3 58.8L84.9 56.5L74.9 56.2Z" fill="#ff1500" stroke="#c71100"/>
<path d="M84.3 58.8L94.3 59.1L94.9 56.8L84.9 56.5Z" fill="#ff1500" stroke="#c71100"/>
<path d="M94.3 59.1L104.3 59.4L104.9 57.2L94.9 56.8Z" fill="#ff1500" stroke="#c71100"/>
<path d="M104.3 59.4L114.4 59.7L115.0 57.5L104.9 57.2Z" fill="#ff1500" stroke="#c71100"/>
<path d="M114.4 59.7L124.4 60.0L125.0 57.8L115.0 57.5Z" fill="#ff1500" stroke="#c71100"/>
<path d="M124.4 60.0L134.4 60.3L135.0 58.0L125.0 57.8Z" fill="#ff1500" stroke="#c71100"/>
<path d="M134.4 60.3L144.4 60.6L145.1 58.3L135.0 58.0Z" fill="#ff1500" stroke="#c71100"/>
<path d="M144.4 60.6L154.5 60.8L155.1 58.5L145.1 58.3Z" fill="#ff1500" stroke="#c71100"/>
<path d="M154.5 60.8L164.5 61.1L165.1 58.8L155.1 58.5Z" fill="#ff1500" stroke="#c71100"/>
<path d="M164.5 61.1L174.5 61.4L175.1 59.1L165.1 58.8Z" fill="#ff1500" stroke="#c71100"/>
<path d="M174.5 61.4L184.6 61.6L185.2 59.3L175.1 59.1Z" fill="#ff1500" stroke="#c71100"/>
<path d="M184.6 61.6L194.6 61.9L195.2 59.6L185.2 59.3Z" fill="#ff1500" stroke="#c71100"/>
<path d="M194.6 61.9L204.6 62.2L205.2 59.9L195.2 59.6Z" fill="#ff1500" stroke="#c71100"/>
<path d="M204.6 62.2L214.6 62.4L215.3 60.1L205.2 59.9Z" fill="#ff1500" stroke="#c71100"/>
<path d="M214.6 62.4L224.7 62.7L225.3 60.4L215.3 60.1Z" fill="#ff1500" stroke="#c71100"/>
<path d="M224.7 62.7L234.7 63.0L235.3 60.7L225.3 60.4Z" fill="#ff1500" stroke="#c71100"/>
<path d="M234.7 63.0L244.7 63.3L245.3 60.9L235.3 60.7Z" fill="#ff1500" stroke="#c71100"/>
<path d="M244.7 63.3L254.8 63.5L255.4 61.2L245.3 60.9Z" fill="#ff1500" stroke="#c71100"/>
<path d="M254.8 63.5L264.8 63.8L265.4 61.5L255.4 61.2Z" fill="#ff1500" stroke="#c71100"/>
<path d="M264.8 63.8L274.8 64.1L275.4 61.8L265.4 61.5Z" fill="#ff1500" stroke="#c71100"/>
<path d="M274.8 64.1L284.8 64.3L285.4 62.0L275.4 61.8Z" fill="#ff1500" stroke="#c71100"/>
<path d="M284.8 64.3L294.9 64.6L295.5 62.3L285.4 62.0Z" fill="#ff1500" stroke="#c71100"/>
<path d="M294.9 64.6L304.9 64.9L305.5 62.6L295.5 62.3Z" fill="#ff1500" stroke="#c71100"/>
<path d="M304.9 64.9L314.9 65.2L315.5 62.8L305.5 62.6Z" fill="#ff1500" stroke="#c71100"/>
<path d="M314.9 65.2L324.9 65.4L325.6 63.1L315.5 62.8Z" fill="#ff1500" stroke="#c71100"/>
<path d="M324.9 65.4L335.0 65.7L335.6 63.4L325.6 63.1Z" fill="#ff1500" stroke="#c71100"/>
<path d="M335.0 65.7L345.0 66.0L345.6 63.7L335.6 63.4Z" fill="#ff1500" stroke="#c71100"/>
<path d="M345.0 66.0L355.0 66.3L355.6 63.9L345.6 63.7Z" fill="#ff1500" stroke="#c71100"/>
<path d="M355.0 66.3L365.1 66.5L365.7 64.2L355.6 63.9Z" fill="#ff1500" stroke="#c71100"/>
<path d="M74.9 56.2L84.9 56.5L85.5 54.2L75.5 53.9Z" fill="#ff1500" stroke="#c71100"/>
<path d="M84.9 56.5L94.9 56.8L95.5 54.4L85.5 54.2Z" fill="#ff1500" stroke="#c71100"/>
<path d="M94.9 56.8L104.9 57.2L105.6 55.0L95.5 54.4Z" fill="#ff1500" stroke="#c71100"/>
<path d="M104.9 57.2L115.0 57.5L115.6 55.3L105.6 55.0Z" fill="#ff1600" stroke="#c71100"/>
<path d="M115.0 57.5L125.0 57.8L125.6 55.5L115.6 55.3Z" fill="#ff1600" stroke="#c71100"/>
<path d="M125.0 57.8L135.0 58.0L135.6 55.8L125.6 55.5Z" fill="#ff1600" stroke="#c71100"/>
<path d="M135.0 58.0L145.1 58.3L145.7 56.0L135.6 55.8Z" fill="#ff1600" stroke="#c71100"/>
<path d="M145.1 58.3L155.1 58.5L155.7 56.3L145.7 56.0Z" fill="#ff1600" stroke="#c71100"/>
<path d="M155.1 58.5L165.1 58.8L165.7 56.5L155.7 56.3Z" fill="#ff1600" stroke="#c71100"/>
<path d="M165.1 58.8L175.1 59.1L175.8 56.8L165.7 56.5Z" fill="#ff1500" stroke="#c71100"/>
<path d="M175.1 59.1L185.2 59.3L185.8 57.0L175.8 56.8Z" fill="#ff1500" stroke="#c71100"/>
<path d="M185.2 59.3L195.2 59.6L195.8 57.3L185.8 57.0Z" fill="#ff1500" stroke="#c71100"/>
<path d="M195.2 59.6L205.2 59.9L205.8 57.6L195.8 57.3Z" fill="#ff1500" stroke="#c71100"/>
<path d="M205.2 59.9L215.3 60.1L215.9 57.8L205.8 57.6Z" fill="#ff1500" stroke="#c71100"/>
<path d="M215.3 60.1L225.3 60.4L225.9 58.1L215.9 57.8Z" fill="#ff1500" stroke="#c71100"/>
<path d="M225.3 60.4L235.3 60.7L235.9 58.4L225.9 58.1Z" fill="#ff1500" stroke="#c71100"/>
<path d="M235.3 60.7L245.3 60.9L245.9 58.6L235.9 58.4Z" fill="#ff1500" stroke="#c71100"/>
<path d="M245.3 60.9L255.4 61.2L256.0 58.9L245.9 58.6Z" fill="#ff1500" stroke="#c71100"/>
<path d="M255.4 61.2L265.4 61.5L266.0 59.2L256.0 58.9Z" fill="#ff1500" stroke="#c71100"/>
<path d="M265.4 61.5L275.4 61.8L276.0 59.4L266.0 59.2Z" fill="#ff1500" stroke="#c71100"/>
<path d="M275.4 61.8L285.4 62.0L286.1 59.7L276.0 59.4Z" fill="#ff1500" stroke="#c71100"/>
<path d="M285.4 62.0L295.5 62.3L296.1 60.0L286.1 59.7Z" fill="#ff1500" stroke="#c71100"/>
<path d="M295.5 62.3L305.5 62.6L306.1 60.3L296.1 60.0Z" fill="#ff1500" stroke="#c71100"/>
<path d="M305.5 62.6L315.5 62.8L316.1 60.5L306.1 60.3Z" fill="#ff1500" stroke="#c71100"/>
<path d="M315.5 62.8L325.6 63.1L326.2 60.8L316.1 60.5Z" fill="#ff1500" stroke="#c71100"/>
<path d="M325.6 63.1L335.6 63.4L336.2 61.1L326.2 60.8Z" fill="#ff1500" stroke="#c71100"/>
<path d="M335.6 63.4L345.6 63.7L346.2 61.3L336.2 61.1Z" fill="#ff1500" stroke="#c71100"/>
<path d="M345.6 63.7L355.6 63.9L356.3 61.6L346.2 61.3Z" fill="#ff1500" stroke="#c71100"/>
<path d="M355.6 63.9L365.7 64.2L366.3 61.9L356.3 61.6Z" fill="#ff1500" stroke="#c71100"/>
<path d="M75.5 53.9L85.5 54.2L86.1 51.8L76.1 51.6Z" fill="#ff1500" stroke="#c71100"/>
<path d="M85.5 54.2L95.5 54.4L96.1 52.1L86.1 51.8Z" fill="#ff1500" stroke="#c71100"/>
<path d="M95.5 54.4L105.6 55.0L106.2 53.0L96.1 52.1Z" fill="#ff1600" stroke="#c71100"/>
<path d="M105.6 55.0L115.6 55.3L116.2 53.2L106.2 53.0Z" fill="#ff1600" stroke="#c71100"/>
<path d="M115.6 55.3L125.6 55.5L126.2 53.4L116.2 53.2Z" fill="#ff1600" stroke="#c71100"/>
<path d="M125.6 55.5L135.6 55.8L136.3 53.6L126.2 53.4Z" fill="#ff1600" stroke="#c71100"/>
<path d="M135.6 55.8L145.7 56.0L146.3 53.8L136.3 53.6Z" fill="#ff1600" stroke="#c71100"/>
<path d="M145.7 56.0L155.7 56.3L156.3 54.1L146.3 53.8Z" fill="#ff1600" stroke="#c71100"/>
<path d="M155.7 56.3L165.7 56.5L166.3 54.3L156.3 54.1Z" fill="#ff1600" stroke="#c71100"/>
<path d="M165.7 56.5L175.8 56.8L176.4 54.5L166.3 54.3Z" fill="#ff1600" stroke="#c71100"/>
<path d="M175.8 56.8L185.8 57.0L186.4 54.8L176.4 54.5Z" fill="#ff1600" stroke="#c71100"/>
<path d="M185.8 57.0L195.8 57.3L196.4 55.0L186.4 54.8Z" fill="#ff1600" stroke="#c71100"/>
<path d="M195.8 57.3L205.8 57.6L206.5 55.3L196.4 55.0Z" fill="#ff1500" stroke="#c71100"/>
<path d="M205.8 57.6L215.9 57.8L216.5 55.5L206.5 55.3Z" fill="#ff1500" stroke="#c71100"/>
<path d="M215.9 57.8L225.9 58.1L226.5 55.8L216.5 55.5Z" fill="#ff1500" stroke="#c71100"/>
<path d="M225.9 58.1L235.9 58.4L236.5 56.1L226.5 55.8Z" fill="#ff1500" stroke="#c71100"/>
<path d="M235.9 58.4L245.9 58.6L246.6 56.3L236.5 56.1Z" fill="#ff1500" stroke="#c71100"/>
<path d="M245.9 58.6L256.0 58.9L256.6 56.6L246.6 56.3Z" fill="#ff1500" stroke="#c71100"/>
<path d="M256.0 58.9L266.0 59.2L266.6 56.9L256.6 56.6Z" fill="#ff1500" stroke="#c71100"/>
<path d="M266.0 59.2L276.0 59.4L276.6 57.1L266.6 56.9Z" fill="#ff1500" stroke="#c71100"/>
<path d="M276.0 59.4L286.1 59.7L286.7 57.4L276.6 57.1Z" fill="#ff1500" stroke="#c71100"/>
<path d="M286.1 59.7L296.1 60.0L296.7 57.7L286.7 57.4Z" fill="#ff1500" stroke="#c71100"/>
<path d="M296.1 60.0L306.1 60.3L306.7 57.9L296.7 57.7Z" fill="#ff1500" stroke="#c71100"/>
<path d="M306.1 60.3L316.1 60.5L316.8 58.2L306.7 57.9Z" fill="#ff1500" stroke="#c71100"/>
<path d="M316.1 60.5L326.2 60.8L326.8 58.5L316.8 58.2Z" fill="#ff1500" stroke="#c71100"/>
<path d="M326.2 60.8L336.2 61.1L336.8 58.8L326.8 58.5Z" fill="#ff1500" stroke="#c71100"/>
<path d="M336.2 61.1L346.2 61.3L346.8 59.0L336.8 58.8Z" fill="#ff1500" stroke="#c71100"/>
<path d="M346.2 61.3L356.3 61.6L356.9 59.3L346.8 59.0Z" fill="#ff1500" stroke="#c71100"/>
<path d="M356.3 61.6L366.3 61.9L366.9 59.6L356.9 59.3Z" fill="#ff1500" stroke="#c71100"/>
<path d="M76.1 51.6L86.1 51.8L86.7 49.5L76.7 49.2Z" fill="#ff1500" stroke="#c71100"/>
<path d="M86.1 51.8L96.1 52.1L96.8 50.3L86.7 49.5Z" fill="#ff1500" stroke="#c71100"/>
<path d="M96.1 52.1L106.2 53.0L106.8 51.2L96.8 50.3Z" fill="#ff1700" stroke="#c71200"/>
<path d="M106.2 53.0L116.2 53.2L116.8 51.3L106.8 51.2Z" fill="#ff1700" stroke="#c71200"/>
<path d="M116.2 53.2L126.2 53.4L126.8 51.4L116.8 51.3Z" fill="#ff1700" stroke="#c71200"/>
<path d="M126.2 53.4L136.3 53.6L136.9 51.5L126.8 51.4Z" fill="#ff1700" stroke="#c71200"/>
<path d="M136.3 53.6L146.3 53.8L146.9 51.7L136.9 51.5Z" fill="#ff1600" stroke="#c71100"/>
<path d="M146.3 53.8L156.3 54.1L156.9 51.9L146.9 51.7Z" fill="#ff1600" stroke="#c71100"/>
<path d="M156.3 54.1L166.3 54.3L167.0 52.1L156.9 51.9Z" fill="#ff1600" stroke="#c71100"/>
<path d="M166.3 54.3L176.4 54.5L177.0 52.3L167.0 52.1Z" fill="#ff1600" stroke="#c71100"/>
<path d="M176.4 54.5L186.4 54.8L187.0 52.5L177.0 52.3Z" fill="#ff1600" stroke="#c71100"/>
<path d="M186.4 54.8L196.4 55.0L197.0 52.8L187.0 52.5Z" fill="#ff1600" stroke="#c71100"/>
<path d="M196.4 55.0L206.5 55.3L207.1 53.0L197.0 52.8Z" fill="#ff1600" stroke="#c71100"/>
<path d="M206.5 55.3L216.5 55.5L217.1 53.3L207.1 53.0Z" fill="#ff1600" stroke="#c71100"/>
<path d="M216.5 55.5L226.5 55.8L227.1 53.5L217.1 53.3Z" fill="#ff1500" stroke="#c71100"/>
<path d="M226.5 55.8L236.5 56.1L237.1 53.8L227.1 53.5Z" fill="#ff1500" stroke="#c71100"/>
<path d="M236.5 56.1L246.6 56.3L247.2 54.0L237.1 53.8Z" fill="#ff1500" stroke="#c71100"/>
<path d="M246.6 56.3L256.6 56.6L257.2 54.3L247.2 54.0Z" fill="#ff1500" stroke="#c71100"/>
<path d="M256.6 56.6L266.6 56.9L267.2 54.5L257.2 54.3Z" fill="#ff1500" stroke="#c71100"/>
<path d="M266.6 56.9L276.6 57.1L277.3 54.8L267.2 54.5Z" fill="#ff1500" stroke="#c71100"/>
<path d="M276.6 57.1L286.7 57.4L287.3 55.1L277.3 54.8Z" fill="#ff1500" stroke="#c71100"/>
<path d="M286.7 57.4L296.7 57.7L297.3 55.3L287.3 55.1Z" fill="#ff1500" stroke="#c71100"/>
<path d="M296.7 57.7L306.7 57.9L307.3 55.6L297.3 55.3Z" fill="#ff1500" stroke="#c71100"/>
<path d="M306.7 57.9L316.8 58.2L317.4 55.9L307.3 55.6Z" fill="#ff1500" stroke="#c71100"/>
<path d="M316.8 58.2L326.8 58.5L327.4 56.2L317.4 55.9Z" fill="#ff1500" stroke="#c71100"/>
<path d="M326.8 58.5L336.8 58.8L337.4 56.4L327.4 56.2Z" fill="#ff1500" stroke="#c71100"/>
<path d="M336.8 58.8L346.8 59.0L347.5 56.7L337.4 56.4Z" fill="#ff1500" stroke="#c71100"/>
<path d="M346.8 59.0L356.9 59.3L357.5 57.0L347.5 56.7Z" fill="#ff1500" stroke="#c71100"/>
<path d="M356.9 59.3L366.9 59.6L367.5 57.3L357.5 57.0Z" fill="#ff1500" stroke="#c71100"/>
<path d="M76.7 49.2L86.7 49.5L87.3 47.7L77.3 46.9Z" fill="#ff1500" stroke="#c71100"/>
<path d="M86.7 49.5L96.8 50.3L97.4 48.8L87.3 47.7Z" fill="#ff1700" stroke="#c71200"/>
<path d="M96.8 50.3L106.8 51.2L107.4 49.9L97.4 48.8Z" fill="#ff1800" stroke="#c71300" stroke-opacity="0.92"/>
<path d="M106.8 51.2L116.8 51.3L117.4 49.7L107.4 49.9Z" fill="#ff1900" stroke="#c71300" stroke-opacity="0.92"/>
<path d="M116.8 51.3L126.8 51.4L127.5 49.6L117.4 49.7Z" fill="#ff1800" stroke="#c71300"/>
<path d="M126.8 51.4L136.9 51.5L137.5 49.6L127.5 49.6Z" fill="#ff1700" stroke="#c71200"/>
<path d="M136.9 51.5L146.9 51.7L147.5 49.7L137.5 49.6Z" fill="#ff1700" stroke="#c71200"/>
<path d="M146.9 51.7L156.9 51.9L157.5 49.8L147.5 49.7Z" fill="#ff1700" stroke="#c71200"/>
<path d="M156.9 51.9L167.0 52.1L167.6 49.9L157.5 49.8Z" fill="#ff1600" stroke="#c71100"/>
<path d="M167.0 52.1L177.0 52.3L177.6 50.1L167.6 49.9Z" fill="#ff1600" stroke="#c71100"/>
<path d="M177.0 52.3L187.0 52.5L187.6 50.3L177.6 50.1Z" fill="#ff1600" stroke="#c71100"/>
<path d="M187.0 52.5L197.0 52.8L197.6 50.5L187.6 50.3Z" fill="#ff1600" stroke="#c71100"/>
<path d="M197.0 52.8L207.1 53.0L207.7 50.7L197.6 50.5Z" fill="#ff1600" stroke="#c71100"/>
<path d="M207.1 53.0L217.1 53.3L217.7 51.0L207.7 50.7Z" fill="#ff1600" stroke="#c71100"/>
<path d="M217.1 53.3L227.1 53.5L227.7 51.2L217.7 51.0Z" fill="#ff1600" stroke="#c71100"/>
<path d="M227.1 53.5L237.1 53.8L237.8 51.5L227.7 51.2Z" fill="#ff1600" stroke="#c71100"/>
<path d="M237.1 53.8L247.2 54.0L247.8 51.7L237.8 51.5Z" fill="#ff1500" stroke="#c71100"/>
<path d="M247.2 54.0L257.2 54.3L257.8 52.0L247.8 51.7Z" fill="#ff1500" stroke="#c71100"/>
<path d="M257.2 54.3L267.2 54.5L267.8 52.2L257.8 52.0Z" fill="#ff1500" stroke="#c71100"/>
<path d="M267.2 54.5L277.3 54.8L277.9 52.5L267.8 52.2Z" fill="#ff1500" stroke="#c71100"/>
<path d="M277.3 54.8L287.3 55.1L287.9 52.8L277.9 52.5Z" fill="#ff1500" stroke="#c71100"/>
<path d="M287.3 55.1L297.3 55.3L297.9 53.0L287.9 52.8Z" fill="#ff1500" stroke="#c71100"/>
<path d="M297.3 55.3L307.3 55.6L308.0 53.3L297.9 53.0Z" fill="#ff1500" stroke="#c71100"/>
<path d="M307.3 55.6L317.4 55.9L318.0 53.6L308.0 53.3Z" fill="#ff1500" stroke="#c71100"/>
<path d="M317.4 55.9L327.4 56.2L328.0 53.8L318.0 53.6Z" fill="#ff1500" stroke="#c71100"/>
<path d="M327.4 56.2L337.4 56.4L338.0 54.1L328.0 53.8Z" fill="#ff1500" stroke="#c71100"/>
<path d="M337.4 56.4L347.5 56.7L348.1 54.4L338.0 54.1Z" fill="#ff1500" stroke="#c71100"/>
<path d="M347.5 56.7L357.5 57.0L358.1 54.7L348.1 54.4Z" fill="#ff1500" stroke="#c71100"/>
<path d="M357.5 57.0L367.5 57.3L368.1 54.9L358.1 54.7Z" fill="#ff1500" stroke="#c71100"/>
<path d="M77.3 46.9L87.3 47.7L88.0 46.2L77.9 44.6Z" fill="#ff1600" stroke="#c71100"/>
<path d="M87.3 47.7L97.4 48.8L98.0 47.9L88.0 46.2Z" fill="#ff1900" stroke="#c71300" stroke-opacity="0.81"/>
<path d="M97.4 48.8L107.4 49.9L108.0 49.3L98.0 47.9Z" fill="#ff1b00" stroke="#c71500" stroke-opacity="0.50"/>
<path d="M107.4 49.9L117.4 49.7L118.0 48.6L108.0 49.3Z" fill="#ff1c00" stroke="#c71500" stroke-opacity="0.48"/>
<path d="M117.4 49.7L127.5 49.6L128.1 48.2L118.0 48.6Z" fill="#ff1a00" stroke="#c71400" stroke-opacity="0.78"/>
<path d="M127.5 49.6L137.5 49.6L138.1 47.9L128.1 48.2Z" fill="#ff1900" stroke="#c71300" stroke-opacity="0.99"/>
<path d="M137.5 49.6L147.5 49.7L148.1 47.8L138.1 47.9Z" fill="#ff1800" stroke="#c71300"/>
<path d="M147.5 49.7L157.5 49.8L158.1 47.8L148.1 47.8Z" fill="#ff1700" stroke="#c71200"/>
<path d="M157.5 49.8L167.6 49.9L168.2 47.8L158.1 47.8Z" fill="#ff1700" stroke="#c71200"/>
<path d="M167.6 49.9L177.6 50.1L178.2 48.0L168.2 47.8Z" fill="#ff1700" stroke="#c71200"/>
<path d="M177.6 50.1L187.6 50.3L188.2 48.1L178.2 48.0Z" fill="#ff1600" stroke="#c71100"/>
<path d="M187.6 50.3L197.6 50.5L198.3 48.3L188.2 48.1Z" fill="#ff1600" stroke="#c71100"/>
<path d="M197.6 50.5L207.7 50.7L208.3 48.5L198.3 48.3Z" fill="#ff1600" stroke="#c71100"/>
<path d="M207.7 50.7L217.7 51.0L218.3 48.7L208.3 48.5Z" fill="#ff1600" stroke="#c71100"/>
<path d="M217.7 51.0L227.7 51.2L228.3 49.0L218.3 48.7Z" fill="#ff1600" stroke="#c71100"/>
<path d="M227.7 51.2L237.8 51.5L238.4 49.2L228.3 49.0Z" fill="#ff1600" stroke="#c71100"/>
<path d="M237.8 51.5L247.8 51.7L248.4 49.4L238.4 49.2Z" fill="#ff1600" stroke="#c71100"/>
<path d="M247.8 51.7L257.8 52.0L258.4 49.7L248.4 49.4Z" fill="#ff1500" stroke="#c71100"/>
<path d="M257.8 52.0L267.8 52.2L268.5 49.9L258.4 49.7Z" fill="#ff1500" stroke="#c71100"/>
<path d="M267.8 52.2L277.9 52.5L278.5 50.2L268.5 49.9Z" fill="#ff1500" stroke="#c71100"/>
<path d="M277.9 52.5L287.9 52.8L288.5 50.5L278.5 50.2Z" fill="#ff1500" stroke="#c71100"/>
<path d="M287.9 52.8L297.9 53.0L298.5 50.7L288.5 50.5Z" fill="#ff1500" stroke="#c71100"/>
<path d="M297.9 53.0L308.0 53.3L308.6 51.0L298.5 50.7Z" fill="#ff1500" stroke="#c71100"/>
<path d="M308.0 53.3L318.0 53.6L318.6 51.3L308.6 51.0Z" fill="#ff1500" stroke="#c71100"/>
<path d="M318.0 53.6L328.0 53.8L328.6 51.5L318.6 51.3Z" fill="#ff1500" stroke="#c71100"/>
<path d="M328.0 53.8L338.0 54.1L338.7 51.8L328.6 51.5Z" fill="#ff1500" stroke="#c71100"/>
<path d="M338.0 54.1L348.1 54.4L348.7 52.1L338.7 51.8Z" fill="#ff1500" stroke="#c71100"/>
<path d="M348.1 54.4L358.1 54.7L358.7 52.3L348.7 52.1Z" fill="#ff1500" stroke="#c71100"/>
<path d="M358.1 54.7L368.1 54.9L368.7 52.6L358.7 52.3Z" fill="#ff1500" stroke="#c71100"/>
<path d="M77.9 44.6L88.0 46.2L88.6 46.7L78.5 42.3Z" fill="#ff1800" stroke="#c71300" stroke-opacity="0.64"/>
<path d="M88.0 46.2L98.0 47.9L98.6 50.1L88.6 46.7Z" fill="#ff1e00" stroke="#c71800" stroke-opacity="0.70"/>
<path d="M98.0 47.9L108.0 49.3L108.6 50.2L98.6 50.1Z" fill="#ff2200" stroke="#c71a00" stroke-opacity="0.93"/>
<path d="M108.0 49.3L118.0 48.6L118.6 48.4L108.6 50.2Z" fill="#ff2100" stroke="#c71900" stroke-opacity="0.30"/>
<path d="M118.0 48.6L128.1 48.2L128.7 47.2L118.6 48.4Z" fill="#ff1d00" stroke="#c71700" stroke-opacity="0.32"/>
<path d="M128.1 48.2L138.1 47.9L138.7 46.5L128.7 47.2Z" fill="#ff1b00" stroke="#c71500" stroke-opacity="0.70"/>
<path d="M138.1 47.9L148.1 47.8L148.7 46.1L138.7 46.5Z" fill="#ff1a00" stroke="#c71400" stroke-opacity="0.94"/>
<path d="M148.1 47.8L158.1 47.8L158.8 45.9L148.7 46.1Z" fill="#ff1800" stroke="#c71300"/>
<path d="M158.1 47.8L168.2 47.8L168.8 45.8L158.8 45.9Z" fill="#ff1800" stroke="#c71200"/>
<path d="M168.2 47.8L178.2 48.0L178.8 45.9L168.8 45.8Z" fill="#ff1700" stroke="#c71200"/>
<path d="M178.2 48.0L188.2 48.1L188.8 46.0L178.8 45.9Z" fill="#ff1700" stroke="#c71200"/>
<path d="M188.2 48.1L198.3 48.3L198.9 46.1L188.8 46.0Z" fill="#ff1600" stroke="#c71200"/>
<path d="M198.3 48.3L208.3 48.5L208.9 46.3L198.9 46.1Z" fill="#ff1600" stroke="#c71100"/>
<path d="M208.3 48.5L218.3 48.7L218.9 46.5L208.9 46.3Z" fill="#ff1600" stroke="#c71100"/>
<path d="M218.3 48.7L228.3 49.0L229.0 46.7L218.9 46.5Z" fill="#ff1600" stroke="#c71100"/>
<path d="M228.3 49.0L238.4 49.2L239.0 46.9L229.0 46.7Z" fill="#ff1600" stroke="#c71100"/>
<path d="M238.4 49.2L248.4 49.4L249.0 47.1L239.0 46.9Z" fill="#ff1600" stroke="#c71100"/>
<path d="M248.4 49.4L258.4 49.7L259.0 47.4L249.0 47.1Z" fill="#ff1600" stroke="#c71100"/>
<path d="M258.4 49.7L268.5 49.9L269.1 47.6L259.0 47.4Z" fill="#ff1600" stroke="#c71100"/>
<path d="M268.5 49.9L278.5 50.2L279.1 47.9L269.1 47.6Z" fill="#ff1500" stroke="#c71100"/>
<path d="M278.5 50.2L288.5 50.5L289.1 48.2L279.1 47.9Z" fill="#ff1500" stroke="#c71100"/>
<path d="M288.5 50.5L298.5 50.7L299.2 48.4L289.1 48.2Z" fill="#ff1500" stroke="#c71100"/>
<path d="M298.5 50.7L308.6 51.0L309.2 48.7L299.2 48.4Z" fill="#ff1500" stroke="#c71100"/>
<path d="M308.6 51.0L318.6 51.3L319.2 48.9L309.2 48.7Z" fill="#ff1500" stroke="#c71100"/>
<path d="M318.6 51.3L328.6 51.5L329.2 49.2L319.2 48.9Z" fill="#ff1500" stroke="#c71100"/>
<path d="M328.6 51.5L338.7 51.8L339.3 49.5L329.2 49.2Z" fill="#ff1500" stroke="#c71100"/>
<path d="M338.7 51.8L348.7 52.1L349.3 49.8L339.3 49.5Z" fill="#ff1500" stroke="#c71100"/>
<path d="M348.7 52.1L358.7 52.3L359.3 50.0L349.3 49.8Z" fill="#ff1500" stroke="#c71100"/>
<path d="M358.7 52.3L368.7 52.6L369.3 50.3L359.3 50.0Z" fill="#ff1500" stroke="#c71100"/>
<path d="M78.5 42.3L88.6 46.7L89.2 54.1L79.2 32.5Z" fill="#ff1c00" stroke="#c71500" stroke-opacity="0.51"/>
<path d="M88.6 46.7L98.6 50.1L99.2 60.5L89.2 54.1Z" fill="#ff3000" stroke="#c72600"/>
<path d="M98.6 50.1L108.6 50.2L109.2 53.5L99.2 60.5Z" fill="#ff3100" stroke="#c72600"/>
<path d="M108.6 50.2L118.6 48.4L119.3 49.6L109.2 53.5Z" fill="#ff2900" stroke="#c72000"/>
<path d="M118.6 48.4L128.7 47.2L129.3 47.1L119.3 49.6Z" fill="#ff2300" stroke="#c71b00" stroke-opacity="0.38"/>
<path d="M128.7 47.2L138.7 46.5L139.3 45.6L129.3 47.1Z" fill="#ff1f00" stroke="#c71800" stroke-opacity="0.30"/>
<path d="M138.7 46.5L148.7 46.1L149.3 44.7L139.3 45.6Z" fill="#ff1c00" stroke="#c71600" stroke-opacity="0.67"/>
<path d="M148.7 46.1L158.8 45.9L159.4 44.3L149.3 44.7Z" fill="#ff1a00" stroke="#c71400" stroke-opacity="0.92"/>
<path d="M158.8 45.9L168.8 45.8L169.4 44.0L159.4 44.3Z" fill="#ff1900" stroke="#c71300"/>
<path d="M168.8 45.8L178.8 45.9L179.4 43.9L169.4 44.0Z" fill="#ff1800" stroke="#c71300"/>
<path d="M178.8 45.9L188.8 46.0L189.5 43.9L179.4 43.9Z" fill="#ff1700" stroke="#c71200"/>
<path d="M188.8 46.0L198.9 46.1L199.5 44.0L189.5 43.9Z" fill="#ff1700" stroke="#c71200"/>
<path d="M198.9 46.1L208.9 46.3L209.5 44.1L199.5 44.0Z" fill="#ff1700" stroke="#c71200"/>
<path d="M208.9 46.3L218.9 46.5L219.5 44.3L209.5 44.1Z" fill="#ff1600" stroke="#c71100"/>
<path d="M218.9 46.5L229.0 46.7L229.6 44.5L219.5 44.3Z" fill="#ff1600" stroke="#c71100"/>
<path d="M229.0 46.7L239.0 46.9L239.6 44.7L229.6 44.5Z" fill="#ff1600" stroke="#c71100"/>
<path d="M239.0 46.9L249.0 47.1L249.6 44.9L239.6 44.7Z" fill="#ff1600" stroke="#c71100"/>
<path d="M249.0 47.1L259.0 47.4L259.7 45.1L249.6 44.9Z" fill="#ff1600" stroke="#c71100"/>
<path d="M259.0 47.4L269.1 47.6L269.7 45.3L259.7 45.1Z" fill="#ff1600" stroke="#c71100"/>
<path d="M269.1 47.6L279.1 47.9L279.7 45.6L269.7 45.3Z" fill="#ff1600" stroke="#c71100"/>
<path d="M279.1 47.9L289.1 48.2L289.7 45.8L279.7 45.6Z" fill="#ff1500" stroke="#c71100"/>
<path d="M289.1 48.2L299.2 48.4L299.8 46.1L289.7 45.8Z" fill="#ff1500" stroke="#c71100"/>
<path d="M299.2 48.4L309.2 48.7L309.8 46.4L299.8 46.1Z" fill="#ff1500" stroke="#c71100"/>
<path d="M309.2 48.7L319.2 48.9L319.8 46.6L309.8 46.4Z" fill="#ff1500" stroke="#c71100"/>
<path d="M319.2 48.9L329.2 49.2L329.8 46.9L319.8 46.6Z" fill="#ff1500" stroke="#c71100"/>
<path d="M329.2 49.2L339.3 49.5L339.9 47.2L329.8 46.9Z" fill="#ff1500" stroke="#c71100"/>
<path d="M339.3 49.5L349.3 49.8L349.9 47.4L339.9 47.2Z" fill="#ff1500" stroke="#c71100"/>
<path d="M349.3 49.8L359.3 50.0L359.9 47.7L349.9 47.4Z" fill="#ff1500" stroke="#c71100"/>
<path d="M359.3 50.0L369.3 50.3L370.0 48.0L359.9 47.7Z" fill="#ff1500" stroke="#c71100"/>
<path d="M79.2 32.5L89.2 54.1L89.8 111.6L79.8 136.2Z" fill="#ff7f00" stroke="#c76300"/>
<path d="M89.2 54.1L99.2 60.5L99.8 91.6L89.8 111.6Z" fill="#ff7500" stroke="#c75b00"/>
<path d="M99.2 60.5L109.2 53.5L109.8 60.0L99.8 91.6Z" fill="#ff5500" stroke="#c74200"/>
<path d="M109.2 53.5L119.3 49.6L119.9 52.7L109.8 60.0Z" fill="#ff3700" stroke="#c72b00"/>
<path d="M119.3 49.6L129.3 47.1L129.9 48.2L119.9 52.7Z" fill="#ff2b00" stroke="#c72200"/>
<path d="M129.3 47.1L139.3 45.6L139.9 45.5L129.9 48.2Z" fill="#ff2400" stroke="#c71c00" stroke-opacity="0.34"/>
<path d="M139.3 45.6L149.3 44.7L150.0 43.8L139.9 45.5Z" fill="#ff2000" stroke="#c71900" stroke-opacity="0.30"/>
<path d="M149.3 44.7L159.4 44.3L160.0 42.9L150.0 43.8Z" fill="#ff1d00" stroke="#c71600" stroke-opacity="0.68"/>
<path d="M159.4 44.3L169.4 44.0L170.0 42.3L160.0 42.9Z" fill="#ff1b00" stroke="#c71500" stroke-opacity="0.93"/>
<path d="M169.4 44.0L179.4 43.9L180.0 42.1L170.0 42.3Z" fill="#ff1900" stroke="#c71400"/>
<path d="M179.4 43.9L189.5 43.9L190.1 41.9L180.0 42.1Z" fill="#ff1800" stroke="#c71300"/>
<path d="M189.5 43.9L199.5 44.0L200.1 41.9L190.1 41.9Z" fill="#ff1800" stroke="#c71200"/>
<path d="M199.5 44.0L209.5 44.1L210.1 42.0L200.1 41.9Z" fill="#ff1700" stroke="#c71200"/>
<path d="M209.5 44.1L219.5 44.3L220.2 42.1L210.1 42.0Z" fill="#ff1700" stroke="#c71200"/>
<path d="M219.5 44.3L229.6 44.5L230.2 42.2L220.2 42.1Z" fill="#ff1600" stroke="#c71100"/>
<path d="M229.6 44.5L239.6 44.7L240.2 42.4L230.2 42.2Z" fill="#ff1600" stroke="#c71100"/>
<path d="M239.6 44.7L249.6 44.9L250.2 42.6L240.2 42.4Z" fill="#ff1600" stroke="#c71100"/>
<path d="M249.6 44.9L259.7 45.1L260.3 42.8L250.2 42.6Z" fill="#ff1600" stroke="#c71100"/>
<path d="M259.7 45.1L269.7 45.3L270.3 43.1L260.3 42.8Z" fill="#ff1600" stroke="#c71100"/>
<path d="M269.7 45.3L279.7 45.6L280.3 43.3L270.3 43.1Z" fill="#ff1600" stroke="#c71100"/>
<path d="M279.7 45.6L289.7 45.8L290.3 43.5L280.3 43.3Z" fill="#ff1600" stroke="#c71100"/>
<path d="M289.7 45.8L299.8 46.1L300.4 43.8L290.3 43.5Z" fill="#ff1500" stroke="#c71100"/>
<path d="M299.8 46.1L309.8 46.4L310.4 44.1L300.4 43.8Z" fill="#ff1500" stroke="#c71100"/>
<path d="M309.8 46.4L319.8 46.6L320.4 44.3L310.4 44.1Z" fill="#ff1500" stroke="#c71100"/>
<path d="M319.8 46.6L329.8 46.9L330.5 44.6L320.4 44.3Z" fill="#ff1500" stroke="#c71100"/>
<path d="M329.8 46.9L339.9 47.2L340.5 44.9L330.5 44.6Z" fill="#ff1500" stroke="#c71100"/>
<path d="M339.9 47.2L349.9 47.4L350.5 45.1L340.5 44.9Z" fill="#ff1500" stroke="#c71100"/>
<path d="M349.9 47.4L359.9 47.7L360.5 45.4L350.5 45.1Z" fill="#ff1500" stroke="#c71100"/>
<path d="M359.9 47.7L370.0 48.0L370.6 45.7L360.5 45.4Z" fill="#ff1500" stroke="#c71100"/>
<path d="M79.8 136.2L89.8 111.6L90.4 145.5L80.4 179.1Z" fill="#d8d827" stroke="#a9a91e"/>
<path d="M89.8 111.6L99.8 91.6L100.4 130.4L90.4 145.5Z" fill="#ffda00" stroke="#c7aa00"/>
<path d="M99.8 91.6L109.8 60.0L110.5 70.4L100.4 130.4Z" fill="#ff8e00" stroke="#c76f00"/>
<path d="M109.8 60.0L119.9 52.7L120.5 58.2L110.5 70.4Z" fill="#ff4c00" stroke="#c73b00"/>
<path d="M119.9 52.7L129.9 48.2L130.5 50.7L120.5 58.2Z" fill="#ff3800" stroke="#c72c00"/>
<path d="M129.9 48.2L139.9 45.5L140.5 46.2L130.5 50.7Z" fill="#ff2c00" stroke="#c72200"/>
<path d="M139.9 45.5L150.0 43.8L150.6 43.5L140.5 46.2Z" fill="#ff2500" stroke="#c71d00" stroke-opacity="0.30"/>
<path d="M150.0 43.8L160.0 42.9L160.6 41.9L150.6 43.5Z" fill="#ff2000" stroke="#c71900" stroke-opacity="0.36"/>
<path d="M160.0 42.9L170.0 42.3L170.6 40.9L160.6 41.9Z" fill="#ff1d00" stroke="#c71600" stroke-opacity="0.72"/>
<path d="M170.0 42.3L180.0 42.1L180.7 40.4L170.6 40.9Z" fill="#ff1b00" stroke="#c71500" stroke-opacity="0.95"/>
<path d="M180.0 42.1L190.1 41.9L190.7 40.1L180.7 40.4Z" fill="#ff1900" stroke="#c71400"/>
<path d="M190.1 41.9L200.1 41.9L200.7 39.9L190.7 40.1Z" fill="#ff1800" stroke="#c71300"/>
<path d="M200.1 41.9L210.1 42.0L210.7 39.9L200.7 39.9Z" fill="#ff1800" stroke="#c71200"/>
<path d="M210.1 42.0L220.2 42.1L220.8 40.0L210.7 39.9Z" fill="#ff1700" stroke="#c71200"/>
<path d="M220.2 42.1L230.2 42.2L230.8 40.1L220.8 40.0Z" fill="#ff1700" stroke="#c71200"/>
<path d="M230.2 42.2L240.2 42.4L240.8 40.2L230.8 40.1Z" fill="#ff1600" stroke="#c71100"/>
<path d="M240.2 42.4L250.2 42.6L250.8 40.4L240.8 40.2Z" fill="#ff1600" stroke="#c71100"/>
<path d="M250.2 42.6L260.3 42.8L260.9 40.6L250.8 40.4Z" fill="#ff1600" stroke="#c71100"/>
<path d="M260.3 42.8L270.3 43.1L270.9 40.8L260.9 40.6Z" fill="#ff1600" stroke="#c71100"/>
<path d="M270.3 43.1L280.3 43.3L280.9 41.0L270.9 40.8Z" fill="#ff1600" stroke="#c71100"/>
<path d="M280.3 43.3L290.3 43.5L291.0 41.3L280.9 41.0Z" fill="#ff1600" stroke="#c71100"/>
<path d="M290.3 43.5L300.4 43.8L301.0 41.5L291.0 41.3Z" fill="#ff1600" stroke="#c71100"/>
<path d="M300.4 43.8L310.4 44.1L311.0 41.8L301.0 41.5Z" fill="#ff1500" stroke="#c71100"/>
<path d="M310.4 44.1L320.4 44.3L321.0 42.0L311.0 41.8Z" fill="#ff1500" stroke="#c71100"/>
<path d="M320.4 44.3L330.5 44.6L331.1 42.3L321.0 42.0Z" fill="#ff1500" stroke="#c71100"/>
<path d="M330.5 44.6L340.5 44.9L341.1 42.5L331.1 42.3Z" fill="#ff1500" stroke="#c71100"/>
<path d="M340.5 44.9L350.5 45.1L351.1 42.8L341.1 42.5Z" fill="#ff1500" stroke="#c71100"/>
<path d="M350.5 45.1L360.5 45.4L361.2 43.1L351.1 42.8Z" fill="#ff1500" stroke="#c71100"/>
<path d="M360.5 45.4L370.6 45.7L371.2 43.4L361.2 43.1Z" fill="#ff1500" stroke="#c71100"/>
<path d="M80.4 179.1L90.4 145.5L91.0 162.7L81.0 177.5Z" fill="#60609f" stroke="#4b4b7c"/>
<path d="M90.4 145.5L100.4 130.4L101.0 143.1L91.0 162.7Z" fill="#c4c43b" stroke="#99992e"/>
<path d="M100.4 130.4L110.5 70.4L111.1 83.7L101.0 143.1Z" fill="#ffc000" stroke="#c79600"/>
<path d="M110.5 70.4L120.5 58.2L121.1 66.2L111.1 83.7Z" fill="#ff6700" stroke="#c75100"/>
<path d="M120.5 58.2L130.5 50.7L131.1 54.9L121.1 66.2Z" fill="#ff4a00" stroke="#c73a00"/>
<path d="M130.5 50.7L140.5 46.2L141.2 48.0L131.1 54.9Z" fill="#ff3700" stroke="#c72b00"/>
<path d="M140.5 46.2L150.6 43.5L151.2 43.9L141.2 48.0Z" fill="#ff2c00" stroke="#c72200" stroke-opacity="0.76"/>
<path d="M150.6 43.5L160.6 41.9L161.2 41.4L151.2 43.9Z" fill="#ff2500" stroke="#c71c00" stroke-opacity="0.30"/>
<path d="M160.6 41.9L170.6 40.9L171.2 39.8L161.2 41.4Z" fill="#ff2000" stroke="#c71900" stroke-opacity="0.46"/>
<path d="M170.6 40.9L180.7 40.4L181.3 38.9L171.2 39.8Z" fill="#ff1d00" stroke="#c71700" stroke-opacity="0.78"/>
<path d="M180.7 40.4L190.7 40.1L191.3 38.4L181.3 38.9Z" fill="#ff1b00" stroke="#c71500" stroke-opacity="0.98"/>
<path d="M190.7 40.1L200.7 39.9L201.3 38.1L191.3 38.4Z" fill="#ff1900" stroke="#c71400"/>
<path d="M200.7 39.9L210.7 39.9L211.4 37.9L201.3 38.1Z" fill="#ff1800" stroke="#c71300"/>
<path d="M210.7 39.9L220.8 40.0L221.4 37.9L211.4 37.9Z" fill="#ff1800" stroke="#c71200"/>
<path d="M220.8 40.0L230.8 40.1L231.4 37.9L221.4 37.9Z" fill="#ff1700" stroke="#c71200"/>
<path d="M230.8 40.1L240.8 40.2L241.4 38.0L231.4 37.9Z" fill="#ff1700" stroke="#c71200"/>
<path d="M240.8 40.2L250.8 40.4L251.5 38.1L241.4 38.0Z" fill="#ff1600" stroke="#c71100"/>
<path d="M250.8 40.4L260.9 40.6L261.5 38.3L251.5 38.1Z" fill="#ff1600" stroke="#c71100"/>
<path d="M260.9 40.6L270.9 40.8L271.5 38.5L261.5 38.3Z" fill="#ff1600" stroke="#c71100"/>
<path d="M270.9 40.8L280.9 41.0L281.5 38.7L271.5 38.5Z" fill="#ff1600" stroke="#c71100"/>
<path d="M280.9 41.0L291.0 41.3L291.6 39.0L281.5 38.7Z" fill="#ff1600" stroke="#c71100"/>
<path d="M291.0 41.3L301.0 41.5L301.6 39.2L291.6 39.0Z" fill="#ff1600" stroke="#c71100"/>
<path d="M301.0 41.5L311.0 41.8L311.6 39.5L301.6 39.2Z" fill="#ff1600" stroke="#c71100"/>
<path d="M311.0 41.8L321.0 42.0L321.7 39.7L311.6 39.5Z" fill="#ff1600" stroke="#c71100"/>
<path d="M321.0 42.0L331.1 42.3L331.7 40.0L321.7 39.7Z" fill="#ff1500" stroke="#c71100"/>
<path d="M331.1 42.3L341.1 42.5L341.7 40.2L331.7 40.0Z" fill="#ff1500" stroke="#c71100"/>
<path d="M341.1 42.5L351.1 42.8L351.7 40.5L341.7 40.2Z" fill="#ff1500" stroke="#c71100"/>
<path d="M351.1 42.8L361.2 43.1L361.8 40.8L351.7 40.5Z" fill="#ff1500" stroke="#c71100"/>
<path d="M361.2 43.1L371.2 43.4L371.8 41.0L361.8 40.8Z" fill="#ff1500" stroke="#c71100"/>
<path d="M81.0 177.5L91.0 162.7L91.6 168.0L81.6 175.8Z" fill="#3e3ec1" stroke="#303097" stroke-opacity="0.89"/>
<path d="M91.0 162.7L101.0 143.1L101.7 149.0L91.6 168.0Z" fill="#888877" stroke="#6a6a5d"/>
<path d="M101.0 143.1L111.1 83.7L111.7 97.2L101.7 149.0Z" fill="#ffe100" stroke="#c7af00"/>
<path d="M111.1 83.7L121.1 66.2L121.7 75.4L111.7 97.2Z" fill="#ff8700" stroke="#c76900"/>
<path d="M121.1 66.2L131.1 54.9L131.7 60.5L121.7 75.4Z" fill="#ff5f00" stroke="#c74a00"/>
<path d="M131.1 54.9L141.2 48.0L141.8 50.9L131.7 60.5Z" fill="#ff4500" stroke="#c73600"/>
<path d="M141.2 48.0L151.2 43.9L151.8 45.0L141.8 50.9Z" fill="#ff3500" stroke="#c72900"/>
<path d="M151.2 43.9L161.2 41.4L161.8 41.3L151.8 45.0Z" fill="#ff2b00" stroke="#c72100" stroke-opacity="0.43"/>
<path d="M161.2 41.4L171.2 39.8L171.9 39.1L161.8 41.3Z" fill="#ff2400" stroke="#c71c00" stroke-opacity="0.30"/>
<path d="M171.2 39.8L181.3 38.9L181.9 37.7L171.9 39.1Z" fill="#ff2000" stroke="#c71900" stroke-opacity="0.57"/>
<path d="M181.3 38.9L191.3 38.4L191.9 36.8L181.9 37.7Z" fill="#ff1d00" stroke="#c71700" stroke-opacity="0.84"/>
<path d="M191.3 38.4L201.3 38.1L201.9 36.3L191.9 36.8Z" fill="#ff1b00" stroke="#c71500"/>
<path d="M201.3 38.1L211.4 37.9L212.0 36.0L201.9 36.3Z" fill="#ff1900" stroke="#c71400"/>
<path d="M211.4 37.9L221.4 37.9L222.0 35.8L212.0 36.0Z" fill="#ff1800" stroke="#c71300"/>
<path d="M221.4 37.9L231.4 37.9L232.0 35.8L222.0 35.8Z" fill="#ff1800" stroke="#c71200"/>
<path d="M231.4 37.9L241.4 38.0L242.0 35.8L232.0 35.8Z" fill="#ff1700" stroke="#c71200"/>
<path d="M241.4 38.0L251.5 38.1L252.1 35.9L242.0 35.8Z" fill="#ff1700" stroke="#c71200"/>
<path d="M251.5 38.1L261.5 38.3L262.1 36.1L252.1 35.9Z" fill="#ff1600" stroke="#c71100"/>
<path d="M261.5 38.3L271.5 38.5L272.1 36.3L262.1 36.1Z" fill="#ff1600" stroke="#c71100"/>
<path d="M271.5 38.5L281.5 38.7L282.2 36.5L272.1 36.3Z" fill="#ff1600" stroke="#c71100"/>
<path d="M281.5 38.7L291.6 39.0L292.2 36.7L282.2 36.5Z" fill="#ff1600" stroke="#c71100"/>
<path d="M291.6 39.0L301.6 39.2L302.2 36.9L292.2 36.7Z" fill="#ff1600" stroke="#c71100"/>
<path d="M301.6 39.2L311.6 39.5L312.2 37.2L302.2 36.9Z" fill="#ff1600" stroke="#c71100"/>
<path d="M311.6 39.5L321.7 39.7L322.3 37.4L312.2 37.2Z" fill="#ff1600" stroke="#c71100"/>
<path d="M321.7 39.7L331.7 40.0L332.3 37.7L322.3 37.4Z" fill="#ff1600" stroke="#c71100"/>
<path d="M331.7 40.0L341.7 40.2L342.3 37.9L332.3 37.7Z" fill="#ff1500" stroke="#c71100"/>
<path d="M341.7 40.2L351.7 40.5L352.4 38.2L342.3 37.9Z" fill="#ff1500" stroke="#c71100"/>
<path d="M351.7 40.5L361.8 40.8L362.4 38.5L352.4 38.2Z" fill="#ff1500" stroke="#c71100"/>
<path d="M361.8 40.8L371.8 41.0L372.4 38.7L362.4 38.5Z" fill="#ff1500" stroke="#c71100"/>
<path d="M81.6 175.8L91.6 168.0L92.2 167.8L82.2 174.2Z" fill="#3131ce" stroke="#2626a1" stroke-opacity="0.30"/>
<path d="M91.6 168.0L101.7 149.0L102.3 150.1L92.2 167.8Z" fill="#6e6e91" stroke="#565671" stroke-opacity="0.45"/>
<path d="M101.7 149.0L111.7 97.2L112.3 108.0L102.3 150.1Z" fill="#fff900" stroke="#c7c200"/>
<path d="M111.7 97.2L121.7 75.4L122.3 84.3L112.3 108.0Z" fill="#ffa600" stroke="#c78100"/>
<path d="M121.7 75.4L131.7 60.5L132.4 66.6L122.3 84.3Z" fill="#ff7700" stroke="#c75c00"/>
<path d="M131.7 60.5L141.8 50.9L142.4 54.6L132.4 66.6Z" fill="#ff5600" stroke="#c74300"/>
<path d="M141.8 50.9L151.8 45.0L152.4 46.8L142.4 54.6Z" fill="#ff4000" stroke="#c73200"/>
<path d="M151.8 45.0L161.8 41.3L162.4 41.8L152.4 46.8Z" fill="#ff3200" stroke="#c72700" stroke-opacity="0.77"/>
<path d="M161.8 41.3L171.9 39.1L172.5 38.7L162.4 41.8Z" fill="#ff2900" stroke="#c72000" stroke-opacity="0.30"/>
<path d="M171.9 39.1L181.9 37.7L182.5 36.7L172.5 38.7Z" fill="#ff2300" stroke="#c71b00" stroke-opacity="0.36"/>
<path d="M181.9 37.7L191.9 36.8L192.5 35.4L182.5 36.7Z" fill="#ff1f00" stroke="#c71800" stroke-opacity="0.69"/>
<path d="M191.9 36.8L201.9 36.3L202.5 34.6L192.5 35.4Z" fill="#ff1d00" stroke="#c71600" stroke-opacity="0.92"/>
<path d="M201.9 36.3L212.0 36.0L212.6 34.1L202.5 34.6Z" fill="#ff1b00" stroke="#c71500"/>
<path d="M212.0 36.0L222.0 35.8L222.6 33.8L212.6 34.1Z" fill="#ff1900" stroke="#c71400"/>
<path d="M222.0 35.8L232.0 35.8L232.6 33.7L222.6 33.8Z" fill="#ff1800" stroke="#c71300"/>
<path d="M232.0 35.8L242.0 35.8L242.7 33.7L232.6 33.7Z" fill="#ff1800" stroke="#c71200"/>
<path d="M242.0 35.8L252.1 35.9L252.7 33.7L242.7 33.7Z" fill="#ff1700" stroke="#c71200"/>
<path d="M252.1 35.9L262.1 36.1L262.7 33.8L252.7 33.7Z" fill="#ff1700" stroke="#c71200"/>
<path d="M262.1 36.1L272.1 36.3L272.7 34.0L262.7 33.8Z" fill="#ff1600" stroke="#c71100"/>
<path d="M272.1 36.3L282.2 36.5L282.8 34.2L272.7 34.0Z" fill="#ff1600" stroke="#c71100"/>
<path d="M282.2 36.5L292.2 36.7L292.8 34.4L282.8 34.2Z" fill="#ff1600" stroke="#c71100"/>
<path d="M292.2 36.7L302.2 36.9L302.8 34.6L292.8 34.4Z" fill="#ff1600" stroke="#c71100"/>
<path d="M302.2 36.9L312.2 37.2L312.9 34.9L302.8 34.6Z" fill="#ff1600" stroke="#c71100"/>
<path d="M312.2 37.2L322.3 37.4L322.9 35.1L312.9 34.9Z" fill="#ff1600" stroke="#c71100"/>
<path d="M322.3 37.4L332.3 37.7L332.9 35.4L322.9 35.1Z" fill="#ff1600" stroke="#c71100"/>
<path d="M332.3 37.7L342.3 37.9L342.9 35.6L332.9 35.4Z" fill="#ff1600" stroke="#c71100"/>
<path d="M342.3 37.9L352.4 38.2L353.0 35.9L342.9 35.6Z" fill="#ff1500" stroke="#c71100"/>
<path d="M352.4 38.2L362.4 38.5L363.0 36.2L353.0 35.9Z" fill="#ff1500" stroke="#c71100"/>
<path d="M362.4 38.5L372.4 38.7L373.0 36.4L363.0 36.2Z" fill="#ff1500" stroke="#c71100"/>
<path d="M82.2 174.2L92.2 167.8L92.9 165.4L82.8 172.6Z" fill="#2c2cd3" stroke="#2323a4" stroke-opacity="0.80"/>
<path d="M92.2 167.8L102.3 150.1L102.9 150.3L92.9 165.4Z" fill="#65659a" stroke="#4f4f78" stroke-opacity="0.30"/>
<path d="M102.3 150.1L112.3 108.0L112.9 114.8L102.9 150.3Z" fill="#e9e916" stroke="#b6b611" stroke-opacity="0.85"/>
<path d="M112.3 108.0L122.3 84.3L122.9 91.1L112.9 114.8Z" fill="#ffbf00" stroke="#c79500"/>
<path d="M122.3 84.3L132.4 66.6L133.0 72.1L122.9 91.1Z" fill="#ff8c00" stroke="#c76d00"/>
<path d="M132.4 66.6L142.4 54.6L143.0 58.3L133.0 72.1Z" fill="#ff6600" stroke="#c75000"/>
<path d="M142.4 54.6L152.4 46.8L153.0 48.9L143.0 58.3Z" fill="#ff4c00" stroke="#c73b00"/>
<path d="M152.4 46.8L162.4 41.8L163.0 42.7L153.0 48.9Z" fill="#ff3b00" stroke="#c72e00" stroke-opacity="0.97"/>
<path d="M162.4 41.8L172.5 38.7L173.1 38.6L163.0 42.7Z" fill="#ff2f00" stroke="#c72500" stroke-opacity="0.35"/>
<path d="M172.5 38.7L182.5 36.7L183.1 36.0L173.1 38.6Z" fill="#ff2700" stroke="#c71f00" stroke-opacity="0.30"/>
<path d="M182.5 36.7L192.5 35.4L193.1 34.2L183.1 36.0Z" fill="#ff2200" stroke="#c71b00" stroke-opacity="0.54"/>
<path d="M192.5 35.4L202.5 34.6L203.2 33.1L193.1 34.2Z" fill="#ff1f00" stroke="#c71800" stroke-opacity="0.81"/>
<path d="M202.5 34.6L212.6 34.1L213.2 32.4L203.2 33.1Z" fill="#ff1c00" stroke="#c71600"/>
<path d="M212.6 34.1L222.6 33.8L223.2 31.9L213.2 32.4Z" fill="#ff1a00" stroke="#c71500"/>
<path d="M222.6 33.8L232.6 33.7L233.2 31.7L223.2 31.9Z" fill="#ff1900" stroke="#c71400"/>
<path d="M232.6 33.7L242.7 33.7L243.3 31.5L233.2 31.7Z" fill="#ff1800" stroke="#c71300"/>
<path d="M242.7 33.7L252.7 33.7L253.3 31.6L243.3 31.5Z" fill="#ff1700" stroke="#c71200"/>
<path d="M252.7 33.7L262.7 33.8L263.3 31.6L253.3 31.6Z" fill="#ff1700" stroke="#c71200"/>
<path d="M262.7 33.8L272.7 34.0L273.4 31.8L263.3 31.6Z" fill="#ff1700" stroke="#c71200"/>
<path d="M272.7 34.0L282.8 34.2L283.4 31.9L273.4 31.8Z" fill="#ff1600" stroke="#c71100"/>
<path d="M282.8 34.2L292.8 34.4L293.4 32.1L283.4 31.9Z" fill="#ff1600" stroke="#c71100"/>
<path d="M292.8 34.4L302.8 34.6L303.4 32.4L293.4 32.1Z" fill="#ff1600" stroke="#c71100"/>
<path d="M302.8 34.6L312.9 34.9L313.5 32.6L303.4 32.4Z" fill="#ff1600" stroke="#c71100"/>
<path d="M312.9 34.9L322.9 35.1L323.5 32.8L313.5 32.6Z" fill="#ff1600" stroke="#c71100"/>
<path d="M322.9 35.1L332.9 35.4L333.5 33.1L323.5 32.8Z" fill="#ff1600" stroke="#c71100"/>
<path d="M332.9 35.4L342.9 35.6L343.6 33.3L333.5 33.1Z" fill="#ff1600" stroke="#c71100"/>
<path d="M342.9 35.6L353.0 35.9L353.6 33.6L343.6 33.3Z" fill="#ff1600" stroke="#c71100"/>
<path d="M353.0 35.9L363.0 36.2L363.6 33.9L353.6 33.6Z" fill="#ff1600" stroke="#c71100"/>
<path d="M363.0 36.2L373.0 36.4L373.6 34.1L363.6 33.9Z" fill="#ff1500" stroke="#c71100"/>
<path d="M82.8 172.6L92.9 165.4L93.5 163.1L83.4 170.9Z" fill="#2b2bd4" stroke="#2121a5" stroke-opacity="0.75"/>
<path d="M92.9 165.4L102.9 150.3L103.5 147.7L93.5 163.1Z" fill="#62629d" stroke="#4d4d7a" stroke-opacity="0.53"/>
<path d="M102.9 150.3L112.9 114.8L113.5 117.8L103.5 147.7Z" fill="#d5d52a" stroke="#a6a620" stroke-opacity="0.37"/>
<path d="M112.9 114.8L122.9 91.1L123.5 95.2L113.5 117.8Z" fill="#ffd100" stroke="#c7a300"/>
<path d="M122.9 91.1L133.0 72.1L133.6 76.2L123.5 95.2Z" fill="#ff9e00" stroke="#c77b00"/>
<path d="M133.0 72.1L143.0 58.3L143.6 61.5L133.6 76.2Z" fill="#ff7600" stroke="#c75c00"/>
<path d="M143.0 58.3L153.0 48.9L153.6 51.0L143.6 61.5Z" fill="#ff5800" stroke="#c74500"/>
<path d="M153.0 48.9L163.0 42.7L163.7 43.7L153.6 51.0Z" fill="#ff4400" stroke="#c73500" stroke-opacity="0.99"/>
<path d="M163.0 42.7L173.1 38.6L173.7 38.7L163.7 43.7Z" fill="#ff3600" stroke="#c72a00" stroke-opacity="0.47"/>
<path d="M173.1 38.6L183.1 36.0L183.7 35.4L173.7 38.7Z" fill="#ff2c00" stroke="#c72300" stroke-opacity="0.30"/>
<path d="M183.1 36.0L193.1 34.2L193.7 33.2L183.7 35.4Z" fill="#ff2600" stroke="#c71d00" stroke-opacity="0.41"/>
<path d="M193.1 34.2L203.2 33.1L203.8 31.7L193.7 33.2Z" fill="#ff2100" stroke="#c71a00" stroke-opacity="0.71"/>
<path d="M203.2 33.1L213.2 32.4L213.8 30.7L203.8 31.7Z" fill="#ff1e00" stroke="#c71700" stroke-opacity="0.93"/>
<path d="M213.2 32.4L223.2 31.9L223.8 30.0L213.8 30.7Z" fill="#ff1c00" stroke="#c71600"/>
<path d="M223.2 31.9L233.2 31.7L233.9 29.6L223.8 30.0Z" fill="#ff1a00" stroke="#c71400"/>
<path d="M233.2 31.7L243.3 31.5L243.9 29.5L233.9 29.6Z" fill="#ff1900" stroke="#c71300"/>
<path d="M243.3 31.5L253.3 31.6L253.9 29.4L243.9 29.5Z" fill="#ff1800" stroke="#c71300"/>
<path d="M253.3 31.6L263.3 31.6L263.9 29.4L253.9 29.4Z" fill="#ff1700" stroke="#c71200"/>
<path d="M263.3 31.6L273.4 31.8L274.0 29.6L263.9 29.4Z" fill="#ff1700" stroke="#c71200"/>
<path d="M273.4 31.8L283.4 31.9L284.0 29.7L274.0 29.6Z" fill="#ff1600" stroke="#c71200"/>
<path d="M283.4 31.9L293.4 32.1L294.0 29.9L284.0 29.7Z" fill="#ff1600" stroke="#c71100"/>
<path d="M293.4 32.1L303.4 32.4L304.1 30.1L294.0 29.9Z" fill="#ff1600" stroke="#c71100"/>
<path d="M303.4 32.4L313.5 32.6L314.1 30.3L304.1 30.1Z" fill="#ff1600" stroke="#c71100"/>
<path d="M313.5 32.6L323.5 32.8L324.1 30.5L314.1 30.3Z" fill="#ff1600" stroke="#c71100"/>
<path d="M323.5 32.8L333.5 33.1L334.1 30.8L324.1 30.5Z" fill="#ff1600" stroke="#c71100"/>
<path d="M333.5 33.1L343.6 33.3L344.2 31.0L334.1 30.8Z" fill="#ff1600" stroke="#c71100"/>
<path d="M343.6 33.3L353.6 33.6L354.2 31.3L344.2 31.0Z" fill="#ff1600" stroke="#c71100"/>
<path d="M353.6 33.6L363.6 33.9L364.2 31.5L354.2 31.3Z" fill="#ff1600" stroke="#c71100"/>
<path d="M363.6 33.9L373.6 34.1L374.2 31.8L364.2 31.5Z" fill="#ff1600" stroke="#c71100"/>
<path d="M83.4 170.9L93.5 163.1L94.1 160.7L84.1 168.6Z" fill="#2a2ad5" stroke="#2121a6" stroke-opacity="0.91"/>
<path d="M93.5 163.1L103.5 147.7L104.1 144.9L94.1 160.7Z" fill="#63639c" stroke="#4d4d7a" stroke-opacity="0.54"/>
<path d="M103.5 147.7L113.5 117.8L114.1 118.0L104.1 144.9Z" fill="#cdcd32" stroke="#a0a027" stroke-opacity="0.30"/>
<path d="M113.5 117.8L123.5 95.2L124.2 96.7L114.1 118.0Z" fill="#ffdb00" stroke="#c7ab00" stroke-opacity="0.55"/>
<path d="M123.5 95.2L133.6 76.2L134.2 78.4L124.2 96.7Z" fill="#ffab00" stroke="#c78500" stroke-opacity="0.88"/>
<path d="M133.6 76.2L143.6 61.5L144.2 63.7L134.2 78.4Z" fill="#ff8200" stroke="#c76600"/>
<path d="M143.6 61.5L153.6 51.0L154.2 52.6L144.2 63.7Z" fill="#ff6300" stroke="#c74d00"/>
<path d="M153.6 51.0L163.7 43.7L164.3 44.5L154.2 52.6Z" fill="#ff4d00" stroke="#c73c00" stroke-opacity="0.84"/>
<path d="M163.7 43.7L173.7 38.7L174.3 38.9L164.3 44.5Z" fill="#ff3d00" stroke="#c72f00" stroke-opacity="0.46"/>
<path d="M173.7 38.7L183.7 35.4L184.3 35.0L174.3 38.9Z" fill="#ff3100" stroke="#c72700" stroke-opacity="0.30"/>
<path d="M183.7 35.4L193.7 33.2L194.4 32.2L184.3 35.0Z" fill="#ff2a00" stroke="#c72000" stroke-opacity="0.33"/>
<path d="M193.7 33.2L203.8 31.7L204.4 30.3L194.4 32.2Z" fill="#ff2400" stroke="#c71c00" stroke-opacity="0.64"/>
<path d="M203.8 31.7L213.8 30.7L214.4 29.1L204.4 30.3Z" fill="#ff2000" stroke="#c71900" stroke-opacity="0.88"/>
<path d="M213.8 30.7L223.8 30.0L224.4 28.2L214.4 29.1Z" fill="#ff1d00" stroke="#c71700"/>
<path d="M223.8 30.0L233.9 29.6L234.5 27.7L224.4 28.2Z" fill="#ff1b00" stroke="#c71500"/>
<path d="M233.9 29.6L243.9 29.5L244.5 27.4L234.5 27.7Z" fill="#ff1900" stroke="#c71400"/>
<path d="M243.9 29.5L253.9 29.4L254.5 27.3L244.5 27.4Z" fill="#ff1800" stroke="#c71300"/>
<path d="M253.9 29.4L263.9 29.4L264.6 27.3L254.5 27.3Z" fill="#ff1800" stroke="#c71200"/>
<path d="M263.9 29.4L274.0 29.6L274.6 27.3L264.6 27.3Z" fill="#ff1700" stroke="#c71200"/>
<path d="M274.0 29.6L284.0 29.7L284.6 27.5L274.6 27.3Z" fill="#ff1700" stroke="#c71200"/>
<path d="M284.0 29.7L294.0 29.9L294.6 27.6L284.6 27.5Z" fill="#ff1600" stroke="#c71100"/>
<path d="M294.0 29.9L304.1 30.1L304.7 27.8L294.6 27.6Z" fill="#ff1600" stroke="#c71100"/>
<path d="M304.1 30.1L314.1 30.3L314.7 28.0L304.7 27.8Z" fill="#ff1600" stroke="#c71100"/>
<path d="M314.1 30.3L324.1 30.5L324.7 28.3L314.7 28.0Z" fill="#ff1600" stroke="#c71100"/>
<path d="M324.1 30.5L334.1 30.8L334.7 28.5L324.7 28.3Z" fill="#ff1600" stroke="#c71100"/>
<path d="M334.1 30.8L344.2 31.0L344.8 28.7L334.7 28.5Z" fill="#ff1600" stroke="#c71100"/>
<path d="M344.2 31.0L354.2 31.3L354.8 29.0L344.8 28.7Z" fill="#ff1600" stroke="#c71100"/>
<path d="M354.2 31.3L364.2 31.5L364.8 29.3L354.8 29.0Z" fill="#ff1600" stroke="#c71100"/>
<path d="M364.2 31.5L374.2 31.8L374.9 29.5L364.8 29.3Z" fill="#ff1600" stroke="#c71100"/>
<path d="M84.1 168.6L94.1 160.7L94.7 158.4L84.7 166.3Z" fill="#2a2ad5" stroke="#2121a6" stroke-opacity="0.91"/>
<path d="M94.1 160.7L104.1 144.9L104.7 141.9L94.7 158.4Z" fill="#65659a" stroke="#4e4e79" stroke-opacity="0.55"/>
<path d="M104.1 144.9L114.1 118.0L114.7 116.1L104.7 141.9Z" fill="#cbcb34" stroke="#9e9e29" stroke-opacity="0.30"/>
<path d="M114.1 118.0L124.2 96.7L124.8 96.1L114.7 116.1Z" fill="#ffe000" stroke="#c7af00" stroke-opacity="0.30"/>
<path d="M124.2 96.7L134.2 78.4L134.8 78.9L124.8 96.1Z" fill="#ffb200" stroke="#c78b00" stroke-opacity="0.31"/>
<path d="M134.2 78.4L144.2 63.7L144.8 64.6L134.8 78.9Z" fill="#ff8b00" stroke="#c76d00" stroke-opacity="0.55"/>
<path d="M144.2 63.7L154.2 52.6L154.9 53.4L144.8 64.6Z" fill="#ff6c00" stroke="#c75400" stroke-opacity="0.65"/>
<path d="M154.2 52.6L164.3 44.5L164.9 45.0L154.9 53.4Z" fill="#ff5500" stroke="#c74200" stroke-opacity="0.56"/>
<path d="M164.3 44.5L174.3 38.9L174.9 38.9L164.9 45.0Z" fill="#ff4300" stroke="#c73400" stroke-opacity="0.32"/>
<path d="M174.3 38.9L184.3 35.0L184.9 34.5L174.9 38.9Z" fill="#ff3600" stroke="#c72a00" stroke-opacity="0.30"/>
<path d="M184.3 35.0L194.4 32.2L195.0 31.3L184.9 34.5Z" fill="#ff2d00" stroke="#c72300" stroke-opacity="0.32"/>
<path d="M194.4 32.2L204.4 30.3L205.0 29.0L195.0 31.3Z" fill="#ff2700" stroke="#c71e00" stroke-opacity="0.61"/>
<path d="M204.4 30.3L214.4 29.1L215.0 27.4L205.0 29.0Z" fill="#ff2200" stroke="#c71a00" stroke-opacity="0.85"/>
<path d="M214.4 29.1L224.4 28.2L225.1 26.4L215.0 27.4Z" fill="#ff1e00" stroke="#c71800"/>
<path d="M224.4 28.2L234.5 27.7L235.1 25.7L225.1 26.4Z" fill="#ff1c00" stroke="#c71600"/>
<path d="M234.5 27.7L244.5 27.4L245.1 25.3L235.1 25.7Z" fill="#ff1a00" stroke="#c71400"/>
<path d="M244.5 27.4L254.5 27.3L255.1 25.2L245.1 25.3Z" fill="#ff1900" stroke="#c71300"/>
<path d="M254.5 27.3L264.6 27.3L265.2 25.1L255.1 25.2Z" fill="#ff1800" stroke="#c71300"/>
<path d="M264.6 27.3L274.6 27.3L275.2 25.1L265.2 25.1Z" fill="#ff1700" stroke="#c71200"/>
<path d="M274.6 27.3L284.6 27.5L285.2 25.3L275.2 25.1Z" fill="#ff1700" stroke="#c71200"/>
<path d="M284.6 27.5L294.6 27.6L295.2 25.4L285.2 25.3Z" fill="#ff1700" stroke="#c71200"/>
<path d="M294.6 27.6L304.7 27.8L305.3 25.6L295.2 25.4Z" fill="#ff1600" stroke="#c71100"/>
<path d="M304.7 27.8L314.7 28.0L315.3 25.8L305.3 25.6Z" fill="#ff1600" stroke="#c71100"/>
<path d="M314.7 28.0L324.7 28.3L325.3 26.0L315.3 25.8Z" fill="#ff1600" stroke="#c71100"/>
<path d="M324.7 28.3L334.7 28.5L335.4 26.2L325.3 26.0Z" fill="#ff1600" stroke="#c71100"/>
<path d="M334.7 28.5L344.8 28.7L345.4 26.5L335.4 26.2Z" fill="#ff1600" stroke="#c71100"/>
<path d="M344.8 28.7L354.8 29.0L355.4 26.7L345.4 26.5Z" fill="#ff1600" stroke="#c71100"/>
<path d="M354.8 29.0L364.8 29.3L365.4 27.0L355.4 26.7Z" fill="#ff1600" stroke="#c71100"/>
<path d="M364.8 29.3L374.9 29.5L375.5 27.2L365.4 27.0Z" fill="#ff1600" stroke="#c71100"/>
<path d="M84.7 166.3L94.7 158.4L95.3 156.0L85.3 164.0Z" fill="#2a2ad5" stroke="#2121a6" stroke-opacity="0.91"/>
<path d="M94.7 158.4L104.7 141.9L105.3 138.6L95.3 156.0Z" fill="#676798" stroke="#505077" stroke-opacity="0.56"/>
<path d="M104.7 141.9L114.7 116.1L115.4 112.7L105.3 138.6Z" fill="#cece31" stroke="#a0a027" stroke-opacity="0.39"/>
<path d="M114.7 116.1L124.8 96.1L125.4 93.9L115.4 112.7Z" fill="#ffe100" stroke="#c7b000" stroke-opacity="0.45"/>
<path d="M124.8 96.1L134.8 78.9L135.4 77.8L125.4 93.9Z" fill="#ffb600" stroke="#c78e00" stroke-opacity="0.30"/>
<path d="M134.8 78.9L144.8 64.6L145.4 64.2L135.4 77.8Z" fill="#ff9100" stroke="#c77100" stroke-opacity="0.30"/>
<path d="M144.8 64.6L154.9 53.4L155.5 53.4L145.4 64.2Z" fill="#ff7200" stroke="#c75900" stroke-opacity="0.30"/>
<path d="M154.9 53.4L164.9 45.0L165.5 44.9L155.5 53.4Z" fill="#ff5b00" stroke="#c74700" stroke-opacity="0.30"/>
<path d="M164.9 45.0L174.9 38.9L175.5 38.5L165.5 44.9Z" fill="#ff4900" stroke="#c73900" stroke-opacity="0.30"/>
<path d="M174.9 38.9L184.9 34.5L185.6 33.8L175.5 38.5Z" fill="#ff3b00" stroke="#c72e00" stroke-opacity="0.30"/>
<path d="M184.9 34.5L195.0 31.3L195.6 30.2L185.6 33.8Z" fill="#ff3100" stroke="#c72600" stroke-opacity="0.40"/>
<path d="M195.0 31.3L205.0 29.0L205.6 27.6L195.6 30.2Z" fill="#ff2900" stroke="#c72000" stroke-opacity="0.65"/>
<path d="M205.0 29.0L215.0 27.4L215.6 25.8L205.6 27.6Z" fill="#ff2400" stroke="#c71c00" stroke-opacity="0.86"/>
<path d="M215.0 27.4L225.1 26.4L225.7 24.6L215.6 25.8Z" fill="#ff2000" stroke="#c71900"/>
<path d="M225.1 26.4L235.1 25.7L235.7 23.8L225.7 24.6Z" fill="#ff1d00" stroke="#c71700"/>
<path d="M235.1 25.7L245.1 25.3L245.7 23.3L235.7 23.8Z" fill="#ff1b00" stroke="#c71500"/>
<path d="M245.1 25.3L255.1 25.2L255.7 23.1L245.7 23.3Z" fill="#ff1900" stroke="#c71400"/>
<path d="M255.1 25.2L265.2 25.1L265.8 23.0L255.7 23.1Z" fill="#ff1800" stroke="#c71300"/>
<path d="M265.2 25.1L275.2 25.1L275.8 23.0L265.8 23.0Z" fill="#ff1800" stroke="#c71300"/>
<path d="M275.2 25.1L285.2 25.3L285.8 23.0L275.8 23.0Z" fill="#ff1700" stroke="#c71200"/>
<path d="M285.2 25.3L295.2 25.4L295.9 23.2L285.8 23.0Z" fill="#ff1700" stroke="#c71200"/>
<path d="M295.2 25.4L305.3 25.6L305.9 23.3L295.9 23.2Z" fill="#ff1700" stroke="#c71200"/>
<path d="M305.3 25.6L315.3 25.8L315.9 23.5L305.9 23.3Z" fill="#ff1600" stroke="#c71100"/>
<path d="M315.3 25.8L325.3 26.0L325.9 23.7L315.9 23.5Z" fill="#ff1600" stroke="#c71100"/>
<path d="M325.3 26.0L335.4 26.2L336.0 23.9L325.9 23.7Z" fill="#ff1600" stroke="#c71100"/>
<path d="M335.4 26.2L345.4 26.5L346.0 24.2L336.0 23.9Z" fill="#ff1600" stroke="#c71100"/>
<path d="M345.4 26.5L355.4 26.7L356.0 24.4L346.0 24.2Z" fill="#ff1600" stroke="#c71100"/>
<path d="M355.4 26.7L365.4 27.0L366.1 24.7L356.0 24.4Z" fill="#ff1600" stroke="#c71100"/>
<path d="M365.4 27.0L375.5 27.2L376.1 24.9L366.1 24.7Z" fill="#ff1600" stroke="#c71100"/>
<path d="M85.3 164.0L95.3 156.0L95.9 153.7L85.9 161.6Z" fill="#2a2ad5" stroke="#2121a6" stroke-opacity="0.91"/>
<path d="M95.3 156.0L105.3 138.6L105.9 134.8L95.9 153.7Z" fill="#6a6a95" stroke="#525275" stroke-opacity="0.58"/>
<path d="M105.3 138.6L115.4 112.7L116.0 108.2L105.9 134.8Z" fill="#d4d42b" stroke="#a6a621" stroke-opacity="0.57"/>
<path d="M115.4 112.7L125.4 93.9L126.0 90.4L116.0 108.2Z" fill="#ffdf00" stroke="#c7ae00" stroke-opacity="0.85"/>
<path d="M125.4 93.9L135.4 77.8L136.0 75.5L126.0 90.4Z" fill="#ffb600" stroke="#c78e00" stroke-opacity="0.66"/>
<path d="M135.4 77.8L145.4 64.2L146.1 62.8L136.0 75.5Z" fill="#ff9300" stroke="#c77300" stroke-opacity="0.41"/>
<path d="M145.4 64.2L155.5 53.4L156.1 52.4L146.1 62.8Z" fill="#ff7600" stroke="#c75c00" stroke-opacity="0.30"/>
<path d="M155.5 53.4L165.5 44.9L166.1 44.2L156.1 52.4Z" fill="#ff5f00" stroke="#c74a00" stroke-opacity="0.30"/>
<path d="M165.5 44.9L175.5 38.5L176.1 37.7L166.1 44.2Z" fill="#ff4d00" stroke="#c73c00" stroke-opacity="0.30"/>
<path d="M175.5 38.5L185.6 33.8L186.2 32.7L176.1 37.7Z" fill="#ff3f00" stroke="#c73100" stroke-opacity="0.36"/>
<path d="M185.6 33.8L195.6 30.2L196.2 29.0L186.2 32.7Z" fill="#ff3400" stroke="#c72900" stroke-opacity="0.55"/>
<path d="M195.6 30.2L205.6 27.6L206.2 26.1L196.2 29.0Z" fill="#ff2c00" stroke="#c72200" stroke-opacity="0.74"/>
<path d="M205.6 27.6L215.6 25.8L216.3 24.1L206.2 26.1Z" fill="#ff2600" stroke="#c71d00" stroke-opacity="0.92"/>
<path d="M215.6 25.8L225.7 24.6L226.3 22.7L216.3 24.1Z" fill="#ff2100" stroke="#c71a00"/>
<path d="M225.7 24.6L235.7 23.8L236.3 21.8L226.3 22.7Z" fill="#ff1e00" stroke="#c71700"/>
<path d="M235.7 23.8L245.7 23.3L246.3 21.3L236.3 21.8Z" fill="#ff1c00" stroke="#c71600"/>
<path d="M245.7 23.3L255.7 23.1L256.4 21.0L246.3 21.3Z" fill="#ff1a00" stroke="#c71400"/>
<path d="M255.7 23.1L265.8 23.0L266.4 20.8L256.4 21.0Z" fill="#ff1900" stroke="#c71300"/>
<path d="M265.8 23.0L275.8 23.0L276.4 20.8L266.4 20.8Z" fill="#ff1800" stroke="#c71300"/>
<path d="M275.8 23.0L285.8 23.0L286.4 20.8L276.4 20.8Z" fill="#ff1800" stroke="#c71200"/>
<path d="M285.8 23.0L295.9 23.2L296.5 20.9L286.4 20.8Z" fill="#ff1700" stroke="#c71200"/>
<path d="M295.9 23.2L305.9 23.3L306.5 21.1L296.5 20.9Z" fill="#ff1700" stroke="#c71200"/>
<path d="M305.9 23.3L315.9 23.5L316.5 21.3L306.5 21.1Z" fill="#ff1700" stroke="#c71200"/>
<path d="M315.9 23.5L325.9 23.7L326.6 21.5L316.5 21.3Z" fill="#ff1600" stroke="#c71100"/>
<path d="M325.9 23.7L336.0 23.9L336.6 21.7L326.6 21.5Z" fill="#ff1600" stroke="#c71100"/>
<path d="M336.0 23.9L346.0 24.2L346.6 21.9L336.6 21.7Z" fill="#ff1600" stroke="#c71100"/>
<path d="M346.0 24.2L356.0 24.4L356.6 22.1L346.6 21.9Z" fill="#ff1600" stroke="#c71100"/>
<path d="M356.0 24.4L366.1 24.7L366.7 22.4L356.6 22.1Z" fill="#ff1600" stroke="#c71100"/>
<path d="M366.1 24.7L376.1 24.9L376.7 22.6L366.7 22.4Z" fill="#ff1600" stroke="#c71100"/>
<path d="M85.9 161.6L95.9 153.7L96.5 151.2L86.5 159.3Z" fill="#2a2ad5" stroke="#2121a6" stroke-opacity="0.92"/>
<path d="M95.9 153.7L105.9 134.8L106.6 130.3L96.5 151.2Z" fill="#6e6e91" stroke="#565671" stroke-opacity="0.61"/>
<path d="M105.9 134.8L116.0 108.2L116.6 102.6L106.6 130.3Z" fill="#dfdf20" stroke="#aeae19" stroke-opacity="0.73"/>
<path d="M116.0 108.2L126.0 90.4L126.6 85.7L116.6 102.6Z" fill="#ffd900" stroke="#c7a900"/>
<path d="M126.0 90.4L136.0 75.5L136.6 72.0L126.6 85.7Z" fill="#ffb300" stroke="#c78c00"/>
<path d="M136.0 75.5L146.1 62.8L146.7 60.3L136.6 72.0Z" fill="#ff9300" stroke="#c77300" stroke-opacity="0.87"/>
<path d="M146.1 62.8L156.1 52.4L156.7 50.6L146.7 60.3Z" fill="#ff7800" stroke="#c75d00" stroke-opacity="0.68"/>
<path d="M156.1 52.4L166.1 44.2L166.7 42.7L156.7 50.6Z" fill="#ff6200" stroke="#c74c00" stroke-opacity="0.57"/>
<path d="M166.1 44.2L176.1 37.7L176.8 36.3L166.7 42.7Z" fill="#ff5000" stroke="#c73e00" stroke-opacity="0.56"/>
<path d="M176.1 37.7L186.2 32.7L186.8 31.3L176.8 36.3Z" fill="#ff4200" stroke="#c73300" stroke-opacity="0.64"/>
<path d="M186.2 32.7L196.2 29.0L196.8 27.4L186.8 31.3Z" fill="#ff3600" stroke="#c72a00" stroke-opacity="0.76"/>
<path d="M196.2 29.0L206.2 26.1L206.8 24.4L196.8 27.4Z" fill="#ff2e00" stroke="#c72400" stroke-opacity="0.89"/>
<path d="M206.2 26.1L216.3 24.1L216.9 22.3L206.8 24.4Z" fill="#ff2700" stroke="#c71f00"/>
<path d="M216.3 24.1L226.3 22.7L226.9 20.8L216.9 22.3Z" fill="#ff2200" stroke="#c71b00"/>
<path d="M226.3 22.7L236.3 21.8L236.9 19.8L226.9 20.8Z" fill="#ff1f00" stroke="#c71800"/>
<path d="M236.3 21.8L246.3 21.3L246.9 19.2L236.9 19.8Z" fill="#ff1c00" stroke="#c71600"/>
<path d="M246.3 21.3L256.4 21.0L257.0 18.9L246.9 19.2Z" fill="#ff1b00" stroke="#c71500"/>
<path d="M256.4 21.0L266.4 20.8L267.0 18.7L257.0 18.9Z" fill="#ff1900" stroke="#c71400"/>
<path d="M266.4 20.8L276.4 20.8L277.0 18.6L267.0 18.7Z" fill="#ff1900" stroke="#c71300"/>
<path d="M276.4 20.8L286.4 20.8L287.1 18.6L277.0 18.6Z" fill="#ff1800" stroke="#c71300"/>
<path d="M286.4 20.8L296.5 20.9L297.1 18.7L287.1 18.6Z" fill="#ff1700" stroke="#c71200"/>
<path d="M296.5 20.9L306.5 21.1L307.1 18.9L297.1 18.7Z" fill="#ff1700" stroke="#c71200"/>
<path d="M306.5 21.1L316.5 21.3L317.1 19.0L307.1 18.9Z" fill="#ff1700" stroke="#c71200"/>
<path d="M316.5 21.3L326.6 21.5L327.2 19.2L317.1 19.0Z" fill="#ff1700" stroke="#c71200"/>
<path d="M326.6 21.5L336.6 21.7L337.2 19.4L327.2 19.2Z" fill="#ff1600" stroke="#c71100"/>
<path d="M336.6 21.7L346.6 21.9L347.2 19.6L337.2 19.4Z" fill="#ff1600" stroke="#c71100"/>
<path d="M346.6 21.9L356.6 22.1L357.3 19.9L347.2 19.6Z" fill="#ff1600" stroke="#c71100"/>
<path d="M356.6 22.1L366.7 22.4L367.3 20.1L357.3 19.9Z" fill="#ff1600" stroke="#c71100"/>
<path d="M366.7 22.4L376.7 22.6L377.3 20.3L367.3 20.1Z" fill="#ff1600" stroke="#c71100"/>
<path d="M86.5 159.3L96.5 151.2L97.1 148.8L87.1 157.0Z" fill="#2b2bd4" stroke="#2121a6" stroke-opacity="0.92"/>
<path d="M96.5 151.2L106.6 130.3L107.2 124.7L97.1 148.8Z" fill="#75758a" stroke="#5b5b6c" stroke-opacity="0.64"/>
<path d="M106.6 130.3L116.6 102.6L117.2 95.9L107.2 124.7Z" fill="#efef10" stroke="#baba0d" stroke-opacity="0.91"/>
<path d="M116.6 102.6L126.6 85.7L127.2 80.0L117.2 95.9Z" fill="#ffd100" stroke="#c7a300"/>
<path d="M126.6 85.7L136.6 72.0L137.3 67.5L127.2 80.0Z" fill="#ffae00" stroke="#c78800"/>
<path d="M136.6 72.0L146.7 60.3L147.3 56.7L137.3 67.5Z" fill="#ff9000" stroke="#c77000"/>
<path d="M146.7 60.3L156.7 50.6L157.3 47.9L147.3 56.7Z" fill="#ff7700" stroke="#c75d00"/>
<path d="M156.7 50.6L166.7 42.7L167.3 40.4L157.3 47.9Z" fill="#ff6200" stroke="#c74d00" stroke-opacity="1.00"/>
<path d="M166.7 42.7L176.8 36.3L177.4 34.2L167.3 40.4Z" fill="#ff5100" stroke="#c73f00" stroke-opacity="0.94"/>
<path d="M176.8 36.3L186.8 31.3L187.4 29.3L177.4 34.2Z" fill="#ff4300" stroke="#c73400" stroke-opacity="0.96"/>
<path d="M186.8 31.3L196.8 27.4L197.4 25.4L187.4 29.3Z" fill="#ff3800" stroke="#c72b00"/>
<path d="M196.8 27.4L206.8 24.4L207.4 22.4L197.4 25.4Z" fill="#ff2f00" stroke="#c72500"/>
<path d="M206.8 24.4L216.9 22.3L217.5 20.3L207.4 22.4Z" fill="#ff2800" stroke="#c71f00"/>
<path d="M216.9 22.3L226.9 20.8L227.5 18.8L217.5 20.3Z" fill="#ff2300" stroke="#c71c00"/>
<path d="M226.9 20.8L236.9 19.8L237.5 17.8L227.5 18.8Z" fill="#ff2000" stroke="#c71900"/>
<path d="M236.9 19.8L246.9 19.2L247.6 17.1L237.5 17.8Z" fill="#ff1d00" stroke="#c71700"/>
<path d="M246.9 19.2L257.0 18.9L257.6 16.7L247.6 17.1Z" fill="#ff1b00" stroke="#c71500"/>
<path d="M257.0 18.9L267.0 18.7L267.6 16.5L257.6 16.7Z" fill="#ff1a00" stroke="#c71400"/>
<path d="M267.0 18.7L277.0 18.6L277.6 16.4L267.6 16.5Z" fill="#ff1900" stroke="#c71300"/>
<path d="M277.0 18.6L287.1 18.6L287.7 16.4L277.6 16.4Z" fill="#ff1800" stroke="#c71300"/>
<path d="M287.1 18.6L297.1 18.7L297.7 16.5L287.7 16.4Z" fill="#ff1800" stroke="#c71200"/>
<path d="M297.1 18.7L307.1 18.9L307.7 16.6L297.7 16.5Z" fill="#ff1700" stroke="#c71200"/>
<path d="M307.1 18.9L317.1 19.0L317.8 16.8L307.7 16.6Z" fill="#ff1700" stroke="#c71200"/>
<path d="M317.1 19.0L327.2 19.2L327.8 17.0L317.8 16.8Z" fill="#ff1700" stroke="#c71200"/>
<path d="M327.2 19.2L337.2 19.4L337.8 17.1L327.8 17.0Z" fill="#ff1600" stroke="#c71200"/>
<path d="M337.2 19.4L347.2 19.6L347.8 17.4L337.8 17.1Z" fill="#ff1600" stroke="#c71100"/>
<path d="M347.2 19.6L357.3 19.9L357.9 17.6L347.8 17.4Z" fill="#ff1600" stroke="#c71100"/>
<path d="M357.3 19.9L367.3 20.1L367.9 17.8L357.9 17.6Z" fill="#ff1600" stroke="#c71100"/>
<path d="M367.3 20.1L377.3 20.3L377.9 18.0L367.9 17.8Z" fill="#ff1600" stroke="#c71100"/>
<path d="M87.1 157.0L97.1 148.8L97.8 146.1L87.7 154.7Z" fill="#2b2bd4" stroke="#2222a5" stroke-opacity="0.93"/>
<path d="M97.1 148.8L107.2 124.7L107.8 117.6L97.8 146.1Z" fill="#7f7f80" stroke="#636364" stroke-opacity="0.67"/>
<path d="M107.2 124.7L117.2 95.9L117.8 88.3L107.8 117.6Z" fill="#fffd00" stroke="#c7c500"/>
<path d="M117.2 95.9L127.2 80.0L127.8 73.4L117.8 88.3Z" fill="#ffc700" stroke="#c79b00"/>
<path d="M127.2 80.0L137.3 67.5L137.9 62.0L127.8 73.4Z" fill="#ffa600" stroke="#c78100"/>
<path d="M137.3 67.5L147.3 56.7L147.9 52.3L137.9 62.0Z" fill="#ff8b00" stroke="#c76c00"/>
<path d="M147.3 56.7L157.3 47.9L157.9 44.3L147.9 52.3Z" fill="#ff7400" stroke="#c75b00"/>
<path d="M157.3 47.9L167.3 40.4L167.9 37.3L157.9 44.3Z" fill="#ff6100" stroke="#c74c00"/>
<path d="M167.3 40.4L177.4 34.2L178.0 31.5L167.9 37.3Z" fill="#ff5100" stroke="#c73f00"/>
<path d="M177.4 34.2L187.4 29.3L188.0 26.8L178.0 31.5Z" fill="#ff4300" stroke="#c73400"/>
<path d="M187.4 29.3L197.4 25.4L198.0 23.0L188.0 26.8Z" fill="#ff3800" stroke="#c72c00"/>
<path d="M197.4 25.4L207.4 22.4L208.1 20.2L198.0 23.0Z" fill="#ff2f00" stroke="#c72500"/>
<path d="M207.4 22.4L217.5 20.3L218.1 18.1L208.1 20.2Z" fill="#ff2900" stroke="#c72000"/>
<path d="M217.5 20.3L227.5 18.8L228.1 16.6L218.1 18.1Z" fill="#ff2400" stroke="#c71c00"/>
<path d="M227.5 18.8L237.5 17.8L238.1 15.6L228.1 16.6Z" fill="#ff2000" stroke="#c71900"/>
<path d="M237.5 17.8L247.6 17.1L248.2 15.0L238.1 15.6Z" fill="#ff1e00" stroke="#c71700"/>
<path d="M247.6 17.1L257.6 16.7L258.2 14.6L248.2 15.0Z" fill="#ff1c00" stroke="#c71600"/>
<path d="M257.6 16.7L267.6 16.5L268.2 14.4L258.2 14.6Z" fill="#ff1a00" stroke="#c71500"/>
<path d="M267.6 16.5L277.6 16.4L278.3 14.3L268.2 14.4Z" fill="#ff1900" stroke="#c71400"/>
<path d="M277.6 16.4L287.7 16.4L288.3 14.2L278.3 14.3Z" fill="#ff1900" stroke="#c71300"/>
<path d="M287.7 16.4L297.7 16.5L298.3 14.3L288.3 14.2Z" fill="#ff1800" stroke="#c71300"/>
<path d="M297.7 16.5L307.7 16.6L308.3 14.4L298.3 14.3Z" fill="#ff1800" stroke="#c71200"/>
<path d="M307.7 16.6L317.8 16.8L318.4 14.5L308.3 14.4Z" fill="#ff1700" stroke="#c71200"/>
<path d="M317.8 16.8L327.8 17.0L328.4 14.7L318.4 14.5Z" fill="#ff1700" stroke="#c71200"/>
<path d="M327.8 17.0L337.8 17.1L338.4 14.9L328.4 14.7Z" fill="#ff1700" stroke="#c71200"/>
<path d="M337.8 17.1L347.8 17.4L348.5 15.1L338.4 14.9Z" fill="#ff1600" stroke="#c71200"/>
<path d="M347.8 17.4L357.9 17.6L358.5 15.3L348.5 15.1Z" fill="#ff1600" stroke="#c71100"/>
<path d="M357.9 17.6L367.9 17.8L368.5 15.5L358.5 15.3Z" fill="#ff1600" stroke="#c71100"/>
<path d="M367.9 17.8L377.9 18.0L378.5 15.8L368.5 15.5Z" fill="#ff1600" stroke="#c71100"/>
<path d="M87.7 154.7L97.8 146.1L98.4 143.2L88.3 152.3Z" fill="#2c2cd3" stroke="#2323a4" stroke-opacity="0.96"/>
<path d="M97.8 146.1L107.8 117.6L108.4 108.9L98.4 143.2Z" fill="#8d8d72" stroke="#6e6e59" stroke-opacity="0.69"/>
<path d="M107.8 117.6L117.8 88.3L118.4 79.8L108.4 108.9Z" fill="#ffef00" stroke="#c7bb00"/>
<path d="M117.8 88.3L127.8 73.4L128.4 66.0L118.4 79.8Z" fill="#ffbb00" stroke="#c79200"/>
<path d="M127.8 73.4L137.9 62.0L138.5 55.7L128.4 66.0Z" fill="#ff9c00" stroke="#c77a00"/>
<path d="M137.9 62.0L147.9 52.3L148.5 46.9L138.5 55.7Z" fill="#ff8400" stroke="#c76700"/>
<path d="M147.9 52.3L157.9 44.3L158.5 39.8L148.5 46.9Z" fill="#ff6f00" stroke="#c75700"/>
<path d="M157.9 44.3L167.9 37.3L168.6 33.5L158.5 39.8Z" fill="#ff5d00" stroke="#c74900"/>
<path d="M167.9 37.3L178.0 31.5L178.6 28.2L168.6 33.5Z" fill="#ff4e00" stroke="#c73d00"/>
<path d="M178.0 31.5L188.0 26.8L188.6 23.8L178.6 28.2Z" fill="#ff4200" stroke="#c73300"/>
<path d="M188.0 26.8L198.0 23.0L198.6 20.3L188.6 23.8Z" fill="#ff3700" stroke="#c72b00"/>
<path d="M198.0 23.0L208.1 20.2L208.7 17.7L198.6 20.3Z" fill="#ff2f00" stroke="#c72500"/>
<path d="M208.1 20.2L218.1 18.1L218.7 15.7L208.7 17.7Z" fill="#ff2900" stroke="#c72000"/>
<path d="M218.1 18.1L228.1 16.6L228.7 14.4L218.7 15.7Z" fill="#ff2400" stroke="#c71c00"/>
<path d="M228.1 16.6L238.1 15.6L238.8 13.4L228.7 14.4Z" fill="#ff2100" stroke="#c71900"/>
<path d="M238.1 15.6L248.2 15.0L248.8 12.8L238.8 13.4Z" fill="#ff1e00" stroke="#c71700"/>
<path d="M248.2 15.0L258.2 14.6L258.8 12.4L248.8 12.8Z" fill="#ff1c00" stroke="#c71600"/>
<path d="M258.2 14.6L268.2 14.4L268.8 12.2L258.8 12.4Z" fill="#ff1b00" stroke="#c71500"/>
<path d="M268.2 14.4L278.3 14.3L278.9 12.1L268.8 12.2Z" fill="#ff1a00" stroke="#c71400"/>
<path d="M278.3 14.3L288.3 14.2L288.9 12.0L278.9 12.1Z" fill="#ff1900" stroke="#c71300"/>
<path d="M288.3 14.2L298.3 14.3L298.9 12.1L288.9 12.0Z" fill="#ff1800" stroke="#c71300"/>
<path d="M298.3 14.3L308.3 14.4L309.0 12.2L298.9 12.1Z" fill="#ff1800" stroke="#c71300"/>
<path d="M308.3 14.4L318.4 14.5L319.0 12.3L309.0 12.2Z" fill="#ff1700" stroke="#c71200"/>
<path d="M318.4 14.5L328.4 14.7L329.0 12.5L319.0 12.3Z" fill="#ff1700" stroke="#c71200"/>
<path d="M328.4 14.7L338.4 14.9L339.0 12.6L329.0 12.5Z" fill="#ff1700" stroke="#c71200"/>
<path d="M338.4 14.9L348.5 15.1L349.1 12.8L339.0 12.6Z" fill="#ff1700" stroke="#c71200"/>
<path d="M348.5 15.1L358.5 15.3L359.1 13.0L349.1 12.8Z" fill="#ff1600" stroke="#c71200"/>
<path d="M358.5 15.3L368.5 15.5L369.1 13.3L359.1 13.0Z" fill="#ff1600" stroke="#c71100"/>
<path d="M368.5 15.5L378.5 15.8L379.1 13.5L369.1 13.3Z" fill="#ff1600" stroke="#c71100"/>
<path d="M88.3 152.3L98.4 143.2L99.0 139.6L89.0 150.0Z" fill="#2f2fd0" stroke="#2424a3"/>
<path d="M98.4 143.2L108.4 108.9L109.0 98.3L99.0 139.6Z" fill="#a1a15e" stroke="#7e7e49" stroke-opacity="0.71"/>
<path d="M108.4 108.9L118.4 79.8L119.0 70.5L109.0 98.3Z" fill="#ffdf00" stroke="#c7ae00"/>
<path d="M118.4 79.8L128.4 66.0L129.1 57.8L119.0 70.5Z" fill="#ffac00" stroke="#c78600"/>
<path d="M128.4 66.0L138.5 55.7L139.1 48.5L129.1 57.8Z" fill="#ff9000" stroke="#c77100"/>
<path d="M138.5 55.7L148.5 46.9L149.1 40.7L139.1 48.5Z" fill="#ff7a00" stroke="#c75f00"/>
<path d="M148.5 46.9L158.5 39.8L159.1 34.5L149.1 40.7Z" fill="#ff6800" stroke="#c75100"/>
<path d="M158.5 39.8L168.6 33.5L169.2 29.0L159.1 34.5Z" fill="#ff5800" stroke="#c74500"/>
<path d="M168.6 33.5L178.6 28.2L179.2 24.3L169.2 29.0Z" fill="#ff4b00" stroke="#c73a00"/>
<path d="M178.6 28.2L188.6 23.8L189.2 20.4L179.2 24.3Z" fill="#ff3f00" stroke="#c73100"/>
<path d="M188.6 23.8L198.6 20.3L199.3 17.3L189.2 20.4Z" fill="#ff3600" stroke="#c72a00"/>
<path d="M198.6 20.3L208.7 17.7L209.3 14.9L199.3 17.3Z" fill="#ff2e00" stroke="#c72400"/>
<path d="M208.7 17.7L218.7 15.7L219.3 13.2L209.3 14.9Z" fill="#ff2800" stroke="#c71f00"/>
<path d="M218.7 15.7L228.7 14.4L229.3 11.9L219.3 13.2Z" fill="#ff2400" stroke="#c71c00"/>
<path d="M228.7 14.4L238.8 13.4L239.4 11.1L229.3 11.9Z" fill="#ff2100" stroke="#c71900"/>
<path d="M238.8 13.4L248.8 12.8L249.4 10.5L239.4 11.1Z" fill="#ff1e00" stroke="#c71800"/>
<path d="M248.8 12.8L258.8 12.4L259.4 10.1L249.4 10.5Z" fill="#ff1c00" stroke="#c71600"/>
<path d="M258.8 12.4L268.8 12.2L269.5 9.9L259.4 10.1Z" fill="#ff1b00" stroke="#c71500"/>
<path d="M268.8 12.2L278.9 12.1L279.5 9.8L269.5 9.9Z" fill="#ff1a00" stroke="#c71400"/>
<path d="M278.9 12.1L288.9 12.0L289.5 9.8L279.5 9.8Z" fill="#ff1900" stroke="#c71400"/>
<path d="M288.9 12.0L298.9 12.1L299.5 9.8L289.5 9.8Z" fill="#ff1800" stroke="#c71300"/>
<path d="M298.9 12.1L309.0 12.2L309.6 9.9L299.5 9.8Z" fill="#ff1800" stroke="#c71300"/>
<path d="M309.0 12.2L319.0 12.3L319.6 10.1L309.6 9.9Z" fill="#ff1800" stroke="#c71200"/>
<path d="M319.0 12.3L329.0 12.5L329.6 10.2L319.6 10.1Z" fill="#ff1700" stroke="#c71200"/>
<path d="M329.0 12.5L339.0 12.6L339.6 10.4L329.6 10.2Z" fill="#ff1700" stroke="#c71200"/>
<path d="M339.0 12.6L349.1 12.8L349.7 10.6L339.6 10.4Z" fill="#ff1700" stroke="#c71200"/>
<path d="M349.1 12.8L359.1 13.0L359.7 10.8L349.7 10.6Z" fill="#ff1700" stroke="#c71200"/>
<path d="M359.1 13.0L369.1 13.3L369.7 11.0L359.7 10.8Z" fill="#ff1600" stroke="#c71200"/>
<path d="M369.1 13.3L379.1 13.5L379.8 11.2L369.7 11.0Z" fill="#ff1600" stroke="#c71100"/>
<path d="M89.0 150.0L99.0 139.6L99.6 134.2L89.6 147.7Z" fill="#3434cb" stroke="#28289f"/>
<path d="M99.0 139.6L109.0 98.3L109.6 85.8L99.6 134.2Z" fill="#bcbc43" stroke="#939334" stroke-opacity="0.78"/>
<path d="M109.0 98.3L119.0 70.5L119.6 60.3L109.6 85.8Z" fill="#ffcb00" stroke="#c79e00"/>
<path d="M119.0 70.5L129.1 57.8L129.7 48.8L119.6 60.3Z" fill="#ff9c00" stroke="#c77a00"/>
<path d="M129.1 57.8L139.1 48.5L139.7 40.6L129.7 48.8Z" fill="#ff8300" stroke="#c76600"/>
<path d="M139.1 48.5L149.1 40.7L149.7 33.8L139.7 40.6Z" fill="#ff6f00" stroke="#c75700"/>
<path d="M149.1 40.7L159.1 34.5L159.8 28.6L149.7 33.8Z" fill="#ff5f00" stroke="#c74a00"/>
<path d="M159.1 34.5L169.2 29.0L169.8 23.9L159.8 28.6Z" fill="#ff5100" stroke="#c74000"/>
<path d="M169.2 29.0L179.2 24.3L179.8 19.9L169.8 23.9Z" fill="#ff4600" stroke="#c73600"/>
<path d="M179.2 24.3L189.2 20.4L189.8 16.6L179.8 19.9Z" fill="#ff3b00" stroke="#c72e00"/>
<path d="M189.2 20.4L199.3 17.3L199.9 13.9L189.8 16.6Z" fill="#ff3300" stroke="#c72800"/>
<path d="M199.3 17.3L209.3 14.9L209.9 11.9L199.9 13.9Z" fill="#ff2c00" stroke="#c72300"/>
<path d="M209.3 14.9L219.3 13.2L219.9 10.4L209.9 11.9Z" fill="#ff2700" stroke="#c71f00"/>
<path d="M219.3 13.2L229.3 11.9L230.0 9.4L219.9 10.4Z" fill="#ff2300" stroke="#c71c00"/>
<path d="M229.3 11.9L239.4 11.1L240.0 8.6L230.0 9.4Z" fill="#ff2000" stroke="#c71900"/>
<path d="M239.4 11.1L249.4 10.5L250.0 8.2L240.0 8.6Z" fill="#ff1e00" stroke="#c71700"/>
<path d="M249.4 10.5L259.4 10.1L260.0 7.8L250.0 8.2Z" fill="#ff1c00" stroke="#c71600"/>
<path d="M259.4 10.1L269.5 9.9L270.1 7.7L260.0 7.8Z" fill="#ff1b00" stroke="#c71500"/>
<path d="M269.5 9.9L279.5 9.8L280.1 7.6L270.1 7.7Z" fill="#ff1a00" stroke="#c71400"/>
<path d="M279.5 9.8L289.5 9.8L290.1 7.6L280.1 7.6Z" fill="#ff1900" stroke="#c71400"/>
<path d="M289.5 9.8L299.5 9.8L300.1 7.6L290.1 7.6Z" fill="#ff1900" stroke="#c71300"/>
<path d="M299.5 9.8L309.6 9.9L310.2 7.7L300.1 7.6Z" fill="#ff1800" stroke="#c71300"/>
<path d="M309.6 9.9L319.6 10.1L320.2 7.8L310.2 7.7Z" fill="#ff1800" stroke="#c71300"/>
<path d="M319.6 10.1L329.6 10.2L330.2 8.0L320.2 7.8Z" fill="#ff1700" stroke="#c71200"/>
<path d="M329.6 10.2L339.6 10.4L340.3 8.1L330.2 8.0Z" fill="#ff1700" stroke="#c71200"/>
<path d="M339.6 10.4L349.7 10.6L350.3 8.3L340.3 8.1Z" fill="#ff1700" stroke="#c71200"/>
<path d="M349.7 10.6L359.7 10.8L360.3 8.5L350.3 8.3Z" fill="#ff1700" stroke="#c71200"/>
<path d="M359.7 10.8L369.7 11.0L370.3 8.7L360.3 8.5Z" fill="#ff1700" stroke="#c71200"/>
<path d="M369.7 11.0L379.8 11.2L380.4 8.9L370.3 8.7Z" fill="#ff1600" stroke="#c71200"/>
<path d="M89.6 147.7L99.6 134.2L100.2 124.2L90.2 145.4Z" fill="#4141be" stroke="#323295"/>
<path d="M99.6 134.2L109.6 85.8L110.2 71.4L100.2 124.2Z" fill="#e3e31c" stroke="#b1b116"/>
<path d="M109.6 85.8L119.6 60.3L120.3 48.9L110.2 71.4Z" fill="#ffb400" stroke="#c78c00"/>
<path d="M119.6 60.3L129.7 48.8L130.3 38.8L120.3 48.9Z" fill="#ff8900" stroke="#c76b00"/>
<path d="M129.7 48.8L139.7 40.6L140.3 31.9L130.3 38.8Z" fill="#ff7300" stroke="#c75a00"/>
<path d="M139.7 40.6L149.7 33.8L150.3 26.1L140.3 31.9Z" fill="#ff6200" stroke="#c74c00"/>
<path d="M149.7 33.8L159.8 28.6L160.4 21.9L150.3 26.1Z" fill="#ff5400" stroke="#c74200"/>
<path d="M159.8 28.6L169.8 23.9L170.4 18.2L160.4 21.9Z" fill="#ff4900" stroke="#c73900"/>
<path d="M169.8 23.9L179.8 19.9L180.4 15.0L170.4 18.2Z" fill="#ff3f00" stroke="#c73100"/>
<path d="M179.8 19.9L189.8 16.6L190.5 12.3L180.4 15.0Z" fill="#ff3700" stroke="#c72b00"/>
<path d="M189.8 16.6L199.9 13.9L200.5 10.2L190.5 12.3Z" fill="#ff3000" stroke="#c72500"/>
<path d="M199.9 13.9L209.9 11.9L210.5 8.6L200.5 10.2Z" fill="#ff2a00" stroke="#c72100"/>
<path d="M209.9 11.9L219.9 10.4L220.5 7.5L210.5 8.6Z" fill="#ff2600" stroke="#c71d00"/>
<path d="M219.9 10.4L230.0 9.4L230.6 6.7L220.5 7.5Z" fill="#ff2200" stroke="#c71b00"/>
<path d="M230.0 9.4L240.0 8.6L240.6 6.1L230.6 6.7Z" fill="#ff2000" stroke="#c71900"/>
<path d="M240.0 8.6L250.0 8.2L250.6 5.7L240.6 6.1Z" fill="#ff1e00" stroke="#c71700"/>
<path d="M250.0 8.2L260.0 7.8L260.6 5.5L250.6 5.7Z" fill="#ff1c00" stroke="#c71600"/>
<path d="M260.0 7.8L270.1 7.7L270.7 5.3L260.6 5.5Z" fill="#ff1b00" stroke="#c71500"/>
<path d="M270.1 7.7L280.1 7.6L280.7 5.3L270.7 5.3Z" fill="#ff1a00" stroke="#c71400"/>
<path d="M280.1 7.6L290.1 7.6L290.7 5.3L280.7 5.3Z" fill="#ff1900" stroke="#c71400"/>
<path d="M290.1 7.6L300.1 7.6L300.8 5.3L290.7 5.3Z" fill="#ff1900" stroke="#c71300"/>
<path d="M300.1 7.6L310.2 7.7L310.8 5.4L300.8 5.3Z" fill="#ff1800" stroke="#c71300"/>
<path d="M310.2 7.7L320.2 7.8L320.8 5.6L310.8 5.4Z" fill="#ff1800" stroke="#c71300"/>
<path d="M320.2 7.8L330.2 8.0L330.8 5.7L320.8 5.6Z" fill="#ff1800" stroke="#c71200"/>
<path d="M330.2 8.0L340.3 8.1L340.9 5.9L330.8 5.7Z" fill="#ff1700" stroke="#c71200"/>
<path d="M340.3 8.1L350.3 8.3L350.9 6.0L340.9 5.9Z" fill="#ff1700" stroke="#c71200"/>
<path d="M350.3 8.3L360.3 8.5L360.9 6.2L350.9 6.0Z" fill="#ff1700" stroke="#c71200"/>
<path d="M360.3 8.5L370.3 8.7L371.0 6.4L360.9 6.2Z" fill="#ff1700" stroke="#c71200"/>
<path d="M370.3 8.7L380.4 8.9L381.0 6.7L371.0 6.4Z" fill="#ff1700" stroke="#c71200"/>
<path d="M90.2 145.4L100.2 124.2L100.8 104.2L90.8 143.0Z" fill="#5f5fa0" stroke="#4a4a7d"/>
<path d="M100.2 124.2L110.2 71.4L110.8 53.9L100.8 104.2Z" fill="#ffee00" stroke="#c7b900"/>
<path d="M110.2 71.4L120.3 48.9L120.9 35.4L110.8 53.9Z" fill="#ff9700" stroke="#c77600"/>
<path d="M120.3 48.9L130.3 38.8L130.9 27.0L120.9 35.4Z" fill="#ff7300" stroke="#c75a00"/>
<path d="M130.3 38.8L140.3 31.9L140.9 21.6L130.9 27.0Z" fill="#ff6000" stroke="#c74b00"/>
<path d="M140.3 31.9L150.3 26.1L151.0 17.2L140.9 21.6Z" fill="#ff5200" stroke="#c74000"/>
<path d="M150.3 26.1L160.4 21.9L161.0 14.2L151.0 17.2Z" fill="#ff4700" stroke="#c73800"/>
<path d="M160.4 21.9L170.4 18.2L171.0 11.5L161.0 14.2Z" fill="#ff3f00" stroke="#c73100"/>
<path d="M170.4 18.2L180.4 15.0L181.0 9.3L171.0 11.5Z" fill="#ff3700" stroke="#c72b00"/>
<path d="M180.4 15.0L190.5 12.3L191.1 7.5L181.0 9.3Z" fill="#ff3000" stroke="#c72600"/>
<path d="M190.5 12.3L200.5 10.2L201.1 6.1L191.1 7.5Z" fill="#ff2b00" stroke="#c72200"/>
<path d="M200.5 10.2L210.5 8.6L211.1 5.0L201.1 6.1Z" fill="#ff2700" stroke="#c71e00"/>
<path d="M210.5 8.6L220.5 7.5L221.2 4.3L211.1 5.0Z" fill="#ff2300" stroke="#c71c00"/>
<path d="M220.5 7.5L230.6 6.7L231.2 3.7L221.2 4.3Z" fill="#ff2100" stroke="#c71a00"/>
<path d="M230.6 6.7L240.6 6.1L241.2 3.4L231.2 3.7Z" fill="#ff1f00" stroke="#c71800"/>
<path d="M240.6 6.1L250.6 5.7L251.2 3.1L241.2 3.4Z" fill="#ff1d00" stroke="#c71700"/>
<path d="M250.6 5.7L260.6 5.5L261.3 3.0L251.2 3.1Z" fill="#ff1c00" stroke="#c71600"/>
<path d="M260.6 5.5L270.7 5.3L271.3 2.9L261.3 3.0Z" fill="#ff1b00" stroke="#c71500"/>
<path d="M270.7 5.3L280.7 5.3L281.3 2.9L271.3 2.9Z" fill="#ff1a00" stroke="#c71400"/>
<path d="M280.7 5.3L290.7 5.3L291.3 3.0L281.3 2.9Z" fill="#ff1900" stroke="#c71400"/>
<path d="M290.7 5.3L300.8 5.3L301.4 3.0L291.3 3.0Z" fill="#ff1900" stroke="#c71300"/>
<path d="M300.8 5.3L310.8 5.4L311.4 3.1L301.4 3.0Z" fill="#ff1800" stroke="#c71300"/>
<path d="M310.8 5.4L320.8 5.6L321.4 3.3L311.4 3.1Z" fill="#ff1800" stroke="#c71300"/>
<path d="M320.8 5.6L330.8 5.7L331.5 3.4L321.4 3.3Z" fill="#ff1800" stroke="#c71300"/>
<path d="M330.8 5.7L340.9 5.9L341.5 3.6L331.5 3.4Z" fill="#ff1700" stroke="#c71200"/>
<path d="M340.9 5.9L350.9 6.0L351.5 3.8L341.5 3.6Z" fill="#ff1700" stroke="#c71200"/>
<path d="M350.9 6.0L360.9 6.2L361.5 4.0L351.5 3.8Z" fill="#ff1700" stroke="#c71200"/>
<path d="M360.9 6.2L371.0 6.4L371.6 4.2L361.5 4.0Z" fill="#ff1700" stroke="#c71200"/>
<path d="M371.0 6.4L381.0 6.7L381.6 4.4L371.6 4.2Z" fill="#ff1700" stroke="#c71200"/>
<path d="M90.8 143.0L100.8 104.2L101.4 51.2L91.4 140.7Z" fill="#b0b04f" stroke="#89893e"/>
<path d="M100.8 104.2L110.8 53.9L111.5 20.0L101.4 51.2Z" fill="#ffa900" stroke="#c78400"/>
<path d="M110.8 53.9L120.9 35.4L121.5 10.0L111.5 20.0Z" fill="#ff6700" stroke="#c75100"/>
<path d="M120.9 35.4L130.9 27.0L131.5 5.2L121.5 10.0Z" fill="#ff4e00" stroke="#c73d00"/>
<path d="M130.9 27.0L140.9 21.6L141.5 2.8L131.5 5.2Z" fill="#ff4100" stroke="#c73200"/>
<path d="M140.9 21.6L151.0 17.2L151.6 1.0L141.5 2.8Z" fill="#ff3800" stroke="#c72b00"/>
<path d="M151.0 17.2L161.0 14.2L161.6 0.5L151.6 1.0Z" fill="#ff3100" stroke="#c72600"/>
<path d="M161.0 14.2L171.0 11.5L171.6 0.2L161.6 0.5Z" fill="#ff2d00" stroke="#c72300"/>
<path d="M171.0 11.5L181.0 9.3L181.7 -0.0L171.6 0.2Z" fill="#ff2900" stroke="#c72000"/>
<path d="M181.0 9.3L191.1 7.5L191.7 -0.1L181.7 -0.0Z" fill="#ff2600" stroke="#c71d00"/>
<path d="M191.1 7.5L201.1 6.1L201.7 -0.2L191.7 -0.1Z" fill="#ff2300" stroke="#c71b00"/>
<path d="M201.1 6.1L211.1 5.0L211.7 -0.2L201.7 -0.2Z" fill="#ff2100" stroke="#c71a00"/>
<path d="M211.1 5.0L221.2 4.3L221.8 -0.2L211.7 -0.2Z" fill="#ff1f00" stroke="#c71800"/>
<path d="M221.2 4.3L231.2 3.7L231.8 -0.1L221.8 -0.2Z" fill="#ff1e00" stroke="#c71700"/>
<path d="M231.2 3.7L241.2 3.4L241.8 -0.1L231.8 -0.1Z" fill="#ff1d00" stroke="#c71600"/>
<path d="M241.2 3.4L251.2 3.1L251.8 0.0L241.8 -0.1Z" fill="#ff1c00" stroke="#c71600"/>
<path d="M251.2 3.1L261.3 3.0L261.9 0.1L251.8 0.0Z" fill="#ff1b00" stroke="#c71500"/>
<path d="M261.3 3.0L271.3 2.9L271.9 0.2L261.9 0.1Z" fill="#ff1a00" stroke="#c71400"/>
<path d="M271.3 2.9L281.3 2.9L281.9 0.3L271.9 0.2Z" fill="#ff1a00" stroke="#c71400"/>
<path d="M281.3 2.9L291.3 3.0L292.0 0.5L281.9 0.3Z" fill="#ff1900" stroke="#c71400"/>
<path d="M291.3 3.0L301.4 3.0L302.0 0.6L292.0 0.5Z" fill="#ff1900" stroke="#c71300"/>
<path d="M301.4 3.0L311.4 3.1L312.0 0.8L302.0 0.6Z" fill="#ff1800" stroke="#c71300"/>
<path d="M311.4 3.1L321.4 3.3L322.0 0.9L312.0 0.8Z" fill="#ff1800" stroke="#c71300"/>
<path d="M321.4 3.3L331.5 3.4L332.1 1.1L322.0 0.9Z" fill="#ff1800" stroke="#c71300"/>
<path d="M331.5 3.4L341.5 3.6L342.1 1.3L332.1 1.1Z" fill="#ff1800" stroke="#c71200"/>
<path d="M341.5 3.6L351.5 3.8L352.1 1.5L342.1 1.3Z" fill="#ff1700" stroke="#c71200"/>
<path d="M351.5 3.8L361.5 4.0L362.2 1.7L352.1 1.5Z" fill="#ff1700" stroke="#c71200"/>
<path d="M361.5 4.0L371.6 4.2L372.2 1.9L362.2 1.7Z" fill="#ff1700" stroke="#c71200"/>
<path d="M371.6 4.2L381.6 4.4L382.2 2.1L372.2 1.9Z" fill="#ff1700" stroke="#c71200"/>
</g>
<g stroke="#222" stroke-width="0.75" fill="none">
<path d="M67.1 238.5L67.1 80"/>
<path d="M67.1 238.5L354.5 246.4"/>
<path d="M356.9 246.6L381.8 155.6"/>
</g>
<g fill="#111" stroke="none">
<path d="M67.1 76.8L64.4 82.8L67.1 81.3L69.8 82.8Z"/>
<path d="M357.8 246.5L351.8 243.7L353.3 246.4L351.6 249.0Z"/>
<path d="M382.6 153.0L378.2 158.2L381.2 157.4L383.4 159.6Z"/>
</g>
<g stroke="#777" stroke-width="0.5">
<path d="M63.4 86.5H71M63.4 154.8H71M63.4 223.5H71"/>
<path d="M112.4 236.8L110.8 242.6M157.0 238.1L155.4 243.9M201.7 239.3L200.1 245.1M246.4 240.5L244.8 246.3M291.0 241.8L289.4 247.6M335.7 243.0L334.1 248.8M67.1 236V242M357.4 244L356.4 249.6"/>
</g>
<g font-size="8.3px" fill="#1a1a1a" style="filter:grayscale(1)">
<text x="52.9" y="95.6" textLength="4.6" lengthAdjust="spacingAndGlyphs">0</text>
<text x="36" y="170.2" textLength="21.5" lengthAdjust="spacingAndGlyphs">−0.5</text>
<text x="45.2" y="235.3" textLength="12.1" lengthAdjust="spacingAndGlyphs">−1</text>
<text x="63.1" y="253.2" textLength="4.6" lengthAdjust="spacingAndGlyphs">0</text>
<text x="103.5" y="254.5" textLength="14.1" lengthAdjust="spacingAndGlyphs">0.2</text>
<text x="148" y="255.8" textLength="14.1" lengthAdjust="spacingAndGlyphs">0.4</text>
<text x="192.2" y="257" textLength="14.1" lengthAdjust="spacingAndGlyphs">0.6</text>
<text x="236.7" y="258.2" textLength="14.1" lengthAdjust="spacingAndGlyphs">0.8</text>
<text x="286.2" y="259.5" textLength="4.4" lengthAdjust="spacingAndGlyphs">1</text>
<text x="326" y="260.7" textLength="14.1" lengthAdjust="spacingAndGlyphs">1.2</text>
<text x="366.9" y="258" textLength="4.6" lengthAdjust="spacingAndGlyphs">0</text>
<text x="375.7" y="224.8" textLength="14.1" lengthAdjust="spacingAndGlyphs">0.2</text>
<text x="386" y="187.6" textLength="14.1" lengthAdjust="spacingAndGlyphs">0.4</text>
</g>
<g font-style="italic" fill="#1a1a1a" style="filter:grayscale(1)">
<text x="201.3" y="280" font-size="18px">T</text>
<text x="400.3" y="242.6" font-size="18px">J</text>
<text x="5.4" y="198.3" font-size="17px">n</text>
<text x="14.8" y="200.8" font-size="12px">U</text>
</g>

</svg>
</body></html>
